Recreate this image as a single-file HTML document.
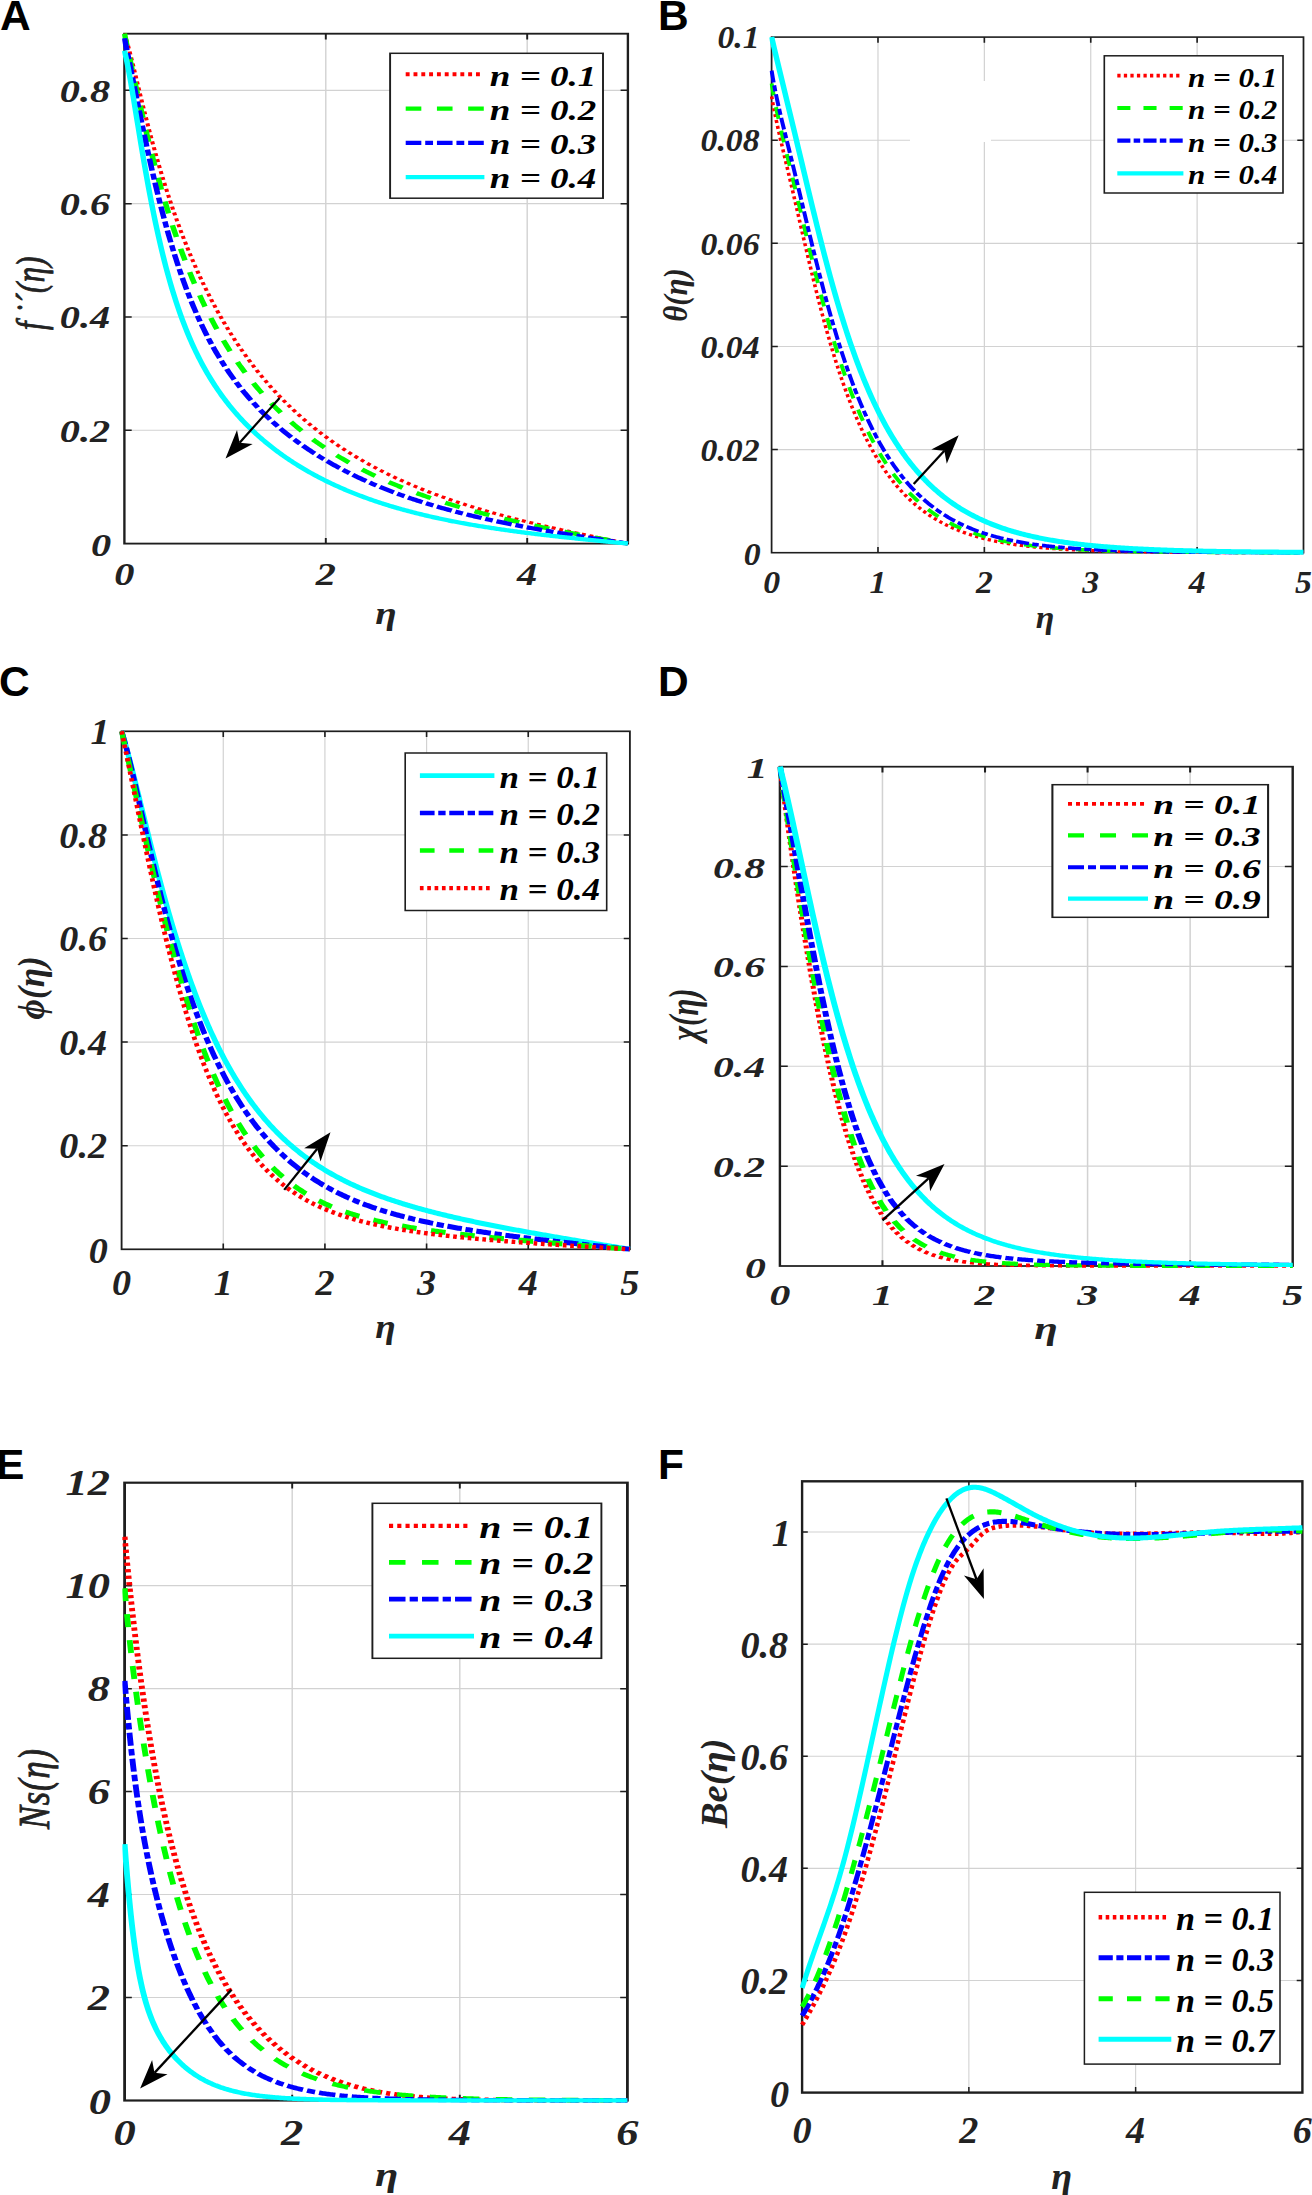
<!DOCTYPE html>
<html><head><meta charset="utf-8"><title>Figure</title>
<style>html,body{margin:0;padding:0;background:#fff}svg{display:block}</style></head>
<body>
<svg width="1312" height="2195" viewBox="0 0 1312 2195">
<rect width="1312" height="2195" fill="#fff"/>
<!-- panel A -->
<g transform="translate(124.4,0) scale(1.28,1)">
<path d="M157.34 33.7V543.6M314.69 33.7V543.6M0 430.29H393.36M0 316.98H393.36M0 203.67H393.36M0 90.36H393.36" stroke="#d2d2d2" stroke-width="1.1" fill="none"/>
<rect x="0" y="33.7" width="393.36" height="509.9" fill="none" stroke="#1e1e1e" stroke-width="1.85"/>
<path d="M157.34 543.6v-5.7M157.34 33.7v5.7M314.69 543.6v-5.7M314.69 33.7v5.7M0 430.29h5.7M393.36 430.29h-5.7M0 316.98h5.7M393.36 316.98h-5.7M0 203.67h5.7M393.36 203.67h-5.7M0 90.36h5.7M393.36 90.36h-5.7" stroke="#1e1e1e" stroke-width="1.5" fill="none"/>
<clipPath id="clipA"><rect x="-1.72" y="31.7" width="396.8" height="514.1"/></clipPath>
<g clip-path="url(#clipA)" fill="none" stroke-width="4.3">
<path d="M0 33.7L0.98 37.51L1.97 41.69L2.95 46.17L3.93 50.87L4.92 55.74L5.9 60.74L6.88 65.83L7.87 70.98L8.85 76.17L9.83 81.36L10.82 86.55L11.8 91.73L12.78 96.88L13.77 101.99L14.75 107.05L15.73 112.07L16.72 117.04L17.7 121.95L18.68 126.79L19.67 131.58L20.65 136.31L21.63 140.97L22.62 145.57L23.6 150.1L24.58 154.57L25.57 158.98L26.55 163.32L27.54 167.6L28.52 171.82L29.5 175.98L30.49 180.07L31.47 184.11L32.45 188.09L33.44 192.01L34.42 195.87L35.4 199.68L36.39 203.43L37.37 207.13L38.35 210.78L39.34 214.37L40.32 217.91L41.3 221.4L42.29 224.84L43.27 228.24L44.25 231.58L45.24 234.88L46.22 238.14L47.2 241.34L48.19 244.51L49.17 247.63L50.15 250.71L51.14 253.74L52.12 256.73L53.1 259.69L54.09 262.6L55.07 265.48L56.05 268.31L57.04 271.11L58.02 273.87L59 276.6L59.99 279.29L60.97 281.94L61.95 284.57L62.94 287.15L63.92 289.7L64.9 292.23L65.89 294.71L66.87 297.17L67.85 299.6L68.84 301.99L69.82 304.36L70.8 306.69L71.79 309L72.77 311.28L73.75 313.53L74.74 315.75L75.72 317.95L76.71 320.12L77.69 322.26L78.67 324.38L79.66 326.47L80.64 328.54L81.62 330.58L82.61 332.6L83.59 334.59L84.57 336.56L85.56 338.51L86.54 340.44L87.52 342.34L88.51 344.22L89.49 346.08L90.47 347.92L91.46 349.74L92.44 351.54L93.42 353.32L94.41 355.07L95.39 356.81L96.37 358.53L97.36 360.23L98.34 361.91L99.32 363.57L100.31 365.22L101.29 366.84L102.27 368.45L103.26 370.04L104.24 371.62L105.22 373.18L106.21 374.72L107.19 376.24L108.17 377.75L109.16 379.24L110.14 380.72L111.12 382.18L112.11 383.63L113.09 385.06L114.07 386.47L115.06 387.88L116.04 389.26L117.02 390.64L118.01 392L118.99 393.34L119.97 394.67L120.96 395.99L121.94 397.3L122.92 398.59L123.91 399.87L124.89 401.14L125.87 402.39L126.86 403.63L127.84 404.86L128.83 406.08L129.81 407.29L130.79 408.48L131.78 409.67L132.76 410.84L133.74 412L134.73 413.15L135.71 414.28L136.69 415.41L137.68 416.53L138.66 417.63L139.64 418.73L140.63 419.82L141.61 420.89L142.59 421.96L143.58 423.01L144.56 424.06L145.54 425.09L146.53 426.12L147.51 427.14L148.49 428.15L149.48 429.14L150.46 430.13L151.44 431.12L152.43 432.09L153.41 433.05L154.39 434.01L155.38 434.95L156.36 435.89L157.34 436.82L158.33 437.74L159.31 438.65L160.29 439.56L161.28 440.45L162.26 441.34L163.24 442.23L164.23 443.1L165.21 443.97L166.19 444.82L167.18 445.68L168.16 446.52L169.14 447.36L170.13 448.19L171.11 449.01L172.09 449.83L173.08 450.63L174.06 451.44L175.04 452.23L176.03 453.02L177.01 453.8L178 454.58L178.98 455.35L179.96 456.11L180.95 456.87L181.93 457.62L182.91 458.36L183.9 459.1L184.88 459.83L185.86 460.56L186.85 461.28L187.83 461.99L188.81 462.7L189.8 463.4L190.78 464.1L191.76 464.79L192.75 465.47L193.73 466.16L194.71 466.83L195.7 467.5L196.68 468.16L197.66 468.82L198.65 469.48L199.63 470.13L200.61 470.77L201.6 471.41L202.58 472.04L203.56 472.67L204.55 473.3L205.53 473.92L206.51 474.53L207.5 475.14L208.48 475.74L209.46 476.34L210.45 476.94L211.43 477.53L212.41 478.12L213.4 478.7L214.38 479.28L215.36 479.85L216.35 480.42L217.33 480.99L218.31 481.55L219.3 482.11L220.28 482.66L221.26 483.21L222.25 483.75L223.23 484.29L224.21 484.83L225.2 485.36L226.18 485.89L227.17 486.42L228.15 486.94L229.13 487.46L230.12 487.97L231.1 488.48L232.08 488.99L233.07 489.49L234.05 489.99L235.03 490.49L236.02 490.98L237 491.47L237.98 491.95L238.97 492.44L239.95 492.92L240.93 493.39L241.92 493.86L242.9 494.33L243.88 494.8L244.87 495.26L245.85 495.72L246.83 496.18L247.82 496.63L248.8 497.08L249.78 497.53L250.77 497.98L251.75 498.42L252.73 498.86L253.72 499.29L254.7 499.72L255.68 500.16L256.67 500.58L257.65 501.01L258.63 501.43L259.62 501.85L260.6 502.26L261.58 502.68L262.57 503.09L263.55 503.5L264.53 503.9L265.52 504.31L266.5 504.71L267.48 505.11L268.47 505.5L269.45 505.9L270.43 506.29L271.42 506.68L272.4 507.06L273.38 507.45L274.37 507.83L275.35 508.21L276.33 508.59L277.32 508.96L278.3 509.34L279.29 509.71L280.27 510.08L281.25 510.44L282.24 510.81L283.22 511.17L284.2 511.53L285.19 511.89L286.17 512.25L287.15 512.6L288.14 512.95L289.12 513.3L290.1 513.65L291.09 514L292.07 514.34L293.05 514.69L294.04 515.03L295.02 515.37L296 515.71L296.99 516.04L297.97 516.38L298.95 516.71L299.94 517.04L300.92 517.37L301.9 517.7L302.89 518.02L303.87 518.35L304.85 518.67L305.84 518.99L306.82 519.31L307.8 519.63L308.79 519.94L309.77 520.26L310.75 520.57L311.74 520.89L312.72 521.2L313.7 521.51L314.69 521.81L315.67 522.12L316.65 522.43L317.64 522.73L318.62 523.03L319.6 523.33L320.59 523.64L321.57 523.93L322.55 524.23L323.54 524.53L324.52 524.82L325.5 525.12L326.49 525.41L327.47 525.7L328.46 525.99L329.44 526.28L330.42 526.57L331.41 526.86L332.39 527.15L333.37 527.43L334.36 527.72L335.34 528L336.32 528.28L337.31 528.56L338.29 528.85L339.27 529.13L340.26 529.4L341.24 529.68L342.22 529.96L343.21 530.24L344.19 530.51L345.17 530.79L346.16 531.06L347.14 531.33L348.12 531.61L349.11 531.88L350.09 532.15L351.07 532.42L352.06 532.69L353.04 532.96L354.02 533.22L355.01 533.49L355.99 533.76L356.97 534.03L357.96 534.29L358.94 534.56L359.92 534.82L360.91 535.09L361.89 535.35L362.87 535.61L363.86 535.87L364.84 536.14L365.82 536.4L366.81 536.66L367.79 536.92L368.77 537.18L369.76 537.44L370.74 537.7L371.72 537.96L372.71 538.22L373.69 538.48L374.67 538.73L375.66 538.99L376.64 539.25L377.63 539.51L378.61 539.76L379.59 540.02L380.58 540.28L381.56 540.53L382.54 540.79L383.53 541.05L384.51 541.3L385.49 541.56L386.48 541.81L387.46 542.07L388.44 542.32L389.43 542.58L390.41 542.83L391.39 543.09L392.38 543.34L393.36 543.6" stroke="#ff0000" stroke-dasharray="3.05 3.05" stroke-width="3.18"/>
<path d="M0 33.7L0.98 39.51L1.97 45.35L2.95 51.2L3.93 57.06L4.92 62.9L5.9 68.74L6.88 74.54L7.87 80.31L8.85 86.04L9.83 91.73L10.82 97.37L11.8 102.95L12.78 108.47L13.77 113.94L14.75 119.34L15.73 124.67L16.72 129.94L17.7 135.14L18.68 140.27L19.67 145.33L20.65 150.32L21.63 155.24L22.62 160.09L23.6 164.87L24.58 169.58L25.57 174.21L26.55 178.78L27.54 183.28L28.52 187.71L29.5 192.07L30.49 196.37L31.47 200.6L32.45 204.76L33.44 208.86L34.42 212.9L35.4 216.87L36.39 220.78L37.37 224.63L38.35 228.42L39.34 232.15L40.32 235.82L41.3 239.44L42.29 242.99L43.27 246.5L44.25 249.95L45.24 253.34L46.22 256.69L47.2 259.98L48.19 263.22L49.17 266.42L50.15 269.56L51.14 272.66L52.12 275.71L53.1 278.71L54.09 281.67L55.07 284.58L56.05 287.45L57.04 290.28L58.02 293.07L59 295.81L59.99 298.52L60.97 301.18L61.95 303.81L62.94 306.4L63.92 308.95L64.9 311.46L65.89 313.94L66.87 316.38L67.85 318.79L68.84 321.16L69.82 323.51L70.8 325.81L71.79 328.09L72.77 330.33L73.75 332.55L74.74 334.73L75.72 336.88L76.71 339.01L77.69 341.1L78.67 343.17L79.66 345.21L80.64 347.22L81.62 349.2L82.61 351.16L83.59 353.09L84.57 355L85.56 356.88L86.54 358.74L87.52 360.57L88.51 362.38L89.49 364.17L90.47 365.93L91.46 367.67L92.44 369.39L93.42 371.09L94.41 372.77L95.39 374.42L96.37 376.06L97.36 377.68L98.34 379.27L99.32 380.85L100.31 382.4L101.29 383.94L102.27 385.46L103.26 386.96L104.24 388.44L105.22 389.91L106.21 391.36L107.19 392.79L108.17 394.2L109.16 395.6L110.14 396.98L111.12 398.35L112.11 399.7L113.09 401.03L114.07 402.35L115.06 403.66L116.04 404.95L117.02 406.22L118.01 407.48L118.99 408.73L119.97 409.96L120.96 411.18L121.94 412.39L122.92 413.58L123.91 414.76L124.89 415.93L125.87 417.08L126.86 418.23L127.84 419.36L128.83 420.47L129.81 421.58L130.79 422.68L131.78 423.76L132.76 424.83L133.74 425.89L134.73 426.94L135.71 427.98L136.69 429.01L137.68 430.03L138.66 431.03L139.64 432.03L140.63 433.02L141.61 433.99L142.59 434.96L143.58 435.92L144.56 436.87L145.54 437.81L146.53 438.74L147.51 439.66L148.49 440.57L149.48 441.47L150.46 442.37L151.44 443.25L152.43 444.13L153.41 445L154.39 445.86L155.38 446.71L156.36 447.55L157.34 448.39L158.33 449.22L159.31 450.04L160.29 450.85L161.28 451.66L162.26 452.46L163.24 453.25L164.23 454.03L165.21 454.81L166.19 455.58L167.18 456.34L168.16 457.09L169.14 457.84L170.13 458.58L171.11 459.32L172.09 460.05L173.08 460.77L174.06 461.49L175.04 462.2L176.03 462.9L177.01 463.6L178 464.29L178.98 464.98L179.96 465.66L180.95 466.33L181.93 467L182.91 467.66L183.9 468.32L184.88 468.97L185.86 469.61L186.85 470.25L187.83 470.89L188.81 471.52L189.8 472.14L190.78 472.76L191.76 473.38L192.75 473.99L193.73 474.59L194.71 475.19L195.7 475.78L196.68 476.37L197.66 476.96L198.65 477.54L199.63 478.12L200.61 478.69L201.6 479.25L202.58 479.81L203.56 480.37L204.55 480.93L205.53 481.47L206.51 482.02L207.5 482.56L208.48 483.1L209.46 483.63L210.45 484.16L211.43 484.68L212.41 485.2L213.4 485.71L214.38 486.23L215.36 486.74L216.35 487.24L217.33 487.74L218.31 488.24L219.3 488.73L220.28 489.22L221.26 489.71L222.25 490.19L223.23 490.67L224.21 491.14L225.2 491.61L226.18 492.08L227.17 492.55L228.15 493.01L229.13 493.47L230.12 493.92L231.1 494.37L232.08 494.82L233.07 495.27L234.05 495.71L235.03 496.15L236.02 496.59L237 497.02L237.98 497.45L238.97 497.88L239.95 498.3L240.93 498.72L241.92 499.14L242.9 499.56L243.88 499.97L244.87 500.38L245.85 500.79L246.83 501.19L247.82 501.59L248.8 501.99L249.78 502.39L250.77 502.78L251.75 503.17L252.73 503.56L253.72 503.95L254.7 504.33L255.68 504.71L256.67 505.09L257.65 505.47L258.63 505.84L259.62 506.22L260.6 506.59L261.58 506.95L262.57 507.32L263.55 507.68L264.53 508.04L265.52 508.4L266.5 508.76L267.48 509.11L268.47 509.46L269.45 509.81L270.43 510.16L271.42 510.5L272.4 510.85L273.38 511.19L274.37 511.53L275.35 511.87L276.33 512.2L277.32 512.54L278.3 512.87L279.29 513.2L280.27 513.53L281.25 513.85L282.24 514.18L283.22 514.5L284.2 514.82L285.19 515.14L286.17 515.46L287.15 515.77L288.14 516.09L289.12 516.4L290.1 516.71L291.09 517.02L292.07 517.33L293.05 517.63L294.04 517.94L295.02 518.24L296 518.54L296.99 518.84L297.97 519.14L298.95 519.44L299.94 519.73L300.92 520.02L301.9 520.32L302.89 520.61L303.87 520.9L304.85 521.19L305.84 521.47L306.82 521.76L307.8 522.04L308.79 522.33L309.77 522.61L310.75 522.89L311.74 523.17L312.72 523.45L313.7 523.72L314.69 524L315.67 524.27L316.65 524.55L317.64 524.82L318.62 525.09L319.6 525.36L320.59 525.63L321.57 525.9L322.55 526.16L323.54 526.43L324.52 526.7L325.5 526.96L326.49 527.22L327.47 527.48L328.46 527.74L329.44 528L330.42 528.26L331.41 528.52L332.39 528.78L333.37 529.04L334.36 529.29L335.34 529.55L336.32 529.8L337.31 530.05L338.29 530.3L339.27 530.56L340.26 530.81L341.24 531.06L342.22 531.31L343.21 531.55L344.19 531.8L345.17 532.05L346.16 532.3L347.14 532.54L348.12 532.79L349.11 533.03L350.09 533.27L351.07 533.52L352.06 533.76L353.04 534L354.02 534.24L355.01 534.48L355.99 534.73L356.97 534.97L357.96 535.2L358.94 535.44L359.92 535.68L360.91 535.92L361.89 536.16L362.87 536.39L363.86 536.63L364.84 536.87L365.82 537.1L366.81 537.34L367.79 537.57L368.77 537.81L369.76 538.04L370.74 538.28L371.72 538.51L372.71 538.74L373.69 538.98L374.67 539.21L375.66 539.44L376.64 539.67L377.63 539.91L378.61 540.14L379.59 540.37L380.58 540.6L381.56 540.83L382.54 541.06L383.53 541.29L384.51 541.53L385.49 541.76L386.48 541.99L387.46 542.22L388.44 542.45L389.43 542.68L390.41 542.91L391.39 543.14L392.38 543.37L393.36 543.6" stroke="#00ff00" stroke-dasharray="12.2 12.2"/>
<path d="M0 38.23L0.98 44.19L1.97 50.23L2.95 56.34L3.93 62.5L4.92 68.69L5.9 74.91L6.88 81.15L7.87 87.38L8.85 93.6L9.83 99.8L10.82 105.97L11.8 112.1L12.78 118.2L13.77 124.24L14.75 130.23L15.73 136.16L16.72 142.03L17.7 147.83L18.68 153.56L19.67 159.21L20.65 164.79L21.63 170.29L22.62 175.71L23.6 181.05L24.58 186.31L25.57 191.48L26.55 196.57L27.54 201.58L28.52 206.5L29.5 211.34L30.49 216.09L31.47 220.76L32.45 225.35L33.44 229.85L34.42 234.27L35.4 238.61L36.39 242.86L37.37 247.04L38.35 251.14L39.34 255.16L40.32 259.1L41.3 262.97L42.29 266.77L43.27 270.49L44.25 274.14L45.24 277.72L46.22 281.23L47.2 284.67L48.19 288.05L49.17 291.36L50.15 294.61L51.14 297.79L52.12 300.92L53.1 303.98L54.09 306.99L55.07 309.93L56.05 312.83L57.04 315.67L58.02 318.45L59 321.18L59.99 323.86L60.97 326.49L61.95 329.08L62.94 331.61L63.92 334.1L64.9 336.55L65.89 338.95L66.87 341.3L67.85 343.62L68.84 345.89L69.82 348.13L70.8 350.32L71.79 352.48L72.77 354.6L73.75 356.69L74.74 358.74L75.72 360.75L76.71 362.73L77.69 364.68L78.67 366.6L79.66 368.49L80.64 370.34L81.62 372.17L82.61 373.97L83.59 375.74L84.57 377.48L85.56 379.2L86.54 380.89L87.52 382.55L88.51 384.19L89.49 385.81L90.47 387.4L91.46 388.97L92.44 390.51L93.42 392.04L94.41 393.54L95.39 395.02L96.37 396.48L97.36 397.92L98.34 399.35L99.32 400.75L100.31 402.13L101.29 403.5L102.27 404.85L103.26 406.18L104.24 407.49L105.22 408.79L106.21 410.07L107.19 411.33L108.17 412.58L109.16 413.81L110.14 415.03L111.12 416.24L112.11 417.43L113.09 418.6L114.07 419.76L115.06 420.91L116.04 422.05L117.02 423.17L118.01 424.28L118.99 425.37L119.97 426.46L120.96 427.53L121.94 428.59L122.92 429.64L123.91 430.67L124.89 431.7L125.87 432.72L126.86 433.72L127.84 434.71L128.83 435.7L129.81 436.67L130.79 437.63L131.78 438.59L132.76 439.53L133.74 440.46L134.73 441.39L135.71 442.3L136.69 443.21L137.68 444.11L138.66 444.99L139.64 445.87L140.63 446.74L141.61 447.61L142.59 448.46L143.58 449.31L144.56 450.15L145.54 450.98L146.53 451.8L147.51 452.61L148.49 453.42L149.48 454.22L150.46 455.01L151.44 455.79L152.43 456.57L153.41 457.34L154.39 458.11L155.38 458.86L156.36 459.61L157.34 460.35L158.33 461.09L159.31 461.82L160.29 462.54L161.28 463.26L162.26 463.97L163.24 464.67L164.23 465.37L165.21 466.06L166.19 466.75L167.18 467.43L168.16 468.1L169.14 468.77L170.13 469.43L171.11 470.09L172.09 470.74L173.08 471.39L174.06 472.03L175.04 472.66L176.03 473.29L177.01 473.92L178 474.53L178.98 475.15L179.96 475.76L180.95 476.36L181.93 476.96L182.91 477.55L183.9 478.14L184.88 478.72L185.86 479.3L186.85 479.88L187.83 480.44L188.81 481.01L189.8 481.57L190.78 482.12L191.76 482.68L192.75 483.22L193.73 483.76L194.71 484.3L195.7 484.83L196.68 485.36L197.66 485.89L198.65 486.41L199.63 486.93L200.61 487.44L201.6 487.95L202.58 488.45L203.56 488.95L204.55 489.45L205.53 489.94L206.51 490.43L207.5 490.91L208.48 491.39L209.46 491.87L210.45 492.34L211.43 492.81L212.41 493.28L213.4 493.74L214.38 494.2L215.36 494.65L216.35 495.11L217.33 495.55L218.31 496L219.3 496.44L220.28 496.88L221.26 497.31L222.25 497.74L223.23 498.17L224.21 498.6L225.2 499.02L226.18 499.44L227.17 499.85L228.15 500.26L229.13 500.67L230.12 501.08L231.1 501.48L232.08 501.88L233.07 502.28L234.05 502.67L235.03 503.06L236.02 503.45L237 503.84L237.98 504.22L238.97 504.6L239.95 504.98L240.93 505.35L241.92 505.72L242.9 506.09L243.88 506.46L244.87 506.82L245.85 507.18L246.83 507.54L247.82 507.9L248.8 508.25L249.78 508.6L250.77 508.95L251.75 509.29L252.73 509.64L253.72 509.98L254.7 510.32L255.68 510.65L256.67 510.99L257.65 511.32L258.63 511.65L259.62 511.98L260.6 512.3L261.58 512.62L262.57 512.94L263.55 513.26L264.53 513.58L265.52 513.89L266.5 514.2L267.48 514.51L268.47 514.82L269.45 515.13L270.43 515.43L271.42 515.73L272.4 516.03L273.38 516.33L274.37 516.63L275.35 516.92L276.33 517.21L277.32 517.5L278.3 517.79L279.29 518.08L280.27 518.36L281.25 518.64L282.24 518.93L283.22 519.21L284.2 519.48L285.19 519.76L286.17 520.03L287.15 520.31L288.14 520.58L289.12 520.85L290.1 521.11L291.09 521.38L292.07 521.64L293.05 521.91L294.04 522.17L295.02 522.43L296 522.69L296.99 522.95L297.97 523.2L298.95 523.46L299.94 523.71L300.92 523.96L301.9 524.21L302.89 524.46L303.87 524.7L304.85 524.95L305.84 525.2L306.82 525.44L307.8 525.68L308.79 525.92L309.77 526.16L310.75 526.4L311.74 526.64L312.72 526.87L313.7 527.11L314.69 527.34L315.67 527.57L316.65 527.8L317.64 528.03L318.62 528.26L319.6 528.49L320.59 528.72L321.57 528.94L322.55 529.17L323.54 529.39L324.52 529.62L325.5 529.84L326.49 530.06L327.47 530.28L328.46 530.5L329.44 530.71L330.42 530.93L331.41 531.15L332.39 531.36L333.37 531.58L334.36 531.79L335.34 532L336.32 532.22L337.31 532.43L338.29 532.64L339.27 532.85L340.26 533.06L341.24 533.26L342.22 533.47L343.21 533.68L344.19 533.88L345.17 534.09L346.16 534.29L347.14 534.5L348.12 534.7L349.11 534.9L350.09 535.11L351.07 535.31L352.06 535.51L353.04 535.71L354.02 535.91L355.01 536.11L355.99 536.31L356.97 536.5L357.96 536.7L358.94 536.9L359.92 537.1L360.91 537.29L361.89 537.49L362.87 537.68L363.86 537.88L364.84 538.07L365.82 538.27L366.81 538.46L367.79 538.65L368.77 538.85L369.76 539.04L370.74 539.23L371.72 539.42L372.71 539.62L373.69 539.81L374.67 540L375.66 540.19L376.64 540.38L377.63 540.57L378.61 540.76L379.59 540.95L380.58 541.14L381.56 541.33L382.54 541.52L383.53 541.71L384.51 541.9L385.49 542.09L386.48 542.28L387.46 542.47L388.44 542.66L389.43 542.84L390.41 543.03L391.39 543.22L392.38 543.41L393.36 543.6" stroke="#0000ff" stroke-dasharray="12.2 3.05 6.1 3.05"/>
<path d="M0 50.7L0.98 55.83L1.97 61.63L2.95 67.95L3.93 74.69L4.92 81.77L5.9 89.09L6.88 96.59L7.87 104.22L8.85 111.91L9.83 119.64L10.82 127.35L11.8 135.03L12.78 142.65L13.77 150.18L14.75 157.61L15.73 164.92L16.72 172.11L17.7 179.17L18.68 186.08L19.67 192.84L20.65 199.46L21.63 205.92L22.62 212.23L23.6 218.38L24.58 224.38L25.57 230.23L26.55 235.92L27.54 241.47L28.52 246.87L29.5 252.13L30.49 257.25L31.47 262.23L32.45 267.08L33.44 271.8L34.42 276.39L35.4 280.86L36.39 285.21L37.37 289.45L38.35 293.57L39.34 297.59L40.32 301.5L41.3 305.3L42.29 309.01L43.27 312.63L44.25 316.15L45.24 319.58L46.22 322.93L47.2 326.19L48.19 329.38L49.17 332.48L50.15 335.51L51.14 338.47L52.12 341.36L53.1 344.19L54.09 346.94L55.07 349.64L56.05 352.27L57.04 354.84L58.02 357.36L59 359.82L59.99 362.23L60.97 364.59L61.95 366.9L62.94 369.16L63.92 371.38L64.9 373.55L65.89 375.67L66.87 377.76L67.85 379.8L68.84 381.81L69.82 383.77L70.8 385.7L71.79 387.6L72.77 389.46L73.75 391.28L74.74 393.07L75.72 394.84L76.71 396.57L77.69 398.27L78.67 399.94L79.66 401.58L80.64 403.2L81.62 404.79L82.61 406.35L83.59 407.89L84.57 409.41L85.56 410.9L86.54 412.36L87.52 413.81L88.51 415.23L89.49 416.64L90.47 418.02L91.46 419.38L92.44 420.72L93.42 422.04L94.41 423.34L95.39 424.63L96.37 425.9L97.36 427.15L98.34 428.38L99.32 429.59L100.31 430.79L101.29 431.98L102.27 433.14L103.26 434.3L104.24 435.44L105.22 436.56L106.21 437.67L107.19 438.76L108.17 439.84L109.16 440.91L110.14 441.97L111.12 443.01L112.11 444.04L113.09 445.05L114.07 446.06L115.06 447.05L116.04 448.03L117.02 449L118.01 449.96L118.99 450.91L119.97 451.84L120.96 452.77L121.94 453.68L122.92 454.59L123.91 455.48L124.89 456.36L125.87 457.24L126.86 458.1L127.84 458.96L128.83 459.81L129.81 460.64L130.79 461.47L131.78 462.29L132.76 463.1L133.74 463.9L134.73 464.69L135.71 465.48L136.69 466.25L137.68 467.02L138.66 467.78L139.64 468.53L140.63 469.27L141.61 470.01L142.59 470.74L143.58 471.46L144.56 472.17L145.54 472.88L146.53 473.58L147.51 474.27L148.49 474.96L149.48 475.63L150.46 476.3L151.44 476.97L152.43 477.63L153.41 478.28L154.39 478.92L155.38 479.56L156.36 480.19L157.34 480.82L158.33 481.44L159.31 482.05L160.29 482.66L161.28 483.26L162.26 483.85L163.24 484.44L164.23 485.03L165.21 485.6L166.19 486.18L167.18 486.74L168.16 487.3L169.14 487.86L170.13 488.41L171.11 488.96L172.09 489.5L173.08 490.03L174.06 490.56L175.04 491.08L176.03 491.6L177.01 492.12L178 492.63L178.98 493.13L179.96 493.63L180.95 494.13L181.93 494.62L182.91 495.1L183.9 495.59L184.88 496.06L185.86 496.53L186.85 497L187.83 497.46L188.81 497.92L189.8 498.38L190.78 498.83L191.76 499.27L192.75 499.72L193.73 500.15L194.71 500.59L195.7 501.02L196.68 501.44L197.66 501.87L198.65 502.28L199.63 502.7L200.61 503.11L201.6 503.51L202.58 503.92L203.56 504.32L204.55 504.71L205.53 505.1L206.51 505.49L207.5 505.88L208.48 506.26L209.46 506.63L210.45 507.01L211.43 507.38L212.41 507.75L213.4 508.11L214.38 508.47L215.36 508.83L216.35 509.18L217.33 509.53L218.31 509.88L219.3 510.22L220.28 510.57L221.26 510.9L222.25 511.24L223.23 511.57L224.21 511.9L225.2 512.23L226.18 512.55L227.17 512.87L228.15 513.19L229.13 513.51L230.12 513.82L231.1 514.13L232.08 514.43L233.07 514.74L234.05 515.04L235.03 515.34L236.02 515.63L237 515.93L237.98 516.22L238.97 516.51L239.95 516.79L240.93 517.08L241.92 517.36L242.9 517.64L243.88 517.91L244.87 518.19L245.85 518.46L246.83 518.73L247.82 518.99L248.8 519.26L249.78 519.52L250.77 519.78L251.75 520.04L252.73 520.29L253.72 520.55L254.7 520.8L255.68 521.05L256.67 521.29L257.65 521.54L258.63 521.78L259.62 522.02L260.6 522.26L261.58 522.5L262.57 522.74L263.55 522.97L264.53 523.2L265.52 523.43L266.5 523.66L267.48 523.88L268.47 524.11L269.45 524.33L270.43 524.55L271.42 524.77L272.4 524.98L273.38 525.2L274.37 525.41L275.35 525.62L276.33 525.83L277.32 526.04L278.3 526.25L279.29 526.45L280.27 526.66L281.25 526.86L282.24 527.06L283.22 527.26L284.2 527.46L285.19 527.65L286.17 527.85L287.15 528.04L288.14 528.23L289.12 528.42L290.1 528.61L291.09 528.8L292.07 528.99L293.05 529.17L294.04 529.35L295.02 529.54L296 529.72L296.99 529.9L297.97 530.07L298.95 530.25L299.94 530.43L300.92 530.6L301.9 530.77L302.89 530.95L303.87 531.12L304.85 531.29L305.84 531.46L306.82 531.62L307.8 531.79L308.79 531.96L309.77 532.12L310.75 532.28L311.74 532.45L312.72 532.61L313.7 532.77L314.69 532.93L315.67 533.08L316.65 533.24L317.64 533.4L318.62 533.55L319.6 533.71L320.59 533.86L321.57 534.01L322.55 534.17L323.54 534.32L324.52 534.47L325.5 534.62L326.49 534.76L327.47 534.91L328.46 535.06L329.44 535.2L330.42 535.35L331.41 535.49L332.39 535.64L333.37 535.78L334.36 535.92L335.34 536.06L336.32 536.2L337.31 536.34L338.29 536.48L339.27 536.62L340.26 536.76L341.24 536.9L342.22 537.04L343.21 537.17L344.19 537.31L345.17 537.44L346.16 537.58L347.14 537.71L348.12 537.84L349.11 537.98L350.09 538.11L351.07 538.24L352.06 538.37L353.04 538.5L354.02 538.63L355.01 538.76L355.99 538.89L356.97 539.02L357.96 539.15L358.94 539.28L359.92 539.41L360.91 539.53L361.89 539.66L362.87 539.79L363.86 539.92L364.84 540.04L365.82 540.17L366.81 540.29L367.79 540.42L368.77 540.54L369.76 540.67L370.74 540.79L371.72 540.91L372.71 541.04L373.69 541.16L374.67 541.29L375.66 541.41L376.64 541.53L377.63 541.65L378.61 541.78L379.59 541.9L380.58 542.02L381.56 542.14L382.54 542.26L383.53 542.39L384.51 542.51L385.49 542.63L386.48 542.75L387.46 542.87L388.44 542.99L389.43 543.12L390.41 543.24L391.39 543.36L392.38 543.48L393.36 543.6" stroke="#00ffff"/>
</g>
<g font-family='"Liberation Serif", serif' font-weight="bold" font-style="italic" fill="#222222" font-size="31.5">
<text x="-10.39" y="555.95" text-anchor="end">0</text>
<text x="-11.09" y="441.74" text-anchor="end">0.2</text>
<text x="-11.09" y="328.42" text-anchor="end">0.4</text>
<text x="-11.09" y="215.11" text-anchor="end">0.6</text>
<text x="-11.09" y="101.8" text-anchor="end">0.8</text>
<text x="0" y="585.05" text-anchor="middle">0</text>
<text x="157.34" y="585.05" text-anchor="middle">2</text>
<text x="314.69" y="585.05" text-anchor="middle">4</text>
<text x="204.38" y="624.4" text-anchor="middle" font-size="30.5">η</text>
</g>
<text transform="translate(-70.39,293) rotate(-90)" text-anchor="middle" font-family='"Liberation Serif", serif' font-style="italic" font-weight="normal" font-size="30.5" fill="#222222" stroke="#222222" stroke-width="0.7" letter-spacing="0.55" y="7.32">f ˙´(η)</text>
<rect x="207.58" y="53.3" width="166.33" height="144.9" fill="#fff" stroke="#1e1e1e" stroke-width="1.5"/>
<path d="M219.77 74.3H277.72" stroke="#ff0000" stroke-width="3.87" fill="none" stroke-dasharray="3.05 3.05"/>
<text x="285.47" y="85.53" font-family='"Liberation Serif", serif' font-weight="bold" font-style="italic" font-size="28.8" fill="#000" xml:space="preserve" textLength="83.26" lengthAdjust="spacingAndGlyphs">n = 0.1</text>
<path d="M219.77 108.6H281.25" stroke="#00ff00" stroke-width="4.3" fill="none" stroke-dasharray="12.2 12.2"/>
<text x="285.47" y="119.83" font-family='"Liberation Serif", serif' font-weight="bold" font-style="italic" font-size="28.8" fill="#000" xml:space="preserve" textLength="83.26" lengthAdjust="spacingAndGlyphs">n = 0.2</text>
<path d="M219.77 142.9H281.25" stroke="#0000ff" stroke-width="4.3" fill="none" stroke-dasharray="12.2 3.05 6.1 3.05"/>
<text x="285.47" y="154.13" font-family='"Liberation Serif", serif' font-weight="bold" font-style="italic" font-size="28.8" fill="#000" xml:space="preserve" textLength="83.26" lengthAdjust="spacingAndGlyphs">n = 0.3</text>
<path d="M219.77 177.2H281.25" stroke="#00ffff" stroke-width="4.3" fill="none"/>
<text x="285.47" y="188.43" font-family='"Liberation Serif", serif' font-weight="bold" font-style="italic" font-size="28.8" fill="#000" xml:space="preserve" textLength="83.26" lengthAdjust="spacingAndGlyphs">n = 0.4</text>
</g>
<line x1="279.6" y1="398" x2="239.61" y2="442.72" stroke="#000" stroke-width="2.3"/><polygon points="225.5,458.5 237,429.88 239.61,442.72 252.66,443.88" fill="#000"/>
<text x="0" y="30" font-family='"Liberation Sans", sans-serif' font-weight="bold" font-size="42.5" fill="#000">A</text>
<!-- panel B -->
<g transform="translate(771.6,0) scale(1.09,1)">
<path d="M97.6 37.1V552.7M195.19 37.1V552.7M292.79 37.1V552.7M390.39 37.1V552.7M0 449.58H487.98M0 346.46H487.98M0 243.34H487.98M0 140.22H487.98" stroke="#d2d2d2" stroke-width="1.1" fill="none"/>
<rect x="126.97" y="81" width="74.31" height="61" fill="#fff"/>
<rect x="0" y="37.1" width="487.98" height="515.6" fill="none" stroke="#1e1e1e" stroke-width="1.6"/>
<path d="M97.6 552.7v-5.7M97.6 37.1v5.7M195.19 552.7v-5.7M195.19 37.1v5.7M292.79 552.7v-5.7M292.79 37.1v5.7M390.39 552.7v-5.7M390.39 37.1v5.7M0 449.58h5.7M487.98 449.58h-5.7M0 346.46h5.7M487.98 346.46h-5.7M0 243.34h5.7M487.98 243.34h-5.7M0 140.22h5.7M487.98 140.22h-5.7" stroke="#1e1e1e" stroke-width="1.5" fill="none"/>
<clipPath id="clipB"><rect x="-2.02" y="35.1" width="492.02" height="519.8"/></clipPath>
<g clip-path="url(#clipB)" fill="none" stroke-width="3.65">
<path d="M0 96.39L1.22 103.68L2.44 110.55L3.66 117.09L4.88 123.35L6.1 129.4L7.32 135.28L8.54 141.05L9.76 146.74L10.98 152.38L12.2 157.99L13.42 163.59L14.64 169.19L15.86 174.82L17.08 180.46L18.3 186.13L19.52 191.82L20.74 197.54L21.96 203.27L23.18 209.02L24.4 214.78L25.62 220.55L26.84 226.31L28.06 232.07L29.28 237.81L30.5 243.53L31.72 249.23L32.94 254.89L34.16 260.52L35.38 266.1L36.6 271.64L37.82 277.13L39.04 282.56L40.26 287.94L41.48 293.25L42.7 298.5L43.92 303.68L45.14 308.79L46.36 313.83L47.58 318.8L48.8 323.69L50.02 328.51L51.24 333.25L52.46 337.92L53.68 342.5L54.9 347.01L56.12 351.44L57.34 355.8L58.56 360.07L59.78 364.27L61 368.38L62.22 372.43L63.44 376.39L64.66 380.28L65.88 384.09L67.1 387.83L68.32 391.5L69.54 395.09L70.76 398.61L71.98 402.05L73.2 405.43L74.42 408.74L75.64 411.98L76.86 415.15L78.08 418.25L79.3 421.29L80.52 424.27L81.74 427.18L82.96 430.03L84.18 432.82L85.4 435.55L86.62 438.22L87.84 440.83L89.06 443.39L90.28 445.89L91.5 448.34L92.72 450.73L93.94 453.07L95.16 455.35L96.38 457.59L97.6 459.78L98.82 461.91L100.04 464.01L101.26 466.05L102.48 468.05L103.7 470L104.92 471.91L106.14 473.78L107.36 475.6L108.58 477.39L109.8 479.13L111.02 480.83L112.24 482.5L113.46 484.13L114.68 485.72L115.9 487.27L117.12 488.79L118.34 490.27L119.56 491.72L120.78 493.14L122 494.53L123.22 495.88L124.44 497.2L125.66 498.49L126.88 499.75L128.1 500.99L129.32 502.19L130.54 503.37L131.76 504.52L132.98 505.64L134.19 506.74L135.41 507.81L136.63 508.86L137.85 509.88L139.07 510.88L140.29 511.86L141.51 512.82L142.73 513.75L143.95 514.66L145.17 515.55L146.39 516.42L147.61 517.26L148.83 518.09L150.05 518.9L151.27 519.69L152.49 520.47L153.71 521.22L154.93 521.96L156.15 522.68L157.37 523.38L158.59 524.07L159.81 524.74L161.03 525.39L162.25 526.03L163.47 526.66L164.69 527.27L165.91 527.87L167.13 528.45L168.35 529.02L169.57 529.57L170.79 530.11L172.01 530.64L173.23 531.16L174.45 531.67L175.67 532.16L176.89 532.64L178.11 533.11L179.33 533.57L180.55 534.02L181.77 534.46L182.99 534.89L184.21 535.31L185.43 535.72L186.65 536.11L187.87 536.5L189.09 536.88L190.31 537.26L191.53 537.62L192.75 537.97L193.97 538.32L195.19 538.66L196.41 538.99L197.63 539.31L198.85 539.62L200.07 539.93L201.29 540.23L202.51 540.52L203.73 540.81L204.95 541.09L206.17 541.36L207.39 541.63L208.61 541.89L209.83 542.14L211.05 542.39L212.27 542.64L213.49 542.87L214.71 543.1L215.93 543.33L217.15 543.55L218.37 543.76L219.59 543.98L220.81 544.18L222.03 544.38L223.25 544.58L224.47 544.77L225.69 544.95L226.91 545.14L228.13 545.31L229.35 545.49L230.57 545.66L231.79 545.82L233.01 545.99L234.23 546.14L235.45 546.3L236.67 546.45L237.89 546.6L239.11 546.74L240.33 546.88L241.55 547.02L242.77 547.15L243.99 547.28L245.21 547.41L246.43 547.53L247.65 547.66L248.87 547.77L250.09 547.89L251.31 548L252.53 548.11L253.75 548.22L254.97 548.33L256.19 548.43L257.41 548.53L258.63 548.63L259.85 548.73L261.07 548.82L262.29 548.91L263.51 549L264.73 549.09L265.95 549.17L267.17 549.26L268.39 549.34L269.61 549.42L270.83 549.49L272.05 549.57L273.27 549.64L274.49 549.71L275.71 549.78L276.93 549.85L278.15 549.92L279.37 549.99L280.59 550.05L281.81 550.11L283.03 550.17L284.25 550.23L285.47 550.29L286.69 550.35L287.91 550.4L289.13 550.46L290.35 550.51L291.57 550.56L292.79 550.61L294.01 550.66L295.23 550.71L296.45 550.76L297.67 550.8L298.89 550.85L300.11 550.89L301.33 550.93L302.55 550.97L303.77 551.02L304.99 551.06L306.21 551.09L307.43 551.13L308.65 551.17L309.87 551.21L311.09 551.24L312.31 551.27L313.53 551.31L314.75 551.34L315.97 551.37L317.19 551.4L318.41 551.43L319.63 551.46L320.85 551.49L322.07 551.52L323.29 551.55L324.51 551.58L325.73 551.6L326.95 551.63L328.17 551.65L329.39 551.68L330.61 551.7L331.83 551.73L333.05 551.75L334.27 551.77L335.49 551.79L336.71 551.82L337.93 551.84L339.15 551.86L340.37 551.88L341.59 551.9L342.81 551.92L344.03 551.93L345.25 551.95L346.47 551.97L347.69 551.99L348.91 552L350.13 552.02L351.35 552.04L352.57 552.05L353.79 552.07L355.01 552.08L356.23 552.1L357.45 552.11L358.67 552.12L359.89 552.14L361.11 552.15L362.33 552.16L363.55 552.18L364.77 552.19L365.99 552.2L367.21 552.21L368.43 552.22L369.65 552.24L370.87 552.25L372.09 552.26L373.31 552.27L374.53 552.28L375.75 552.29L376.97 552.3L378.19 552.31L379.41 552.32L380.63 552.33L381.85 552.33L383.07 552.34L384.29 552.35L385.51 552.36L386.73 552.37L387.95 552.38L389.17 552.38L390.39 552.39L391.61 552.4L392.83 552.41L394.05 552.41L395.27 552.42L396.49 552.43L397.71 552.43L398.92 552.44L400.14 552.44L401.36 552.45L402.58 552.46L403.8 552.46L405.02 552.47L406.24 552.47L407.46 552.48L408.68 552.48L409.9 552.49L411.12 552.49L412.34 552.5L413.56 552.5L414.78 552.51L416 552.51L417.22 552.52L418.44 552.52L419.66 552.53L420.88 552.53L422.1 552.53L423.32 552.54L424.54 552.54L425.76 552.55L426.98 552.55L428.2 552.55L429.42 552.56L430.64 552.56L431.86 552.56L433.08 552.57L434.3 552.57L435.52 552.57L436.74 552.58L437.96 552.58L439.18 552.58L440.4 552.58L441.62 552.59L442.84 552.59L444.06 552.59L445.28 552.59L446.5 552.6L447.72 552.6L448.94 552.6L450.16 552.6L451.38 552.61L452.6 552.61L453.82 552.61L455.04 552.61L456.26 552.61L457.48 552.62L458.7 552.62L459.92 552.62L461.14 552.62L462.36 552.62L463.58 552.63L464.8 552.63L466.02 552.63L467.24 552.63L468.46 552.63L469.68 552.63L470.9 552.64L472.12 552.64L473.34 552.64L474.56 552.64L475.78 552.64L477 552.64L478.22 552.64L479.44 552.65L480.66 552.65L481.88 552.65L483.1 552.65L484.32 552.65L485.54 552.65L486.76 552.65L487.98 552.65" stroke="#ff0000" stroke-dasharray="3 3" stroke-width="3.29"/>
<path d="M0 83.5L1.22 91.21L2.44 98.4L3.66 105.16L4.88 111.57L6.1 117.7L7.32 123.62L8.54 129.37L9.76 135L10.98 140.55L12.2 146.05L13.42 151.53L14.64 156.99L15.86 162.45L17.08 167.93L18.3 173.43L19.52 178.95L20.74 184.5L21.96 190.06L23.18 195.65L24.4 201.25L25.62 206.86L26.84 212.48L28.06 218.11L29.28 223.72L30.5 229.33L31.72 234.92L32.94 240.5L34.16 246.04L35.38 251.56L36.6 257.04L37.82 262.49L39.04 267.88L40.26 273.24L41.48 278.54L42.7 283.78L43.92 288.97L45.14 294.1L46.36 299.17L47.58 304.17L48.8 309.11L50.02 313.99L51.24 318.79L52.46 323.52L53.68 328.19L54.9 332.78L56.12 337.3L57.34 341.75L58.56 346.12L59.78 350.43L61 354.66L62.22 358.81L63.44 362.9L64.66 366.91L65.88 370.85L67.1 374.72L68.32 378.52L69.54 382.24L70.76 385.9L71.98 389.49L73.2 393.01L74.42 396.46L75.64 399.85L76.86 403.17L78.08 406.42L79.3 409.61L80.52 412.73L81.74 415.8L82.96 418.8L84.18 421.74L85.4 424.62L86.62 427.44L87.84 430.2L89.06 432.91L90.28 435.56L91.5 438.15L92.72 440.69L93.94 443.18L95.16 445.61L96.38 448L97.6 450.33L98.82 452.61L100.04 454.85L101.26 457.03L102.48 459.17L103.7 461.27L104.92 463.32L106.14 465.32L107.36 467.28L108.58 469.2L109.8 471.08L111.02 472.91L112.24 474.71L113.46 476.47L114.68 478.18L115.9 479.87L117.12 481.51L118.34 483.12L119.56 484.69L120.78 486.23L122 487.73L123.22 489.2L124.44 490.64L125.66 492.05L126.88 493.42L128.1 494.77L129.32 496.08L130.54 497.37L131.76 498.62L132.98 499.85L134.19 501.05L135.41 502.23L136.63 503.37L137.85 504.5L139.07 505.59L140.29 506.67L141.51 507.72L142.73 508.74L143.95 509.74L145.17 510.72L146.39 511.68L147.61 512.62L148.83 513.53L150.05 514.43L151.27 515.3L152.49 516.15L153.71 516.99L154.93 517.81L156.15 518.6L157.37 519.38L158.59 520.14L159.81 520.89L161.03 521.62L162.25 522.33L163.47 523.02L164.69 523.7L165.91 524.37L167.13 525.02L168.35 525.65L169.57 526.27L170.79 526.88L172.01 527.47L173.23 528.05L174.45 528.61L175.67 529.17L176.89 529.71L178.11 530.23L179.33 530.75L180.55 531.25L181.77 531.74L182.99 532.23L184.21 532.7L185.43 533.16L186.65 533.6L187.87 534.04L189.09 534.47L190.31 534.89L191.53 535.3L192.75 535.7L193.97 536.09L195.19 536.47L196.41 536.85L197.63 537.21L198.85 537.57L200.07 537.91L201.29 538.26L202.51 538.59L203.73 538.91L204.95 539.23L206.17 539.54L207.39 539.84L208.61 540.14L209.83 540.43L211.05 540.71L212.27 540.99L213.49 541.26L214.71 541.52L215.93 541.78L217.15 542.03L218.37 542.27L219.59 542.51L220.81 542.75L222.03 542.98L223.25 543.2L224.47 543.42L225.69 543.64L226.91 543.84L228.13 544.05L229.35 544.25L230.57 544.44L231.79 544.63L233.01 544.82L234.23 545L235.45 545.18L236.67 545.35L237.89 545.52L239.11 545.69L240.33 545.85L241.55 546.01L242.77 546.16L243.99 546.31L245.21 546.46L246.43 546.6L247.65 546.74L248.87 546.88L250.09 547.02L251.31 547.15L252.53 547.28L253.75 547.4L254.97 547.52L256.19 547.64L257.41 547.76L258.63 547.87L259.85 547.98L261.07 548.09L262.29 548.2L263.51 548.3L264.73 548.41L265.95 548.5L267.17 548.6L268.39 548.7L269.61 548.79L270.83 548.88L272.05 548.97L273.27 549.05L274.49 549.14L275.71 549.22L276.93 549.3L278.15 549.38L279.37 549.46L280.59 549.53L281.81 549.6L283.03 549.68L284.25 549.75L285.47 549.81L286.69 549.88L287.91 549.95L289.13 550.01L290.35 550.07L291.57 550.13L292.79 550.19L294.01 550.25L295.23 550.31L296.45 550.36L297.67 550.42L298.89 550.47L300.11 550.52L301.33 550.57L302.55 550.62L303.77 550.67L304.99 550.71L306.21 550.76L307.43 550.81L308.65 550.85L309.87 550.89L311.09 550.93L312.31 550.97L313.53 551.01L314.75 551.05L315.97 551.09L317.19 551.13L318.41 551.17L319.63 551.2L320.85 551.24L322.07 551.27L323.29 551.3L324.51 551.33L325.73 551.37L326.95 551.4L328.17 551.43L329.39 551.46L330.61 551.49L331.83 551.51L333.05 551.54L334.27 551.57L335.49 551.59L336.71 551.62L337.93 551.64L339.15 551.67L340.37 551.69L341.59 551.72L342.81 551.74L344.03 551.76L345.25 551.78L346.47 551.8L347.69 551.82L348.91 551.85L350.13 551.86L351.35 551.88L352.57 551.9L353.79 551.92L355.01 551.94L356.23 551.96L357.45 551.97L358.67 551.99L359.89 552.01L361.11 552.02L362.33 552.04L363.55 552.05L364.77 552.07L365.99 552.08L367.21 552.1L368.43 552.11L369.65 552.13L370.87 552.14L372.09 552.15L373.31 552.16L374.53 552.18L375.75 552.19L376.97 552.2L378.19 552.21L379.41 552.22L380.63 552.23L381.85 552.25L383.07 552.26L384.29 552.27L385.51 552.28L386.73 552.29L387.95 552.3L389.17 552.31L390.39 552.31L391.61 552.32L392.83 552.33L394.05 552.34L395.27 552.35L396.49 552.36L397.71 552.36L398.92 552.37L400.14 552.38L401.36 552.39L402.58 552.39L403.8 552.4L405.02 552.41L406.24 552.42L407.46 552.42L408.68 552.43L409.9 552.43L411.12 552.44L412.34 552.45L413.56 552.45L414.78 552.46L416 552.46L417.22 552.47L418.44 552.48L419.66 552.48L420.88 552.49L422.1 552.49L423.32 552.5L424.54 552.5L425.76 552.5L426.98 552.51L428.2 552.51L429.42 552.52L430.64 552.52L431.86 552.53L433.08 552.53L434.3 552.53L435.52 552.54L436.74 552.54L437.96 552.55L439.18 552.55L440.4 552.55L441.62 552.56L442.84 552.56L444.06 552.56L445.28 552.57L446.5 552.57L447.72 552.57L448.94 552.57L450.16 552.58L451.38 552.58L452.6 552.58L453.82 552.59L455.04 552.59L456.26 552.59L457.48 552.59L458.7 552.6L459.92 552.6L461.14 552.6L462.36 552.6L463.58 552.61L464.8 552.61L466.02 552.61L467.24 552.61L468.46 552.61L469.68 552.62L470.9 552.62L472.12 552.62L473.34 552.62L474.56 552.62L475.78 552.63L477 552.63L478.22 552.63L479.44 552.63L480.66 552.63L481.88 552.63L483.1 552.64L484.32 552.64L485.54 552.64L486.76 552.64L487.98 552.64" stroke="#00ff00" stroke-dasharray="12 12"/>
<path d="M0 70.61L1.22 78.42L2.44 85.67L3.66 92.44L4.88 98.84L6.1 104.94L7.32 110.8L8.54 116.48L9.76 122.03L10.98 127.49L12.2 132.89L13.42 138.26L14.64 143.62L15.86 148.99L17.08 154.37L18.3 159.76L19.52 165.18L20.74 170.63L21.96 176.11L23.18 181.6L24.4 187.12L25.62 192.65L26.84 198.2L28.06 203.75L29.28 209.31L30.5 214.86L31.72 220.4L32.94 225.93L34.16 231.44L35.38 236.93L36.6 242.38L37.82 247.81L39.04 253.19L40.26 258.54L41.48 263.84L42.7 269.09L43.92 274.3L45.14 279.44L46.36 284.54L47.58 289.57L48.8 294.55L50.02 299.46L51.24 304.31L52.46 309.1L53.68 313.82L54.9 318.47L56.12 323.05L57.34 327.57L58.56 332.02L59.78 336.4L61 340.71L62.22 344.95L63.44 349.13L64.66 353.23L65.88 357.26L67.1 361.23L68.32 365.13L69.54 368.96L70.76 372.72L71.98 376.41L73.2 380.04L74.42 383.61L75.64 387.1L76.86 390.54L78.08 393.91L79.3 397.21L80.52 400.46L81.74 403.64L82.96 406.76L84.18 409.82L85.4 412.82L86.62 415.77L87.84 418.66L89.06 421.49L90.28 424.26L91.5 426.98L92.72 429.65L93.94 432.26L95.16 434.82L96.38 437.33L97.6 439.79L98.82 442.2L100.04 444.56L101.26 446.87L102.48 449.13L103.7 451.35L104.92 453.52L106.14 455.65L107.36 457.74L108.58 459.78L109.8 461.78L111.02 463.74L112.24 465.65L113.46 467.53L114.68 469.37L115.9 471.17L117.12 472.93L118.34 474.66L119.56 476.35L120.78 478L122 479.62L123.22 481.2L124.44 482.75L125.66 484.27L126.88 485.76L128.1 487.21L129.32 488.64L130.54 490.03L131.76 491.39L132.98 492.73L134.19 494.03L135.41 495.31L136.63 496.56L137.85 497.79L139.07 498.99L140.29 500.16L141.51 501.31L142.73 502.43L143.95 503.53L145.17 504.6L146.39 505.65L147.61 506.68L148.83 507.69L150.05 508.67L151.27 509.64L152.49 510.58L153.71 511.5L154.93 512.41L156.15 513.29L157.37 514.15L158.59 515L159.81 515.83L161.03 516.64L162.25 517.43L163.47 518.2L164.69 518.96L165.91 519.7L167.13 520.43L168.35 521.14L169.57 521.83L170.79 522.51L172.01 523.17L173.23 523.82L174.45 524.46L175.67 525.08L176.89 525.69L178.11 526.28L179.33 526.86L180.55 527.43L181.77 527.99L182.99 528.53L184.21 529.06L185.43 529.59L186.65 530.09L187.87 530.59L189.09 531.08L190.31 531.56L191.53 532.02L192.75 532.48L193.97 532.93L195.19 533.36L196.41 533.79L197.63 534.21L198.85 534.61L200.07 535.01L201.29 535.4L202.51 535.79L203.73 536.16L204.95 536.52L206.17 536.88L207.39 537.23L208.61 537.57L209.83 537.91L211.05 538.23L212.27 538.55L213.49 538.87L214.71 539.17L215.93 539.47L217.15 539.76L218.37 540.05L219.59 540.33L220.81 540.6L222.03 540.87L223.25 541.13L224.47 541.39L225.69 541.64L226.91 541.88L228.13 542.12L229.35 542.36L230.57 542.59L231.79 542.81L233.01 543.03L234.23 543.24L235.45 543.45L236.67 543.66L237.89 543.86L239.11 544.05L240.33 544.24L241.55 544.43L242.77 544.61L243.99 544.79L245.21 544.97L246.43 545.14L247.65 545.31L248.87 545.47L250.09 545.63L251.31 545.79L252.53 545.94L253.75 546.09L254.97 546.24L256.19 546.38L257.41 546.52L258.63 546.66L259.85 546.79L261.07 546.92L262.29 547.05L263.51 547.18L264.73 547.3L265.95 547.42L267.17 547.54L268.39 547.65L269.61 547.76L270.83 547.87L272.05 547.98L273.27 548.08L274.49 548.19L275.71 548.29L276.93 548.38L278.15 548.48L279.37 548.57L280.59 548.67L281.81 548.75L283.03 548.84L284.25 548.93L285.47 549.01L286.69 549.09L287.91 549.17L289.13 549.25L290.35 549.33L291.57 549.4L292.79 549.48L294.01 549.55L295.23 549.62L296.45 549.69L297.67 549.75L298.89 549.82L300.11 549.88L301.33 549.95L302.55 550.01L303.77 550.07L304.99 550.12L306.21 550.18L307.43 550.24L308.65 550.29L309.87 550.35L311.09 550.4L312.31 550.45L313.53 550.5L314.75 550.55L315.97 550.6L317.19 550.64L318.41 550.69L319.63 550.73L320.85 550.78L322.07 550.82L323.29 550.86L324.51 550.9L325.73 550.94L326.95 550.98L328.17 551.02L329.39 551.06L330.61 551.09L331.83 551.13L333.05 551.16L334.27 551.2L335.49 551.23L336.71 551.26L337.93 551.3L339.15 551.33L340.37 551.36L341.59 551.39L342.81 551.42L344.03 551.45L345.25 551.47L346.47 551.5L347.69 551.53L348.91 551.55L350.13 551.58L351.35 551.6L352.57 551.63L353.79 551.65L355.01 551.67L356.23 551.7L357.45 551.72L358.67 551.74L359.89 551.76L361.11 551.78L362.33 551.8L363.55 551.82L364.77 551.84L365.99 551.86L367.21 551.88L368.43 551.9L369.65 551.92L370.87 551.93L372.09 551.95L373.31 551.97L374.53 551.98L375.75 552L376.97 552.02L378.19 552.03L379.41 552.05L380.63 552.06L381.85 552.08L383.07 552.09L384.29 552.1L385.51 552.12L386.73 552.13L387.95 552.14L389.17 552.15L390.39 552.17L391.61 552.18L392.83 552.19L394.05 552.2L395.27 552.21L396.49 552.22L397.71 552.23L398.92 552.24L400.14 552.25L401.36 552.26L402.58 552.27L403.8 552.28L405.02 552.29L406.24 552.3L407.46 552.31L408.68 552.32L409.9 552.33L411.12 552.34L412.34 552.34L413.56 552.35L414.78 552.36L416 552.37L417.22 552.37L418.44 552.38L419.66 552.39L420.88 552.4L422.1 552.4L423.32 552.41L424.54 552.42L425.76 552.42L426.98 552.43L428.2 552.43L429.42 552.44L430.64 552.45L431.86 552.45L433.08 552.46L434.3 552.46L435.52 552.47L436.74 552.47L437.96 552.48L439.18 552.48L440.4 552.49L441.62 552.49L442.84 552.5L444.06 552.5L445.28 552.51L446.5 552.51L447.72 552.51L448.94 552.52L450.16 552.52L451.38 552.53L452.6 552.53L453.82 552.53L455.04 552.54L456.26 552.54L457.48 552.55L458.7 552.55L459.92 552.55L461.14 552.56L462.36 552.56L463.58 552.56L464.8 552.56L466.02 552.57L467.24 552.57L468.46 552.57L469.68 552.58L470.9 552.58L472.12 552.58L473.34 552.58L474.56 552.59L475.78 552.59L477 552.59L478.22 552.59L479.44 552.6L480.66 552.6L481.88 552.6L483.1 552.6L484.32 552.61L485.54 552.61L486.76 552.61L487.98 552.61" stroke="#0000ff" stroke-dasharray="12 3 6 3"/>
<path d="M0 37.1L1.22 42.79L2.44 48.42L3.66 54.01L4.88 59.56L6.1 65.08L7.32 70.58L8.54 76.07L9.76 81.54L10.98 87.01L12.2 92.48L13.42 97.96L14.64 103.44L15.86 108.93L17.08 114.43L18.3 119.94L19.52 125.47L20.74 131.01L21.96 136.55L23.18 142.11L24.4 147.68L25.62 153.25L26.84 158.83L28.06 164.41L29.28 169.99L30.5 175.56L31.72 181.12L32.94 186.68L34.16 192.22L35.38 197.74L36.6 203.24L37.82 208.71L39.04 214.16L40.26 219.57L41.48 224.95L42.7 230.3L43.92 235.6L45.14 240.86L46.36 246.07L47.58 251.24L48.8 256.35L50.02 261.41L51.24 266.42L52.46 271.38L53.68 276.27L54.9 281.1L56.12 285.88L57.34 290.59L58.56 295.24L59.78 299.83L61 304.36L62.22 308.82L63.44 313.21L64.66 317.54L65.88 321.81L67.1 326L68.32 330.14L69.54 334.21L70.76 338.21L71.98 342.15L73.2 346.02L74.42 349.83L75.64 353.58L76.86 357.26L78.08 360.88L79.3 364.43L80.52 367.93L81.74 371.36L82.96 374.74L84.18 378.05L85.4 381.3L86.62 384.5L87.84 387.64L89.06 390.72L90.28 393.75L91.5 396.72L92.72 399.64L93.94 402.5L95.16 405.31L96.38 408.07L97.6 410.78L98.82 413.44L100.04 416.05L101.26 418.61L102.48 421.12L103.7 423.59L104.92 426.01L106.14 428.38L107.36 430.71L108.58 432.99L109.8 435.24L111.02 437.44L112.24 439.6L113.46 441.71L114.68 443.79L115.9 445.83L117.12 447.83L118.34 449.79L119.56 451.72L120.78 453.61L122 455.46L123.22 457.28L124.44 459.06L125.66 460.81L126.88 462.53L128.1 464.21L129.32 465.86L130.54 467.48L131.76 469.07L132.98 470.63L134.19 472.16L135.41 473.67L136.63 475.14L137.85 476.58L139.07 478L140.29 479.39L141.51 480.76L142.73 482.1L143.95 483.41L145.17 484.7L146.39 485.96L147.61 487.2L148.83 488.42L150.05 489.61L151.27 490.78L152.49 491.93L153.71 493.06L154.93 494.17L156.15 495.25L157.37 496.32L158.59 497.36L159.81 498.39L161.03 499.39L162.25 500.38L163.47 501.35L164.69 502.3L165.91 503.23L167.13 504.14L168.35 505.04L169.57 505.92L170.79 506.79L172.01 507.64L173.23 508.47L174.45 509.28L175.67 510.09L176.89 510.87L178.11 511.64L179.33 512.4L180.55 513.14L181.77 513.87L182.99 514.59L184.21 515.29L185.43 515.98L186.65 516.65L187.87 517.32L189.09 517.97L190.31 518.61L191.53 519.23L192.75 519.85L193.97 520.45L195.19 521.05L196.41 521.63L197.63 522.2L198.85 522.76L200.07 523.31L201.29 523.85L202.51 524.38L203.73 524.9L204.95 525.41L206.17 525.91L207.39 526.4L208.61 526.88L209.83 527.35L211.05 527.82L212.27 528.27L213.49 528.72L214.71 529.16L215.93 529.59L217.15 530.01L218.37 530.43L219.59 530.84L220.81 531.24L222.03 531.63L223.25 532.01L224.47 532.39L225.69 532.76L226.91 533.13L228.13 533.49L229.35 533.84L230.57 534.18L231.79 534.52L233.01 534.85L234.23 535.18L235.45 535.5L236.67 535.81L237.89 536.12L239.11 536.42L240.33 536.72L241.55 537.01L242.77 537.3L243.99 537.58L245.21 537.85L246.43 538.12L247.65 538.39L248.87 538.65L250.09 538.91L251.31 539.16L252.53 539.4L253.75 539.65L254.97 539.88L256.19 540.12L257.41 540.35L258.63 540.57L259.85 540.79L261.07 541.01L262.29 541.22L263.51 541.43L264.73 541.63L265.95 541.84L267.17 542.03L268.39 542.23L269.61 542.42L270.83 542.6L272.05 542.79L273.27 542.97L274.49 543.15L275.71 543.32L276.93 543.49L278.15 543.66L279.37 543.82L280.59 543.98L281.81 544.14L283.03 544.3L284.25 544.45L285.47 544.6L286.69 544.75L287.91 544.89L289.13 545.03L290.35 545.17L291.57 545.31L292.79 545.44L294.01 545.57L295.23 545.7L296.45 545.83L297.67 545.95L298.89 546.08L300.11 546.2L301.33 546.31L302.55 546.43L303.77 546.54L304.99 546.65L306.21 546.76L307.43 546.87L308.65 546.98L309.87 547.08L311.09 547.18L312.31 547.28L313.53 547.38L314.75 547.48L315.97 547.57L317.19 547.66L318.41 547.76L319.63 547.85L320.85 547.93L322.07 548.02L323.29 548.1L324.51 548.19L325.73 548.27L326.95 548.35L328.17 548.43L329.39 548.51L330.61 548.58L331.83 548.66L333.05 548.73L334.27 548.8L335.49 548.87L336.71 548.94L337.93 549.01L339.15 549.08L340.37 549.14L341.59 549.2L342.81 549.27L344.03 549.33L345.25 549.39L346.47 549.45L347.69 549.51L348.91 549.57L350.13 549.62L351.35 549.68L352.57 549.73L353.79 549.79L355.01 549.84L356.23 549.89L357.45 549.94L358.67 549.99L359.89 550.04L361.11 550.09L362.33 550.14L363.55 550.18L364.77 550.23L365.99 550.27L367.21 550.32L368.43 550.36L369.65 550.4L370.87 550.44L372.09 550.48L373.31 550.52L374.53 550.56L375.75 550.6L376.97 550.64L378.19 550.68L379.41 550.71L380.63 550.75L381.85 550.78L383.07 550.82L384.29 550.85L385.51 550.89L386.73 550.92L387.95 550.95L389.17 550.98L390.39 551.01L391.61 551.04L392.83 551.07L394.05 551.1L395.27 551.13L396.49 551.16L397.71 551.19L398.92 551.22L400.14 551.24L401.36 551.27L402.58 551.29L403.8 551.32L405.02 551.34L406.24 551.37L407.46 551.39L408.68 551.42L409.9 551.44L411.12 551.46L412.34 551.48L413.56 551.51L414.78 551.53L416 551.55L417.22 551.57L418.44 551.59L419.66 551.61L420.88 551.63L422.1 551.65L423.32 551.67L424.54 551.69L425.76 551.7L426.98 551.72L428.2 551.74L429.42 551.76L430.64 551.77L431.86 551.79L433.08 551.81L434.3 551.82L435.52 551.84L436.74 551.86L437.96 551.87L439.18 551.89L440.4 551.9L441.62 551.91L442.84 551.93L444.06 551.94L445.28 551.96L446.5 551.97L447.72 551.98L448.94 552L450.16 552.01L451.38 552.02L452.6 552.03L453.82 552.04L455.04 552.06L456.26 552.07L457.48 552.08L458.7 552.09L459.92 552.1L461.14 552.11L462.36 552.12L463.58 552.13L464.8 552.14L466.02 552.15L467.24 552.16L468.46 552.17L469.68 552.18L470.9 552.19L472.12 552.2L473.34 552.21L474.56 552.22L475.78 552.23L477 552.24L478.22 552.24L479.44 552.25L480.66 552.26L481.88 552.27L483.1 552.28L484.32 552.28L485.54 552.29L486.76 552.3L487.98 552.31" stroke="#00ffff" stroke-width="5.04"/>
</g>
<g font-family='"Liberation Serif", serif' font-weight="bold" font-style="italic" fill="#222222" font-size="31">
<text x="-10.18" y="564.88" text-anchor="end">0</text>
<text x="-11.01" y="460.86" text-anchor="end">0.02</text>
<text x="-11.01" y="357.74" text-anchor="end">0.04</text>
<text x="-11.01" y="254.62" text-anchor="end">0.06</text>
<text x="-11.01" y="151.5" text-anchor="end">0.08</text>
<text x="-11.01" y="48.38" text-anchor="end">0.1</text>
<text x="0" y="593.18" text-anchor="middle">0</text>
<text x="97.6" y="593.18" text-anchor="middle">1</text>
<text x="195.19" y="593.18" text-anchor="middle">2</text>
<text x="292.79" y="593.18" text-anchor="middle">3</text>
<text x="390.39" y="593.18" text-anchor="middle">4</text>
<text x="487.98" y="593.18" text-anchor="middle">5</text>
<text x="250.83" y="627.7" text-anchor="middle" font-size="31">η</text>
</g>
<text transform="translate(-85.5,295) rotate(-90)" text-anchor="middle" font-family='"Liberation Serif", serif' font-style="italic" font-weight="bold" font-size="31" fill="#222222" y="7.44">θ(η)</text>
<rect x="305.23" y="55.8" width="163.94" height="137.2" fill="#fff" stroke="#1e1e1e" stroke-width="1.5"/>
<path d="M317.16 75.6H374.16" stroke="#ff0000" stroke-width="3.78" fill="none" stroke-dasharray="3 3"/>
<text x="382.02" y="86.6" font-family='"Liberation Serif", serif' font-weight="bold" font-style="italic" font-size="28.2" fill="#000" xml:space="preserve" textLength="81.8" lengthAdjust="spacingAndGlyphs">n = 0.1</text>
<path d="M317.16 108H377.8" stroke="#00ff00" stroke-width="4.2" fill="none" stroke-dasharray="12 12"/>
<text x="382.02" y="119" font-family='"Liberation Serif", serif' font-weight="bold" font-style="italic" font-size="28.2" fill="#000" xml:space="preserve" textLength="81.8" lengthAdjust="spacingAndGlyphs">n = 0.2</text>
<path d="M317.16 140.6H377.8" stroke="#0000ff" stroke-width="4.2" fill="none" stroke-dasharray="12 3 6 3"/>
<text x="382.02" y="151.6" font-family='"Liberation Serif", serif' font-weight="bold" font-style="italic" font-size="28.2" fill="#000" xml:space="preserve" textLength="81.8" lengthAdjust="spacingAndGlyphs">n = 0.3</text>
<path d="M317.16 173.4H377.8" stroke="#00ffff" stroke-width="4.2" fill="none"/>
<text x="382.02" y="184.4" font-family='"Liberation Serif", serif' font-weight="bold" font-style="italic" font-size="28.2" fill="#000" xml:space="preserve" textLength="81.8" lengthAdjust="spacingAndGlyphs">n = 0.4</text>
</g>
<line x1="913.7" y1="484" x2="944.35" y2="450.76" stroke="#000" stroke-width="2.3"/><polygon points="958.7,435.2 946.76,463.64 944.35,450.76 931.32,449.4" fill="#000"/>
<text x="658" y="30" font-family='"Liberation Sans", sans-serif' font-weight="bold" font-size="42.5" fill="#000">B</text>
<!-- panel C -->
<g transform="translate(121.6,0) scale(1.08,1)">
<path d="M94.13 731.3V1249.3M188.26 731.3V1249.3M282.39 731.3V1249.3M376.52 731.3V1249.3M0 1145.7H470.65M0 1042.1H470.65M0 938.5H470.65M0 834.9H470.65" stroke="#d2d2d2" stroke-width="1.1" fill="none"/>
<rect x="0" y="731.3" width="470.65" height="518" fill="none" stroke="#1e1e1e" stroke-width="1.7"/>
<path d="M94.13 1249.3v-5.7M94.13 731.3v5.7M188.26 1249.3v-5.7M188.26 731.3v5.7M282.39 1249.3v-5.7M282.39 731.3v5.7M376.52 1249.3v-5.7M376.52 731.3v5.7M0 1145.7h5.7M470.65 1145.7h-5.7M0 1042.1h5.7M470.65 1042.1h-5.7M0 938.5h5.7M470.65 938.5h-5.7M0 834.9h5.7M470.65 834.9h-5.7" stroke="#1e1e1e" stroke-width="1.5" fill="none"/>
<clipPath id="clipC"><rect x="-2.04" y="729.3" width="474.72" height="522.2"/></clipPath>
<g clip-path="url(#clipC)" fill="none" stroke-width="5.08">
<path d="M0 731.3L1.18 735.45L2.35 739.76L3.53 744.22L4.71 748.81L5.88 753.51L7.06 758.3L8.24 763.19L9.41 768.14L10.59 773.16L11.77 778.23L12.94 783.34L14.12 788.48L15.3 793.65L16.47 798.84L17.65 804.04L18.83 809.24L20 814.43L21.18 819.62L22.36 824.8L23.53 829.96L24.71 835.11L25.89 840.22L27.06 845.31L28.24 850.37L29.42 855.39L30.59 860.37L31.77 865.32L32.95 870.22L34.12 875.09L35.3 879.9L36.48 884.68L37.65 889.4L38.83 894.08L40.01 898.7L41.18 903.28L42.36 907.8L43.53 912.27L44.71 916.69L45.89 921.06L47.06 925.38L48.24 929.64L49.42 933.85L50.59 938L51.77 942.1L52.95 946.15L54.12 950.14L55.3 954.08L56.48 957.97L57.65 961.8L58.83 965.59L60.01 969.31L61.18 972.99L62.36 976.62L63.54 980.19L64.71 983.72L65.89 987.19L67.07 990.62L68.24 993.99L69.42 997.32L70.6 1000.6L71.77 1003.83L72.95 1007.01L74.13 1010.15L75.3 1013.24L76.48 1016.28L77.66 1019.28L78.83 1022.24L80.01 1025.15L81.19 1028.02L82.36 1030.85L83.54 1033.63L84.72 1036.37L85.89 1039.07L87.07 1041.73L88.25 1044.35L89.42 1046.93L90.6 1049.48L91.78 1051.98L92.95 1054.45L94.13 1056.88L95.31 1059.27L96.48 1061.63L97.66 1063.95L98.84 1066.23L100.01 1068.49L101.19 1070.7L102.37 1072.89L103.54 1075.04L104.72 1077.16L105.9 1079.25L107.07 1081.31L108.25 1083.33L109.43 1085.33L110.6 1087.29L111.78 1089.23L112.96 1091.14L114.13 1093.02L115.31 1094.87L116.49 1096.69L117.66 1098.49L118.84 1100.25L120.02 1102L121.19 1103.72L122.37 1105.41L123.55 1107.07L124.72 1108.72L125.9 1110.33L127.08 1111.93L128.25 1113.5L129.43 1115.05L130.6 1116.57L131.78 1118.08L132.96 1119.56L134.13 1121.02L135.31 1122.46L136.49 1123.87L137.66 1125.27L138.84 1126.65L140.02 1128L141.19 1129.34L142.37 1130.66L143.55 1131.96L144.72 1133.24L145.9 1134.5L147.08 1135.75L148.25 1136.97L149.43 1138.18L150.61 1139.37L151.78 1140.55L152.96 1141.71L154.14 1142.85L155.31 1143.98L156.49 1145.09L157.67 1146.19L158.84 1147.27L160.02 1148.33L161.2 1149.38L162.37 1150.42L163.55 1151.44L164.73 1152.45L165.9 1153.45L167.08 1154.43L168.26 1155.39L169.43 1156.35L170.61 1157.29L171.79 1158.22L172.96 1159.14L174.14 1160.04L175.32 1160.93L176.49 1161.82L177.67 1162.69L178.85 1163.54L180.02 1164.39L181.2 1165.23L182.38 1166.05L183.55 1166.86L184.73 1167.67L185.91 1168.46L187.08 1169.24L188.26 1170.02L189.44 1170.78L190.61 1171.54L191.79 1172.28L192.97 1173.01L194.14 1173.74L195.32 1174.46L196.5 1175.17L197.67 1175.86L198.85 1176.56L200.03 1177.24L201.2 1177.91L202.38 1178.58L203.56 1179.24L204.73 1179.89L205.91 1180.53L207.09 1181.16L208.26 1181.79L209.44 1182.41L210.62 1183.02L211.79 1183.63L212.97 1184.23L214.14 1184.82L215.32 1185.4L216.5 1185.98L217.67 1186.55L218.85 1187.12L220.03 1187.68L221.2 1188.23L222.38 1188.78L223.56 1189.32L224.73 1189.85L225.91 1190.38L227.09 1190.9L228.26 1191.42L229.44 1191.93L230.62 1192.44L231.79 1192.94L232.97 1193.44L234.15 1193.93L235.32 1194.41L236.5 1194.89L237.68 1195.37L238.85 1195.84L240.03 1196.31L241.21 1196.77L242.38 1197.22L243.56 1197.68L244.74 1198.13L245.91 1198.57L247.09 1199.01L248.27 1199.44L249.44 1199.87L250.62 1200.3L251.8 1200.73L252.97 1201.14L254.15 1201.56L255.33 1201.97L256.5 1202.38L257.68 1202.78L258.86 1203.18L260.03 1203.58L261.21 1203.97L262.39 1204.36L263.56 1204.75L264.74 1205.13L265.92 1205.51L267.09 1205.89L268.27 1206.26L269.45 1206.63L270.62 1207L271.8 1207.37L272.98 1207.73L274.15 1208.09L275.33 1208.44L276.51 1208.79L277.68 1209.14L278.86 1209.49L280.04 1209.84L281.21 1210.18L282.39 1210.52L283.57 1210.86L284.74 1211.19L285.92 1211.52L287.1 1211.85L288.27 1212.18L289.45 1212.5L290.63 1212.83L291.8 1213.15L292.98 1213.47L294.16 1213.78L295.33 1214.1L296.51 1214.41L297.68 1214.72L298.86 1215.02L300.04 1215.33L301.21 1215.63L302.39 1215.94L303.57 1216.24L304.74 1216.53L305.92 1216.83L307.1 1217.13L308.27 1217.42L309.45 1217.71L310.63 1218L311.8 1218.29L312.98 1218.57L314.16 1218.86L315.33 1219.14L316.51 1219.42L317.69 1219.7L318.86 1219.98L320.04 1220.25L321.22 1220.53L322.39 1220.8L323.57 1221.08L324.75 1221.35L325.92 1221.62L327.1 1221.88L328.28 1222.15L329.45 1222.42L330.63 1222.68L331.81 1222.94L332.98 1223.21L334.16 1223.47L335.34 1223.73L336.51 1223.98L337.69 1224.24L338.87 1224.5L340.04 1224.75L341.22 1225.01L342.4 1225.26L343.57 1225.51L344.75 1225.76L345.93 1226.01L347.1 1226.26L348.28 1226.51L349.46 1226.75L350.63 1227L351.81 1227.24L352.99 1227.49L354.16 1227.73L355.34 1227.97L356.52 1228.21L357.69 1228.46L358.87 1228.69L360.05 1228.93L361.22 1229.17L362.4 1229.41L363.58 1229.65L364.75 1229.88L365.93 1230.12L367.11 1230.35L368.28 1230.58L369.46 1230.82L370.64 1231.05L371.81 1231.28L372.99 1231.51L374.17 1231.74L375.34 1231.97L376.52 1232.2L377.7 1232.43L378.87 1232.65L380.05 1232.88L381.22 1233.11L382.4 1233.33L383.58 1233.56L384.75 1233.78L385.93 1234.01L387.11 1234.23L388.28 1234.45L389.46 1234.68L390.64 1234.9L391.81 1235.12L392.99 1235.34L394.17 1235.56L395.34 1235.78L396.52 1236L397.7 1236.22L398.87 1236.44L400.05 1236.66L401.23 1236.88L402.4 1237.1L403.58 1237.31L404.76 1237.53L405.93 1237.75L407.11 1237.96L408.29 1238.18L409.46 1238.39L410.64 1238.61L411.82 1238.82L412.99 1239.04L414.17 1239.25L415.35 1239.47L416.52 1239.68L417.7 1239.89L418.88 1240.11L420.05 1240.32L421.23 1240.53L422.41 1240.74L423.58 1240.96L424.76 1241.17L425.94 1241.38L427.11 1241.59L428.29 1241.8L429.47 1242.01L430.64 1242.22L431.82 1242.43L433 1242.64L434.17 1242.85L435.35 1243.06L436.53 1243.27L437.7 1243.48L438.88 1243.69L440.06 1243.9L441.23 1244.11L442.41 1244.32L443.59 1244.53L444.76 1244.74L445.94 1244.94L447.12 1245.15L448.29 1245.36L449.47 1245.57L450.65 1245.78L451.82 1245.98L453 1246.19L454.18 1246.4L455.35 1246.61L456.53 1246.81L457.71 1247.02L458.88 1247.23L460.06 1247.44L461.24 1247.64L462.41 1247.85L463.59 1248.06L464.77 1248.26L465.94 1248.47L467.12 1248.68L468.29 1248.89L469.47 1249.09L470.65 1249.3" stroke="#00ffff"/>
<path d="M0 731.3L1.18 735.42L2.35 739.81L3.53 744.41L4.71 749.21L5.88 754.19L7.06 759.3L8.24 764.55L9.41 769.89L10.59 775.33L11.77 780.83L12.94 786.39L14.12 792L15.3 797.63L16.47 803.29L17.65 808.96L18.83 814.62L20 820.28L21.18 825.93L22.36 831.56L23.53 837.16L24.71 842.74L25.89 848.27L27.06 853.77L28.24 859.22L29.42 864.63L30.59 869.99L31.77 875.3L32.95 880.55L34.12 885.75L35.3 890.89L36.48 895.98L37.65 901L38.83 905.97L40.01 910.87L41.18 915.71L42.36 920.49L43.53 925.21L44.71 929.86L45.89 934.45L47.06 938.98L48.24 943.45L49.42 947.85L50.59 952.19L51.77 956.47L52.95 960.69L54.12 964.84L55.3 968.94L56.48 972.97L57.65 976.95L58.83 980.86L60.01 984.72L61.18 988.52L62.36 992.26L63.54 995.95L64.71 999.58L65.89 1003.15L67.07 1006.67L68.24 1010.14L69.42 1013.55L70.6 1016.91L71.77 1020.22L72.95 1023.48L74.13 1026.68L75.3 1029.84L76.48 1032.95L77.66 1036.01L78.83 1039.02L80.01 1041.99L81.19 1044.9L82.36 1047.78L83.54 1050.61L84.72 1053.39L85.89 1056.13L87.07 1058.83L88.25 1061.48L89.42 1064.1L90.6 1066.67L91.78 1069.21L92.95 1071.7L94.13 1074.15L95.31 1076.57L96.48 1078.95L97.66 1081.29L98.84 1083.59L100.01 1085.86L101.19 1088.1L102.37 1090.3L103.54 1092.46L104.72 1094.59L105.9 1096.69L107.07 1098.75L108.25 1100.79L109.43 1102.79L110.6 1104.76L111.78 1106.7L112.96 1108.61L114.13 1110.49L115.31 1112.34L116.49 1114.16L117.66 1115.95L118.84 1117.72L120.02 1119.46L121.19 1121.17L122.37 1122.85L123.55 1124.51L124.72 1126.15L125.9 1127.76L127.08 1129.34L128.25 1130.9L129.43 1132.44L130.6 1133.95L131.78 1135.44L132.96 1136.91L134.13 1138.35L135.31 1139.77L136.49 1141.18L137.66 1142.56L138.84 1143.91L140.02 1145.25L141.19 1146.57L142.37 1147.87L143.55 1149.15L144.72 1150.41L145.9 1151.65L147.08 1152.87L148.25 1154.07L149.43 1155.26L150.61 1156.42L151.78 1157.58L152.96 1158.71L154.14 1159.82L155.31 1160.92L156.49 1162.01L157.67 1163.07L158.84 1164.13L160.02 1165.16L161.2 1166.18L162.37 1167.19L163.55 1168.18L164.73 1169.16L165.9 1170.12L167.08 1171.07L168.26 1172L169.43 1172.92L170.61 1173.83L171.79 1174.72L172.96 1175.6L174.14 1176.47L175.32 1177.33L176.49 1178.17L177.67 1179L178.85 1179.82L180.02 1180.63L181.2 1181.43L182.38 1182.21L183.55 1182.99L184.73 1183.75L185.91 1184.5L187.08 1185.24L188.26 1185.98L189.44 1186.7L190.61 1187.41L191.79 1188.11L192.97 1188.8L194.14 1189.48L195.32 1190.16L196.5 1190.82L197.67 1191.47L198.85 1192.12L200.03 1192.75L201.2 1193.38L202.38 1194L203.56 1194.61L204.73 1195.21L205.91 1195.81L207.09 1196.39L208.26 1196.97L209.44 1197.54L210.62 1198.11L211.79 1198.66L212.97 1199.21L214.14 1199.75L215.32 1200.29L216.5 1200.81L217.67 1201.33L218.85 1201.85L220.03 1202.35L221.2 1202.85L222.38 1203.35L223.56 1203.83L224.73 1204.32L225.91 1204.79L227.09 1205.26L228.26 1205.72L229.44 1206.18L230.62 1206.63L231.79 1207.08L232.97 1207.52L234.15 1207.95L235.32 1208.38L236.5 1208.81L237.68 1209.23L238.85 1209.64L240.03 1210.05L241.21 1210.45L242.38 1210.85L243.56 1211.25L244.74 1211.64L245.91 1212.02L247.09 1212.4L248.27 1212.78L249.44 1213.15L250.62 1213.52L251.8 1213.88L252.97 1214.24L254.15 1214.6L255.33 1214.95L256.5 1215.3L257.68 1215.64L258.86 1215.98L260.03 1216.31L261.21 1216.65L262.39 1216.97L263.56 1217.3L264.74 1217.62L265.92 1217.94L267.09 1218.25L268.27 1218.56L269.45 1218.87L270.62 1219.17L271.8 1219.48L272.98 1219.77L274.15 1220.07L275.33 1220.36L276.51 1220.65L277.68 1220.94L278.86 1221.22L280.04 1221.5L281.21 1221.78L282.39 1222.05L283.57 1222.32L284.74 1222.59L285.92 1222.86L287.1 1223.12L288.27 1223.38L289.45 1223.64L290.63 1223.9L291.8 1224.16L292.98 1224.41L294.16 1224.66L295.33 1224.9L296.51 1225.15L297.68 1225.39L298.86 1225.63L300.04 1225.87L301.21 1226.11L302.39 1226.34L303.57 1226.57L304.74 1226.81L305.92 1227.03L307.1 1227.26L308.27 1227.48L309.45 1227.71L310.63 1227.93L311.8 1228.15L312.98 1228.37L314.16 1228.58L315.33 1228.79L316.51 1229.01L317.69 1229.22L318.86 1229.43L320.04 1229.63L321.22 1229.84L322.39 1230.04L323.57 1230.25L324.75 1230.45L325.92 1230.65L327.1 1230.85L328.28 1231.04L329.45 1231.24L330.63 1231.43L331.81 1231.62L332.98 1231.82L334.16 1232.01L335.34 1232.2L336.51 1232.38L337.69 1232.57L338.87 1232.75L340.04 1232.94L341.22 1233.12L342.4 1233.3L343.57 1233.48L344.75 1233.66L345.93 1233.84L347.1 1234.02L348.28 1234.19L349.46 1234.37L350.63 1234.54L351.81 1234.72L352.99 1234.89L354.16 1235.06L355.34 1235.23L356.52 1235.4L357.69 1235.57L358.87 1235.74L360.05 1235.9L361.22 1236.07L362.4 1236.23L363.58 1236.4L364.75 1236.56L365.93 1236.72L367.11 1236.88L368.28 1237.04L369.46 1237.2L370.64 1237.36L371.81 1237.52L372.99 1237.68L374.17 1237.84L375.34 1237.99L376.52 1238.15L377.7 1238.3L378.87 1238.46L380.05 1238.61L381.22 1238.77L382.4 1238.92L383.58 1239.07L384.75 1239.22L385.93 1239.37L387.11 1239.52L388.28 1239.67L389.46 1239.82L390.64 1239.97L391.81 1240.12L392.99 1240.27L394.17 1240.41L395.34 1240.56L396.52 1240.7L397.7 1240.85L398.87 1241L400.05 1241.14L401.23 1241.28L402.4 1241.43L403.58 1241.57L404.76 1241.71L405.93 1241.86L407.11 1242L408.29 1242.14L409.46 1242.28L410.64 1242.42L411.82 1242.56L412.99 1242.7L414.17 1242.84L415.35 1242.98L416.52 1243.12L417.7 1243.26L418.88 1243.4L420.05 1243.54L421.23 1243.68L422.41 1243.81L423.58 1243.95L424.76 1244.09L425.94 1244.22L427.11 1244.36L428.29 1244.5L429.47 1244.63L430.64 1244.77L431.82 1244.91L433 1245.04L434.17 1245.18L435.35 1245.31L436.53 1245.45L437.7 1245.58L438.88 1245.71L440.06 1245.85L441.23 1245.98L442.41 1246.12L443.59 1246.25L444.76 1246.38L445.94 1246.52L447.12 1246.65L448.29 1246.78L449.47 1246.92L450.65 1247.05L451.82 1247.18L453 1247.32L454.18 1247.45L455.35 1247.58L456.53 1247.71L457.71 1247.85L458.88 1247.98L460.06 1248.11L461.24 1248.24L462.41 1248.38L463.59 1248.51L464.77 1248.64L465.94 1248.77L467.12 1248.9L468.29 1249.04L469.47 1249.17L470.65 1249.3" stroke="#0000ff" stroke-dasharray="13.6 3.4 6.8 3.4"/>
<path d="M0 731.3L1.18 736.72L2.35 742.2L3.53 747.75L4.71 753.35L5.88 759L7.06 764.69L8.24 770.41L9.41 776.16L10.59 781.93L11.77 787.72L12.94 793.52L14.12 799.32L15.3 805.12L16.47 810.93L17.65 816.72L18.83 822.5L20 828.27L21.18 834.02L22.36 839.74L23.53 845.44L24.71 851.12L25.89 856.76L27.06 862.37L28.24 867.94L29.42 873.47L30.59 878.96L31.77 884.42L32.95 889.82L34.12 895.18L35.3 900.5L36.48 905.76L37.65 910.98L38.83 916.14L40.01 921.26L41.18 926.32L42.36 931.32L43.53 936.27L44.71 941.17L45.89 946.01L47.06 950.79L48.24 955.51L49.42 960.18L50.59 964.79L51.77 969.34L52.95 973.83L54.12 978.27L55.3 982.64L56.48 986.96L57.65 991.22L58.83 995.42L60.01 999.56L61.18 1003.64L62.36 1007.67L63.54 1011.63L64.71 1015.54L65.89 1019.39L67.07 1023.18L68.24 1026.92L69.42 1030.6L70.6 1034.22L71.77 1037.79L72.95 1041.3L74.13 1044.76L75.3 1048.16L76.48 1051.51L77.66 1054.8L78.83 1058.04L80.01 1061.23L81.19 1064.37L82.36 1067.45L83.54 1070.49L84.72 1073.47L85.89 1076.41L87.07 1079.29L88.25 1082.13L89.42 1084.92L90.6 1087.66L91.78 1090.35L92.95 1093L94.13 1095.6L95.31 1098.16L96.48 1100.67L97.66 1103.14L98.84 1105.56L100.01 1107.95L101.19 1110.29L102.37 1112.58L103.54 1114.84L104.72 1117.06L105.9 1119.24L107.07 1121.38L108.25 1123.48L109.43 1125.54L110.6 1127.57L111.78 1129.56L112.96 1131.51L114.13 1133.43L115.31 1135.31L116.49 1137.15L117.66 1138.97L118.84 1140.75L120.02 1142.5L121.19 1144.21L122.37 1145.9L123.55 1147.55L124.72 1149.17L125.9 1150.76L127.08 1152.33L128.25 1153.86L129.43 1155.37L130.6 1156.84L131.78 1158.29L132.96 1159.72L134.13 1161.11L135.31 1162.48L136.49 1163.83L137.66 1165.15L138.84 1166.44L140.02 1167.71L141.19 1168.96L142.37 1170.18L143.55 1171.38L144.72 1172.56L145.9 1173.71L147.08 1174.85L148.25 1175.96L149.43 1177.05L150.61 1178.12L151.78 1179.17L152.96 1180.21L154.14 1181.22L155.31 1182.21L156.49 1183.19L157.67 1184.14L158.84 1185.08L160.02 1186L161.2 1186.91L162.37 1187.8L163.55 1188.67L164.73 1189.52L165.9 1190.36L167.08 1191.18L168.26 1191.99L169.43 1192.78L170.61 1193.56L171.79 1194.33L172.96 1195.08L174.14 1195.81L175.32 1196.54L176.49 1197.25L177.67 1197.94L178.85 1198.63L180.02 1199.3L181.2 1199.96L182.38 1200.6L183.55 1201.24L184.73 1201.86L185.91 1202.48L187.08 1203.08L188.26 1203.67L189.44 1204.25L190.61 1204.82L191.79 1205.38L192.97 1205.93L194.14 1206.47L195.32 1207L196.5 1207.53L197.67 1208.04L198.85 1208.54L200.03 1209.04L201.2 1209.52L202.38 1210L203.56 1210.47L204.73 1210.94L205.91 1211.39L207.09 1211.84L208.26 1212.27L209.44 1212.71L210.62 1213.13L211.79 1213.55L212.97 1213.96L214.14 1214.36L215.32 1214.76L216.5 1215.15L217.67 1215.53L218.85 1215.91L220.03 1216.28L221.2 1216.65L222.38 1217.01L223.56 1217.37L224.73 1217.71L225.91 1218.06L227.09 1218.4L228.26 1218.73L229.44 1219.06L230.62 1219.38L231.79 1219.7L232.97 1220.01L234.15 1220.32L235.32 1220.62L236.5 1220.92L237.68 1221.22L238.85 1221.51L240.03 1221.8L241.21 1222.08L242.38 1222.36L243.56 1222.63L244.74 1222.9L245.91 1223.17L247.09 1223.43L248.27 1223.69L249.44 1223.95L250.62 1224.2L251.8 1224.45L252.97 1224.7L254.15 1224.94L255.33 1225.18L256.5 1225.42L257.68 1225.65L258.86 1225.88L260.03 1226.11L261.21 1226.33L262.39 1226.56L263.56 1226.78L264.74 1226.99L265.92 1227.21L267.09 1227.42L268.27 1227.63L269.45 1227.83L270.62 1228.04L271.8 1228.24L272.98 1228.44L274.15 1228.64L275.33 1228.83L276.51 1229.03L277.68 1229.22L278.86 1229.41L280.04 1229.59L281.21 1229.78L282.39 1229.96L283.57 1230.14L284.74 1230.32L285.92 1230.5L287.1 1230.68L288.27 1230.85L289.45 1231.02L290.63 1231.2L291.8 1231.36L292.98 1231.53L294.16 1231.7L295.33 1231.86L296.51 1232.03L297.68 1232.19L298.86 1232.35L300.04 1232.51L301.21 1232.67L302.39 1232.82L303.57 1232.98L304.74 1233.13L305.92 1233.29L307.1 1233.44L308.27 1233.59L309.45 1233.74L310.63 1233.88L311.8 1234.03L312.98 1234.18L314.16 1234.32L315.33 1234.47L316.51 1234.61L317.69 1234.75L318.86 1234.89L320.04 1235.03L321.22 1235.17L322.39 1235.31L323.57 1235.45L324.75 1235.58L325.92 1235.72L327.1 1235.85L328.28 1235.99L329.45 1236.12L330.63 1236.25L331.81 1236.38L332.98 1236.51L334.16 1236.64L335.34 1236.77L336.51 1236.9L337.69 1237.03L338.87 1237.16L340.04 1237.28L341.22 1237.41L342.4 1237.53L343.57 1237.66L344.75 1237.78L345.93 1237.91L347.1 1238.03L348.28 1238.15L349.46 1238.27L350.63 1238.4L351.81 1238.52L352.99 1238.64L354.16 1238.76L355.34 1238.88L356.52 1238.99L357.69 1239.11L358.87 1239.23L360.05 1239.35L361.22 1239.46L362.4 1239.58L363.58 1239.7L364.75 1239.81L365.93 1239.93L367.11 1240.04L368.28 1240.16L369.46 1240.27L370.64 1240.39L371.81 1240.5L372.99 1240.61L374.17 1240.72L375.34 1240.84L376.52 1240.95L377.7 1241.06L378.87 1241.17L380.05 1241.28L381.22 1241.39L382.4 1241.5L383.58 1241.61L384.75 1241.72L385.93 1241.83L387.11 1241.94L388.28 1242.05L389.46 1242.16L390.64 1242.27L391.81 1242.38L392.99 1242.49L394.17 1242.59L395.34 1242.7L396.52 1242.81L397.7 1242.92L398.87 1243.02L400.05 1243.13L401.23 1243.24L402.4 1243.34L403.58 1243.45L404.76 1243.55L405.93 1243.66L407.11 1243.77L408.29 1243.87L409.46 1243.98L410.64 1244.08L411.82 1244.19L412.99 1244.29L414.17 1244.4L415.35 1244.5L416.52 1244.6L417.7 1244.71L418.88 1244.81L420.05 1244.92L421.23 1245.02L422.41 1245.12L423.58 1245.23L424.76 1245.33L425.94 1245.43L427.11 1245.54L428.29 1245.64L429.47 1245.74L430.64 1245.84L431.82 1245.95L433 1246.05L434.17 1246.15L435.35 1246.25L436.53 1246.36L437.7 1246.46L438.88 1246.56L440.06 1246.66L441.23 1246.77L442.41 1246.87L443.59 1246.97L444.76 1247.07L445.94 1247.17L447.12 1247.27L448.29 1247.38L449.47 1247.48L450.65 1247.58L451.82 1247.68L453 1247.78L454.18 1247.88L455.35 1247.98L456.53 1248.09L457.71 1248.19L458.88 1248.29L460.06 1248.39L461.24 1248.49L462.41 1248.59L463.59 1248.69L464.77 1248.79L465.94 1248.9L467.12 1249L468.29 1249.1L469.47 1249.2L470.65 1249.3" stroke="#00ff00" stroke-dasharray="13.6 13.6"/>
<path d="M0 731.3L1.18 737.25L2.35 743.27L3.53 749.34L4.71 755.46L5.88 761.63L7.06 767.82L8.24 774.04L9.41 780.28L10.59 786.52L11.77 792.78L12.94 799.03L14.12 805.28L15.3 811.52L16.47 817.74L17.65 823.94L18.83 830.12L20 836.27L21.18 842.39L22.36 848.47L23.53 854.52L24.71 860.52L25.89 866.48L27.06 872.4L28.24 878.26L29.42 884.08L30.59 889.84L31.77 895.55L32.95 901.2L34.12 906.79L35.3 912.33L36.48 917.8L37.65 923.21L38.83 928.56L40.01 933.85L41.18 939.07L42.36 944.23L43.53 949.32L44.71 954.34L45.89 959.3L47.06 964.19L48.24 969.02L49.42 973.78L50.59 978.47L51.77 983.09L52.95 987.65L54.12 992.14L55.3 996.56L56.48 1000.92L57.65 1005.21L58.83 1009.43L60.01 1013.59L61.18 1017.68L62.36 1021.71L63.54 1025.68L64.71 1029.57L65.89 1033.41L67.07 1037.18L68.24 1040.89L69.42 1044.54L70.6 1048.13L71.77 1051.65L72.95 1055.12L74.13 1058.52L75.3 1061.87L76.48 1065.16L77.66 1068.39L78.83 1071.57L80.01 1074.69L81.19 1077.75L82.36 1080.76L83.54 1083.72L84.72 1086.62L85.89 1089.47L87.07 1092.27L88.25 1095.01L89.42 1097.71L90.6 1100.36L91.78 1102.96L92.95 1105.51L94.13 1108.01L95.31 1110.47L96.48 1112.88L97.66 1115.24L98.84 1117.56L100.01 1119.84L101.19 1122.08L102.37 1124.27L103.54 1126.42L104.72 1128.53L105.9 1130.6L107.07 1132.63L108.25 1134.62L109.43 1136.58L110.6 1138.5L111.78 1140.37L112.96 1142.22L114.13 1144.03L115.31 1145.8L116.49 1147.54L117.66 1149.25L118.84 1150.92L120.02 1152.56L121.19 1154.17L122.37 1155.74L123.55 1157.29L124.72 1158.81L125.9 1160.3L127.08 1161.76L128.25 1163.19L129.43 1164.59L130.6 1165.96L131.78 1167.31L132.96 1168.64L134.13 1169.93L135.31 1171.21L136.49 1172.45L137.66 1173.68L138.84 1174.88L140.02 1176.05L141.19 1177.21L142.37 1178.34L143.55 1179.45L144.72 1180.53L145.9 1181.6L147.08 1182.65L148.25 1183.67L149.43 1184.68L150.61 1185.67L151.78 1186.64L152.96 1187.59L154.14 1188.52L155.31 1189.43L156.49 1190.33L157.67 1191.21L158.84 1192.07L160.02 1192.91L161.2 1193.75L162.37 1194.56L163.55 1195.36L164.73 1196.14L165.9 1196.91L167.08 1197.67L168.26 1198.41L169.43 1199.13L170.61 1199.85L171.79 1200.55L172.96 1201.24L174.14 1201.91L175.32 1202.57L176.49 1203.22L177.67 1203.86L178.85 1204.49L180.02 1205.1L181.2 1205.71L182.38 1206.3L183.55 1206.88L184.73 1207.45L185.91 1208.01L187.08 1208.56L188.26 1209.11L189.44 1209.64L190.61 1210.16L191.79 1210.67L192.97 1211.18L194.14 1211.67L195.32 1212.16L196.5 1212.64L197.67 1213.11L198.85 1213.57L200.03 1214.03L201.2 1214.47L202.38 1214.91L203.56 1215.34L204.73 1215.77L205.91 1216.18L207.09 1216.59L208.26 1217L209.44 1217.39L210.62 1217.78L211.79 1218.17L212.97 1218.54L214.14 1218.92L215.32 1219.28L216.5 1219.64L217.67 1219.99L218.85 1220.34L220.03 1220.68L221.2 1221.02L222.38 1221.35L223.56 1221.68L224.73 1222L225.91 1222.32L227.09 1222.63L228.26 1222.94L229.44 1223.24L230.62 1223.54L231.79 1223.83L232.97 1224.12L234.15 1224.41L235.32 1224.69L236.5 1224.96L237.68 1225.24L238.85 1225.5L240.03 1225.77L241.21 1226.03L242.38 1226.29L243.56 1226.54L244.74 1226.79L245.91 1227.04L247.09 1227.28L248.27 1227.52L249.44 1227.76L250.62 1227.99L251.8 1228.22L252.97 1228.45L254.15 1228.67L255.33 1228.9L256.5 1229.11L257.68 1229.33L258.86 1229.54L260.03 1229.75L261.21 1229.96L262.39 1230.17L263.56 1230.37L264.74 1230.57L265.92 1230.77L267.09 1230.96L268.27 1231.15L269.45 1231.35L270.62 1231.53L271.8 1231.72L272.98 1231.9L274.15 1232.09L275.33 1232.26L276.51 1232.44L277.68 1232.62L278.86 1232.79L280.04 1232.96L281.21 1233.13L282.39 1233.3L283.57 1233.47L284.74 1233.63L285.92 1233.79L287.1 1233.95L288.27 1234.11L289.45 1234.27L290.63 1234.43L291.8 1234.58L292.98 1234.73L294.16 1234.89L295.33 1235.04L296.51 1235.18L297.68 1235.33L298.86 1235.48L300.04 1235.62L301.21 1235.76L302.39 1235.9L303.57 1236.04L304.74 1236.18L305.92 1236.32L307.1 1236.46L308.27 1236.59L309.45 1236.72L310.63 1236.86L311.8 1236.99L312.98 1237.12L314.16 1237.25L315.33 1237.38L316.51 1237.5L317.69 1237.63L318.86 1237.75L320.04 1237.88L321.22 1238L322.39 1238.12L323.57 1238.24L324.75 1238.36L325.92 1238.48L327.1 1238.6L328.28 1238.72L329.45 1238.83L330.63 1238.95L331.81 1239.06L332.98 1239.18L334.16 1239.29L335.34 1239.4L336.51 1239.51L337.69 1239.62L338.87 1239.73L340.04 1239.84L341.22 1239.95L342.4 1240.06L343.57 1240.16L344.75 1240.27L345.93 1240.37L347.1 1240.48L348.28 1240.58L349.46 1240.68L350.63 1240.79L351.81 1240.89L352.99 1240.99L354.16 1241.09L355.34 1241.19L356.52 1241.29L357.69 1241.39L358.87 1241.49L360.05 1241.59L361.22 1241.68L362.4 1241.78L363.58 1241.88L364.75 1241.97L365.93 1242.07L367.11 1242.16L368.28 1242.26L369.46 1242.35L370.64 1242.44L371.81 1242.53L372.99 1242.63L374.17 1242.72L375.34 1242.81L376.52 1242.9L377.7 1242.99L378.87 1243.08L380.05 1243.17L381.22 1243.26L382.4 1243.35L383.58 1243.44L384.75 1243.52L385.93 1243.61L387.11 1243.7L388.28 1243.79L389.46 1243.87L390.64 1243.96L391.81 1244.04L392.99 1244.13L394.17 1244.22L395.34 1244.3L396.52 1244.38L397.7 1244.47L398.87 1244.55L400.05 1244.64L401.23 1244.72L402.4 1244.8L403.58 1244.88L404.76 1244.97L405.93 1245.05L407.11 1245.13L408.29 1245.21L409.46 1245.29L410.64 1245.38L411.82 1245.46L412.99 1245.54L414.17 1245.62L415.35 1245.7L416.52 1245.78L417.7 1245.86L418.88 1245.94L420.05 1246.02L421.23 1246.09L422.41 1246.17L423.58 1246.25L424.76 1246.33L425.94 1246.41L427.11 1246.49L428.29 1246.57L429.47 1246.64L430.64 1246.72L431.82 1246.8L433 1246.88L434.17 1246.95L435.35 1247.03L436.53 1247.11L437.7 1247.18L438.88 1247.26L440.06 1247.34L441.23 1247.41L442.41 1247.49L443.59 1247.57L444.76 1247.64L445.94 1247.72L447.12 1247.79L448.29 1247.87L449.47 1247.95L450.65 1248.02L451.82 1248.1L453 1248.17L454.18 1248.25L455.35 1248.32L456.53 1248.4L457.71 1248.47L458.88 1248.55L460.06 1248.62L461.24 1248.7L462.41 1248.77L463.59 1248.85L464.77 1248.92L465.94 1249L467.12 1249.07L468.29 1249.15L469.47 1249.22L470.65 1249.3" stroke="#ff0000" stroke-dasharray="3.4 3.4" stroke-width="4.42"/>
</g>
<g font-family='"Liberation Serif", serif' font-weight="bold" font-style="italic" fill="#222222" font-size="35.3">
<text x="-12.69" y="1262.93" text-anchor="end">0</text>
<text x="-13.52" y="1158.43" text-anchor="end">0.2</text>
<text x="-13.52" y="1054.83" text-anchor="end">0.4</text>
<text x="-13.52" y="951.23" text-anchor="end">0.6</text>
<text x="-13.52" y="847.63" text-anchor="end">0.8</text>
<text x="-11.11" y="744.03" text-anchor="end">1</text>
<text x="0" y="1295.43" text-anchor="middle">0</text>
<text x="94.13" y="1295.43" text-anchor="middle">1</text>
<text x="188.26" y="1295.43" text-anchor="middle">2</text>
<text x="282.39" y="1295.43" text-anchor="middle">3</text>
<text x="376.52" y="1295.43" text-anchor="middle">4</text>
<text x="470.65" y="1295.43" text-anchor="middle">5</text>
<text x="244.35" y="1338" text-anchor="middle" font-size="34.5">η</text>
</g>
<text transform="translate(-80.65,987.8) rotate(-90)" text-anchor="middle" font-family='"Liberation Serif", serif' font-style="italic" font-weight="bold" font-size="35.3" fill="#222222" y="8.47">ϕ(η)</text>
<rect x="262.59" y="753" width="186.57" height="157.5" fill="#fff" stroke="#1e1e1e" stroke-width="1.5"/>
<path d="M276.2 775.6H345.19" stroke="#00ffff" stroke-width="4.7" fill="none"/>
<text x="349.81" y="788" font-family='"Liberation Serif", serif' font-weight="bold" font-style="italic" font-size="31.8" fill="#000" xml:space="preserve" textLength="93.04" lengthAdjust="spacingAndGlyphs">n = 0.1</text>
<path d="M276.2 813H345.19" stroke="#0000ff" stroke-width="4.7" fill="none" stroke-dasharray="13.6 3.4 6.8 3.4"/>
<text x="349.81" y="825.4" font-family='"Liberation Serif", serif' font-weight="bold" font-style="italic" font-size="31.8" fill="#000" xml:space="preserve" textLength="93.04" lengthAdjust="spacingAndGlyphs">n = 0.2</text>
<path d="M276.2 850.5H345.19" stroke="#00ff00" stroke-width="4.7" fill="none" stroke-dasharray="13.6 13.6"/>
<text x="349.81" y="862.9" font-family='"Liberation Serif", serif' font-weight="bold" font-style="italic" font-size="31.8" fill="#000" xml:space="preserve" textLength="93.04" lengthAdjust="spacingAndGlyphs">n = 0.3</text>
<path d="M276.2 888.1H340.8" stroke="#ff0000" stroke-width="4.23" fill="none" stroke-dasharray="3.4 3.4"/>
<text x="349.81" y="900.5" font-family='"Liberation Serif", serif' font-weight="bold" font-style="italic" font-size="31.8" fill="#000" xml:space="preserve" textLength="93.04" lengthAdjust="spacingAndGlyphs">n = 0.4</text>
</g>
<line x1="284.2" y1="1189.9" x2="317.25" y2="1148.71" stroke="#000" stroke-width="2.3"/><polygon points="330.5,1132.2 320.54,1161.39 317.25,1148.71 304.16,1148.25" fill="#000"/>
<text x="-1" y="695.7" font-family='"Liberation Sans", sans-serif' font-weight="bold" font-size="42.5" fill="#000">C</text>
<!-- panel D -->
<g transform="translate(779.9,0) scale(1.38,1)">
<path d="M74.32 766.7V1266M148.64 766.7V1266M222.96 766.7V1266M297.28 766.7V1266M0 1166.14H371.59M0 1066.28H371.59M0 966.42H371.59M0 866.56H371.59" stroke="#d2d2d2" stroke-width="1.1" fill="none"/>
<rect x="0" y="766.7" width="371.59" height="499.3" fill="none" stroke="#1e1e1e" stroke-width="1.75"/>
<path d="M74.32 1266v-5.7M74.32 766.7v5.7M148.64 1266v-5.7M148.64 766.7v5.7M222.96 1266v-5.7M222.96 766.7v5.7M297.28 1266v-5.7M297.28 766.7v5.7M0 1166.14h5.7M371.59 1166.14h-5.7M0 1066.28h5.7M371.59 1066.28h-5.7M0 966.42h5.7M371.59 966.42h-5.7M0 866.56h5.7M371.59 866.56h-5.7" stroke="#1e1e1e" stroke-width="1.5" fill="none"/>
<clipPath id="clipD"><rect x="-1.59" y="764.7" width="374.78" height="503.5"/></clipPath>
<g clip-path="url(#clipD)" fill="none" stroke-width="4.3">
<path d="M0 766.7L0.93 776.53L1.86 786.24L2.79 795.85L3.72 805.35L4.64 814.74L5.57 824.03L6.5 833.21L7.43 842.28L8.36 851.25L9.29 860.12L10.22 868.88L11.15 877.53L12.08 886.08L13.01 894.53L13.93 902.87L14.86 911.1L15.79 919.23L16.72 927.25L17.65 935.17L18.58 942.97L19.51 950.67L20.44 958.26L21.37 965.74L22.3 973.11L23.22 980.37L24.15 987.52L25.08 994.56L26.01 1001.49L26.94 1008.3L27.87 1015.01L28.8 1021.59L29.73 1028.07L30.66 1034.43L31.59 1040.68L32.51 1046.82L33.44 1052.84L34.37 1058.75L35.3 1064.54L36.23 1070.22L37.16 1075.79L38.09 1081.24L39.02 1086.59L39.95 1091.82L40.88 1096.93L41.8 1101.94L42.73 1106.83L43.66 1111.62L44.59 1116.3L45.52 1120.87L46.45 1125.33L47.38 1129.68L48.31 1133.93L49.24 1138.08L50.17 1142.12L51.09 1146.06L52.02 1149.9L52.95 1153.64L53.88 1157.28L54.81 1160.82L55.74 1164.27L56.67 1167.63L57.6 1170.89L58.53 1174.07L59.46 1177.15L60.38 1180.15L61.31 1183.06L62.24 1185.88L63.17 1188.63L64.1 1191.29L65.03 1193.87L65.96 1196.38L66.89 1198.8L67.82 1201.16L68.74 1203.44L69.67 1205.65L70.6 1207.79L71.53 1209.86L72.46 1211.87L73.39 1213.81L74.32 1215.69L75.25 1217.51L76.18 1219.27L77.11 1220.97L78.03 1222.61L78.96 1224.2L79.89 1225.74L80.82 1227.22L81.75 1228.65L82.68 1230.03L83.61 1231.37L84.54 1232.66L85.47 1233.9L86.4 1235.11L87.32 1236.26L88.25 1237.38L89.18 1238.46L90.11 1239.5L91.04 1240.5L91.97 1241.47L92.9 1242.4L93.83 1243.3L94.76 1244.16L95.69 1245L96.61 1245.8L97.54 1246.58L98.47 1247.32L99.4 1248.04L100.33 1248.73L101.26 1249.39L102.19 1250.04L103.12 1250.65L104.05 1251.25L104.98 1251.82L105.9 1252.37L106.83 1252.9L107.76 1253.4L108.69 1253.89L109.62 1254.37L110.55 1254.82L111.48 1255.25L112.41 1255.67L113.34 1256.08L114.27 1256.46L115.19 1256.84L116.12 1257.19L117.05 1257.54L117.98 1257.87L118.91 1258.19L119.84 1258.49L120.77 1258.79L121.7 1259.07L122.63 1259.34L123.56 1259.6L124.48 1259.86L125.41 1260.1L126.34 1260.33L127.27 1260.55L128.2 1260.77L129.13 1260.97L130.06 1261.17L130.99 1261.36L131.92 1261.54L132.84 1261.72L133.77 1261.88L134.7 1262.05L135.63 1262.2L136.56 1262.35L137.49 1262.49L138.42 1262.63L139.35 1262.76L140.28 1262.89L141.21 1263.01L142.13 1263.13L143.06 1263.24L143.99 1263.35L144.92 1263.46L145.85 1263.56L146.78 1263.65L147.71 1263.74L148.64 1263.83L149.57 1263.92L150.5 1264L151.42 1264.08L152.35 1264.15L153.28 1264.22L154.21 1264.29L155.14 1264.36L156.07 1264.42L157 1264.49L157.93 1264.55L158.86 1264.6L159.79 1264.66L160.71 1264.71L161.64 1264.76L162.57 1264.81L163.5 1264.85L164.43 1264.9L165.36 1264.94L166.29 1264.98L167.22 1265.02L168.15 1265.06L169.08 1265.1L170 1265.13L170.93 1265.17L171.86 1265.2L172.79 1265.23L173.72 1265.26L174.65 1265.29L175.58 1265.32L176.51 1265.34L177.44 1265.37L178.37 1265.39L179.29 1265.42L180.22 1265.44L181.15 1265.46L182.08 1265.48L183.01 1265.5L183.94 1265.52L184.87 1265.54L185.8 1265.56L186.73 1265.57L187.66 1265.59L188.58 1265.61L189.51 1265.62L190.44 1265.64L191.37 1265.65L192.3 1265.66L193.23 1265.68L194.16 1265.69L195.09 1265.7L196.02 1265.71L196.94 1265.72L197.87 1265.73L198.8 1265.74L199.73 1265.75L200.66 1265.76L201.59 1265.77L202.52 1265.78L203.45 1265.79L204.38 1265.8L205.31 1265.8L206.23 1265.81L207.16 1265.82L208.09 1265.83L209.02 1265.83L209.95 1265.84L210.88 1265.85L211.81 1265.85L212.74 1265.86L213.67 1265.86L214.6 1265.87L215.52 1265.87L216.45 1265.88L217.38 1265.88L218.31 1265.89L219.24 1265.89L220.17 1265.89L221.1 1265.9L222.03 1265.9L222.96 1265.91L223.89 1265.91L224.81 1265.91L225.74 1265.92L226.67 1265.92L227.6 1265.92L228.53 1265.93L229.46 1265.93L230.39 1265.93L231.32 1265.93L232.25 1265.94L233.18 1265.94L234.1 1265.94L235.03 1265.94L235.96 1265.95L236.89 1265.95L237.82 1265.95L238.75 1265.95L239.68 1265.95L240.61 1265.95L241.54 1265.96L242.47 1265.96L243.39 1265.96L244.32 1265.96L245.25 1265.96L246.18 1265.96L247.11 1265.97L248.04 1265.97L248.97 1265.97L249.9 1265.97L250.83 1265.97L251.76 1265.97L252.68 1265.97L253.61 1265.97L254.54 1265.97L255.47 1265.98L256.4 1265.98L257.33 1265.98L258.26 1265.98L259.19 1265.98L260.12 1265.98L261.04 1265.98L261.97 1265.98L262.9 1265.98L263.83 1265.98L264.76 1265.98L265.69 1265.98L266.62 1265.98L267.55 1265.98L268.48 1265.99L269.41 1265.99L270.33 1265.99L271.26 1265.99L272.19 1265.99L273.12 1265.99L274.05 1265.99L274.98 1265.99L275.91 1265.99L276.84 1265.99L277.77 1265.99L278.7 1265.99L279.62 1265.99L280.55 1265.99L281.48 1265.99L282.41 1265.99L283.34 1265.99L284.27 1265.99L285.2 1265.99L286.13 1265.99L287.06 1265.99L287.99 1265.99L288.91 1265.99L289.84 1265.99L290.77 1265.99L291.7 1265.99L292.63 1265.99L293.56 1265.99L294.49 1265.99L295.42 1266L296.35 1266L297.28 1266L298.2 1266L299.13 1266L300.06 1266L300.99 1266L301.92 1266L302.85 1266L303.78 1266L304.71 1266L305.64 1266L306.57 1266L307.49 1266L308.42 1266L309.35 1266L310.28 1266L311.21 1266L312.14 1266L313.07 1266L314 1266L314.93 1266L315.86 1266L316.78 1266L317.71 1266L318.64 1266L319.57 1266L320.5 1266L321.43 1266L322.36 1266L323.29 1266L324.22 1266L325.14 1266L326.07 1266L327 1266L327.93 1266L328.86 1266L329.79 1266L330.72 1266L331.65 1266L332.58 1266L333.51 1266L334.43 1266L335.36 1266L336.29 1266L337.22 1266L338.15 1266L339.08 1266L340.01 1266L340.94 1266L341.87 1266L342.8 1266L343.72 1266L344.65 1266L345.58 1266L346.51 1266L347.44 1266L348.37 1266L349.3 1266L350.23 1266L351.16 1266L352.09 1266L353.01 1266L353.94 1266L354.87 1266L355.8 1266L356.73 1266L357.66 1266L358.59 1266L359.52 1266L360.45 1266L361.38 1266L362.3 1266L363.23 1266L364.16 1266L365.09 1266L366.02 1266L366.95 1266L367.88 1266L368.81 1266L369.74 1266L370.67 1266L371.59 1266" stroke="#ff0000" stroke-dasharray="2.9 2.9" stroke-width="3.66"/>
<path d="M0 766.7L0.93 775.24L1.86 783.77L2.79 792.3L3.72 800.81L4.64 809.29L5.57 817.75L6.5 826.18L7.43 834.57L8.36 842.92L9.29 851.22L10.22 859.47L11.15 867.67L12.08 875.81L13.01 883.88L13.93 891.89L14.86 899.83L15.79 907.7L16.72 915.48L17.65 923.19L18.58 930.81L19.51 938.35L20.44 945.8L21.37 953.15L22.3 960.42L23.22 967.58L24.15 974.65L25.08 981.62L26.01 988.49L26.94 995.26L27.87 1001.92L28.8 1008.48L29.73 1014.93L30.66 1021.27L31.59 1027.51L32.51 1033.64L33.44 1039.66L34.37 1045.57L35.3 1051.37L36.23 1057.06L37.16 1062.64L38.09 1068.11L39.02 1073.47L39.95 1078.72L40.88 1083.87L41.8 1088.9L42.73 1093.83L43.66 1098.65L44.59 1103.37L45.52 1107.98L46.45 1112.48L47.38 1116.89L48.31 1121.19L49.24 1125.39L50.17 1129.49L51.09 1133.49L52.02 1137.39L52.95 1141.2L53.88 1144.91L54.81 1148.53L55.74 1152.05L56.67 1155.49L57.6 1158.83L58.53 1162.09L59.46 1165.26L60.38 1168.35L61.31 1171.35L62.24 1174.28L63.17 1177.12L64.1 1179.88L65.03 1182.57L65.96 1185.18L66.89 1187.72L67.82 1190.18L68.74 1192.58L69.67 1194.9L70.6 1197.16L71.53 1199.35L72.46 1201.48L73.39 1203.54L74.32 1205.55L75.25 1207.49L76.18 1209.38L77.11 1211.2L78.03 1212.98L78.96 1214.69L79.89 1216.36L80.82 1217.97L81.75 1219.54L82.68 1221.05L83.61 1222.52L84.54 1223.94L85.47 1225.32L86.4 1226.65L87.32 1227.94L88.25 1229.19L89.18 1230.4L90.11 1231.57L91.04 1232.7L91.97 1233.8L92.9 1234.86L93.83 1235.89L94.76 1236.88L95.69 1237.84L96.61 1238.77L97.54 1239.67L98.47 1240.54L99.4 1241.38L100.33 1242.19L101.26 1242.97L102.19 1243.73L103.12 1244.47L104.05 1245.18L104.98 1245.86L105.9 1246.53L106.83 1247.17L107.76 1247.79L108.69 1248.38L109.62 1248.96L110.55 1249.52L111.48 1250.06L112.41 1250.58L113.34 1251.09L114.27 1251.58L115.19 1252.05L116.12 1252.5L117.05 1252.94L117.98 1253.37L118.91 1253.78L119.84 1254.17L120.77 1254.56L121.7 1254.93L122.63 1255.28L123.56 1255.63L124.48 1255.96L125.41 1256.28L126.34 1256.6L127.27 1256.9L128.2 1257.19L129.13 1257.47L130.06 1257.74L130.99 1258L131.92 1258.25L132.84 1258.5L133.77 1258.73L134.7 1258.96L135.63 1259.18L136.56 1259.4L137.49 1259.6L138.42 1259.8L139.35 1260L140.28 1260.18L141.21 1260.36L142.13 1260.53L143.06 1260.7L143.99 1260.86L144.92 1261.02L145.85 1261.17L146.78 1261.32L147.71 1261.46L148.64 1261.6L149.57 1261.73L150.5 1261.86L151.42 1261.98L152.35 1262.1L153.28 1262.22L154.21 1262.33L155.14 1262.44L156.07 1262.54L157 1262.65L157.93 1262.74L158.86 1262.84L159.79 1262.93L160.71 1263.02L161.64 1263.11L162.57 1263.19L163.5 1263.27L164.43 1263.35L165.36 1263.42L166.29 1263.5L167.22 1263.57L168.15 1263.63L169.08 1263.7L170 1263.76L170.93 1263.83L171.86 1263.89L172.79 1263.95L173.72 1264L174.65 1264.06L175.58 1264.11L176.51 1264.16L177.44 1264.21L178.37 1264.26L179.29 1264.3L180.22 1264.35L181.15 1264.39L182.08 1264.44L183.01 1264.48L183.94 1264.52L184.87 1264.56L185.8 1264.59L186.73 1264.63L187.66 1264.67L188.58 1264.7L189.51 1264.73L190.44 1264.77L191.37 1264.8L192.3 1264.83L193.23 1264.86L194.16 1264.88L195.09 1264.91L196.02 1264.94L196.94 1264.97L197.87 1264.99L198.8 1265.02L199.73 1265.04L200.66 1265.06L201.59 1265.09L202.52 1265.11L203.45 1265.13L204.38 1265.15L205.31 1265.17L206.23 1265.19L207.16 1265.21L208.09 1265.23L209.02 1265.24L209.95 1265.26L210.88 1265.28L211.81 1265.3L212.74 1265.31L213.67 1265.33L214.6 1265.34L215.52 1265.36L216.45 1265.37L217.38 1265.38L218.31 1265.4L219.24 1265.41L220.17 1265.42L221.1 1265.44L222.03 1265.45L222.96 1265.46L223.89 1265.47L224.81 1265.48L225.74 1265.49L226.67 1265.51L227.6 1265.52L228.53 1265.53L229.46 1265.54L230.39 1265.54L231.32 1265.55L232.25 1265.56L233.18 1265.57L234.1 1265.58L235.03 1265.59L235.96 1265.6L236.89 1265.61L237.82 1265.61L238.75 1265.62L239.68 1265.63L240.61 1265.64L241.54 1265.64L242.47 1265.65L243.39 1265.66L244.32 1265.66L245.25 1265.67L246.18 1265.68L247.11 1265.68L248.04 1265.69L248.97 1265.69L249.9 1265.7L250.83 1265.7L251.76 1265.71L252.68 1265.71L253.61 1265.72L254.54 1265.72L255.47 1265.73L256.4 1265.73L257.33 1265.74L258.26 1265.74L259.19 1265.75L260.12 1265.75L261.04 1265.76L261.97 1265.76L262.9 1265.76L263.83 1265.77L264.76 1265.77L265.69 1265.78L266.62 1265.78L267.55 1265.78L268.48 1265.79L269.41 1265.79L270.33 1265.79L271.26 1265.8L272.19 1265.8L273.12 1265.8L274.05 1265.81L274.98 1265.81L275.91 1265.81L276.84 1265.82L277.77 1265.82L278.7 1265.82L279.62 1265.82L280.55 1265.83L281.48 1265.83L282.41 1265.83L283.34 1265.83L284.27 1265.84L285.2 1265.84L286.13 1265.84L287.06 1265.84L287.99 1265.85L288.91 1265.85L289.84 1265.85L290.77 1265.85L291.7 1265.86L292.63 1265.86L293.56 1265.86L294.49 1265.86L295.42 1265.86L296.35 1265.87L297.28 1265.87L298.2 1265.87L299.13 1265.87L300.06 1265.87L300.99 1265.87L301.92 1265.88L302.85 1265.88L303.78 1265.88L304.71 1265.88L305.64 1265.88L306.57 1265.88L307.49 1265.89L308.42 1265.89L309.35 1265.89L310.28 1265.89L311.21 1265.89L312.14 1265.89L313.07 1265.89L314 1265.89L314.93 1265.9L315.86 1265.9L316.78 1265.9L317.71 1265.9L318.64 1265.9L319.57 1265.9L320.5 1265.9L321.43 1265.9L322.36 1265.91L323.29 1265.91L324.22 1265.91L325.14 1265.91L326.07 1265.91L327 1265.91L327.93 1265.91L328.86 1265.91L329.79 1265.91L330.72 1265.91L331.65 1265.92L332.58 1265.92L333.51 1265.92L334.43 1265.92L335.36 1265.92L336.29 1265.92L337.22 1265.92L338.15 1265.92L339.08 1265.92L340.01 1265.92L340.94 1265.92L341.87 1265.93L342.8 1265.93L343.72 1265.93L344.65 1265.93L345.58 1265.93L346.51 1265.93L347.44 1265.93L348.37 1265.93L349.3 1265.93L350.23 1265.93L351.16 1265.93L352.09 1265.93L353.01 1265.93L353.94 1265.93L354.87 1265.93L355.8 1265.94L356.73 1265.94L357.66 1265.94L358.59 1265.94L359.52 1265.94L360.45 1265.94L361.38 1265.94L362.3 1265.94L363.23 1265.94L364.16 1265.94L365.09 1265.94L366.02 1265.94L366.95 1265.94L367.88 1265.94L368.81 1265.94L369.74 1265.94L370.67 1265.94L371.59 1265.94" stroke="#00ff00" stroke-dasharray="11.6 11.6"/>
<path d="M0 766.7L0.93 773.72L1.86 780.79L2.79 787.91L3.72 795.08L4.64 802.29L5.57 809.53L6.5 816.8L7.43 824.08L8.36 831.38L9.29 838.69L10.22 846L11.15 853.3L12.08 860.6L13.01 867.88L13.93 875.14L14.86 882.37L15.79 889.58L16.72 896.75L17.65 903.88L18.58 910.97L19.51 918.01L20.44 925L21.37 931.93L22.3 938.81L23.22 945.62L24.15 952.36L25.08 959.04L26.01 965.64L26.94 972.17L27.87 978.62L28.8 984.99L29.73 991.28L30.66 997.48L31.59 1003.6L32.51 1009.63L33.44 1015.57L34.37 1021.42L35.3 1027.18L36.23 1032.84L37.16 1038.41L38.09 1043.89L39.02 1049.27L39.95 1054.56L40.88 1059.75L41.8 1064.84L42.73 1069.84L43.66 1074.74L44.59 1079.54L45.52 1084.25L46.45 1088.86L47.38 1093.37L48.31 1097.8L49.24 1102.12L50.17 1106.36L51.09 1110.5L52.02 1114.55L52.95 1118.5L53.88 1122.37L54.81 1126.15L55.74 1129.84L56.67 1133.44L57.6 1136.96L58.53 1140.4L59.46 1143.74L60.38 1147.01L61.31 1150.2L62.24 1153.31L63.17 1156.34L64.1 1159.29L65.03 1162.17L65.96 1164.97L66.89 1167.7L67.82 1170.36L68.74 1172.95L69.67 1175.47L70.6 1177.92L71.53 1180.31L72.46 1182.64L73.39 1184.9L74.32 1187.1L75.25 1189.24L76.18 1191.32L77.11 1193.34L78.03 1195.31L78.96 1197.23L79.89 1199.09L80.82 1200.89L81.75 1202.65L82.68 1204.36L83.61 1206.02L84.54 1207.63L85.47 1209.2L86.4 1210.72L87.32 1212.2L88.25 1213.64L89.18 1215.04L90.11 1216.39L91.04 1217.71L91.97 1218.99L92.9 1220.23L93.83 1221.44L94.76 1222.61L95.69 1223.75L96.61 1224.86L97.54 1225.93L98.47 1226.97L99.4 1227.98L100.33 1228.97L101.26 1229.92L102.19 1230.85L103.12 1231.75L104.05 1232.62L104.98 1233.47L105.9 1234.29L106.83 1235.09L107.76 1235.87L108.69 1236.63L109.62 1237.36L110.55 1238.07L111.48 1238.76L112.41 1239.43L113.34 1240.08L114.27 1240.72L115.19 1241.33L116.12 1241.93L117.05 1242.51L117.98 1243.07L118.91 1243.62L119.84 1244.15L120.77 1244.67L121.7 1245.17L122.63 1245.66L123.56 1246.14L124.48 1246.6L125.41 1247.04L126.34 1247.48L127.27 1247.9L128.2 1248.31L129.13 1248.71L130.06 1249.1L130.99 1249.48L131.92 1249.85L132.84 1250.2L133.77 1250.55L134.7 1250.89L135.63 1251.22L136.56 1251.54L137.49 1251.85L138.42 1252.15L139.35 1252.45L140.28 1252.73L141.21 1253.01L142.13 1253.28L143.06 1253.55L143.99 1253.8L144.92 1254.05L145.85 1254.3L146.78 1254.53L147.71 1254.76L148.64 1254.99L149.57 1255.21L150.5 1255.42L151.42 1255.63L152.35 1255.83L153.28 1256.03L154.21 1256.22L155.14 1256.4L156.07 1256.59L157 1256.76L157.93 1256.94L158.86 1257.11L159.79 1257.27L160.71 1257.43L161.64 1257.59L162.57 1257.74L163.5 1257.89L164.43 1258.03L165.36 1258.17L166.29 1258.31L167.22 1258.45L168.15 1258.58L169.08 1258.7L170 1258.83L170.93 1258.95L171.86 1259.07L172.79 1259.19L173.72 1259.3L174.65 1259.41L175.58 1259.52L176.51 1259.62L177.44 1259.73L178.37 1259.83L179.29 1259.93L180.22 1260.02L181.15 1260.12L182.08 1260.21L183.01 1260.3L183.94 1260.39L184.87 1260.47L185.8 1260.55L186.73 1260.64L187.66 1260.72L188.58 1260.79L189.51 1260.87L190.44 1260.95L191.37 1261.02L192.3 1261.09L193.23 1261.16L194.16 1261.23L195.09 1261.3L196.02 1261.36L196.94 1261.43L197.87 1261.49L198.8 1261.55L199.73 1261.61L200.66 1261.67L201.59 1261.73L202.52 1261.78L203.45 1261.84L204.38 1261.89L205.31 1261.95L206.23 1262L207.16 1262.05L208.09 1262.1L209.02 1262.15L209.95 1262.19L210.88 1262.24L211.81 1262.29L212.74 1262.33L213.67 1262.38L214.6 1262.42L215.52 1262.46L216.45 1262.5L217.38 1262.54L218.31 1262.58L219.24 1262.62L220.17 1262.66L221.1 1262.7L222.03 1262.74L222.96 1262.77L223.89 1262.81L224.81 1262.84L225.74 1262.88L226.67 1262.91L227.6 1262.94L228.53 1262.98L229.46 1263.01L230.39 1263.04L231.32 1263.07L232.25 1263.1L233.18 1263.13L234.1 1263.16L235.03 1263.19L235.96 1263.22L236.89 1263.24L237.82 1263.27L238.75 1263.3L239.68 1263.32L240.61 1263.35L241.54 1263.37L242.47 1263.4L243.39 1263.42L244.32 1263.45L245.25 1263.47L246.18 1263.49L247.11 1263.52L248.04 1263.54L248.97 1263.56L249.9 1263.58L250.83 1263.6L251.76 1263.62L252.68 1263.64L253.61 1263.66L254.54 1263.68L255.47 1263.7L256.4 1263.72L257.33 1263.74L258.26 1263.76L259.19 1263.78L260.12 1263.8L261.04 1263.81L261.97 1263.83L262.9 1263.85L263.83 1263.86L264.76 1263.88L265.69 1263.9L266.62 1263.91L267.55 1263.93L268.48 1263.94L269.41 1263.96L270.33 1263.98L271.26 1263.99L272.19 1264L273.12 1264.02L274.05 1264.03L274.98 1264.05L275.91 1264.06L276.84 1264.07L277.77 1264.09L278.7 1264.1L279.62 1264.11L280.55 1264.13L281.48 1264.14L282.41 1264.15L283.34 1264.16L284.27 1264.18L285.2 1264.19L286.13 1264.2L287.06 1264.21L287.99 1264.22L288.91 1264.23L289.84 1264.24L290.77 1264.26L291.7 1264.27L292.63 1264.28L293.56 1264.29L294.49 1264.3L295.42 1264.31L296.35 1264.32L297.28 1264.33L298.2 1264.34L299.13 1264.35L300.06 1264.36L300.99 1264.37L301.92 1264.37L302.85 1264.38L303.78 1264.39L304.71 1264.4L305.64 1264.41L306.57 1264.42L307.49 1264.43L308.42 1264.44L309.35 1264.44L310.28 1264.45L311.21 1264.46L312.14 1264.47L313.07 1264.48L314 1264.48L314.93 1264.49L315.86 1264.5L316.78 1264.51L317.71 1264.51L318.64 1264.52L319.57 1264.53L320.5 1264.53L321.43 1264.54L322.36 1264.55L323.29 1264.56L324.22 1264.56L325.14 1264.57L326.07 1264.58L327 1264.58L327.93 1264.59L328.86 1264.59L329.79 1264.6L330.72 1264.61L331.65 1264.61L332.58 1264.62L333.51 1264.63L334.43 1264.63L335.36 1264.64L336.29 1264.64L337.22 1264.65L338.15 1264.65L339.08 1264.66L340.01 1264.66L340.94 1264.67L341.87 1264.68L342.8 1264.68L343.72 1264.69L344.65 1264.69L345.58 1264.7L346.51 1264.7L347.44 1264.71L348.37 1264.71L349.3 1264.72L350.23 1264.72L351.16 1264.73L352.09 1264.73L353.01 1264.73L353.94 1264.74L354.87 1264.74L355.8 1264.75L356.73 1264.75L357.66 1264.76L358.59 1264.76L359.52 1264.77L360.45 1264.77L361.38 1264.77L362.3 1264.78L363.23 1264.78L364.16 1264.79L365.09 1264.79L366.02 1264.79L366.95 1264.8L367.88 1264.8L368.81 1264.81L369.74 1264.81L370.67 1264.81L371.59 1264.82" stroke="#0000ff" stroke-dasharray="11.6 2.9 5.8 2.9"/>
<path d="M0 766.7L0.93 771.85L1.86 777.11L2.79 782.47L3.72 787.94L4.64 793.48L5.57 799.11L6.5 804.8L7.43 810.56L8.36 816.36L9.29 822.21L10.22 828.1L11.15 834.02L12.08 839.96L13.01 845.91L13.93 851.88L14.86 857.85L15.79 863.82L16.72 869.78L17.65 875.74L18.58 881.68L19.51 887.59L20.44 893.49L21.37 899.35L22.3 905.18L23.22 910.98L24.15 916.74L25.08 922.46L26.01 928.13L26.94 933.76L27.87 939.34L28.8 944.86L29.73 950.33L30.66 955.75L31.59 961.11L32.51 966.41L33.44 971.65L34.37 976.83L35.3 981.95L36.23 987.01L37.16 992L38.09 996.92L39.02 1001.78L39.95 1006.57L40.88 1011.3L41.8 1015.96L42.73 1020.55L43.66 1025.08L44.59 1029.54L45.52 1033.93L46.45 1038.25L47.38 1042.51L48.31 1046.69L49.24 1050.82L50.17 1054.87L51.09 1058.86L52.02 1062.78L52.95 1066.64L53.88 1070.43L54.81 1074.16L55.74 1077.82L56.67 1081.42L57.6 1084.96L58.53 1088.43L59.46 1091.85L60.38 1095.2L61.31 1098.49L62.24 1101.72L63.17 1104.9L64.1 1108.01L65.03 1111.07L65.96 1114.07L66.89 1117.02L67.82 1119.91L68.74 1122.74L69.67 1125.53L70.6 1128.25L71.53 1130.93L72.46 1133.56L73.39 1136.14L74.32 1138.66L75.25 1141.14L76.18 1143.57L77.11 1145.95L78.03 1148.29L78.96 1150.58L79.89 1152.82L80.82 1155.03L81.75 1157.18L82.68 1159.3L83.61 1161.37L84.54 1163.41L85.47 1165.4L86.4 1167.35L87.32 1169.26L88.25 1171.14L89.18 1172.98L90.11 1174.78L91.04 1176.54L91.97 1178.27L92.9 1179.97L93.83 1181.63L94.76 1183.25L95.69 1184.85L96.61 1186.41L97.54 1187.94L98.47 1189.44L99.4 1190.91L100.33 1192.35L101.26 1193.76L102.19 1195.14L103.12 1196.5L104.05 1197.82L104.98 1199.12L105.9 1200.39L106.83 1201.64L107.76 1202.86L108.69 1204.06L109.62 1205.23L110.55 1206.38L111.48 1207.51L112.41 1208.61L113.34 1209.69L114.27 1210.75L115.19 1211.79L116.12 1212.8L117.05 1213.8L117.98 1214.78L118.91 1215.73L119.84 1216.67L120.77 1217.59L121.7 1218.48L122.63 1219.37L123.56 1220.23L124.48 1221.07L125.41 1221.9L126.34 1222.72L127.27 1223.51L128.2 1224.29L129.13 1225.05L130.06 1225.8L130.99 1226.54L131.92 1227.26L132.84 1227.96L133.77 1228.65L134.7 1229.33L135.63 1229.99L136.56 1230.64L137.49 1231.28L138.42 1231.9L139.35 1232.51L140.28 1233.11L141.21 1233.7L142.13 1234.28L143.06 1234.84L143.99 1235.4L144.92 1235.94L145.85 1236.47L146.78 1236.99L147.71 1237.51L148.64 1238.01L149.57 1238.5L150.5 1238.98L151.42 1239.45L152.35 1239.92L153.28 1240.37L154.21 1240.82L155.14 1241.25L156.07 1241.68L157 1242.1L157.93 1242.51L158.86 1242.92L159.79 1243.31L160.71 1243.7L161.64 1244.08L162.57 1244.46L163.5 1244.82L164.43 1245.18L165.36 1245.53L166.29 1245.88L167.22 1246.22L168.15 1246.55L169.08 1246.88L170 1247.2L170.93 1247.51L171.86 1247.82L172.79 1248.12L173.72 1248.42L174.65 1248.71L175.58 1249L176.51 1249.28L177.44 1249.55L178.37 1249.82L179.29 1250.09L180.22 1250.35L181.15 1250.6L182.08 1250.85L183.01 1251.1L183.94 1251.34L184.87 1251.58L185.8 1251.81L186.73 1252.04L187.66 1252.26L188.58 1252.48L189.51 1252.7L190.44 1252.91L191.37 1253.12L192.3 1253.32L193.23 1253.52L194.16 1253.72L195.09 1253.92L196.02 1254.11L196.94 1254.29L197.87 1254.47L198.8 1254.65L199.73 1254.83L200.66 1255.01L201.59 1255.18L202.52 1255.34L203.45 1255.51L204.38 1255.67L205.31 1255.83L206.23 1255.98L207.16 1256.14L208.09 1256.29L209.02 1256.43L209.95 1256.58L210.88 1256.72L211.81 1256.86L212.74 1257L213.67 1257.14L214.6 1257.27L215.52 1257.4L216.45 1257.53L217.38 1257.65L218.31 1257.78L219.24 1257.9L220.17 1258.02L221.1 1258.14L222.03 1258.25L222.96 1258.37L223.89 1258.48L224.81 1258.59L225.74 1258.7L226.67 1258.8L227.6 1258.91L228.53 1259.01L229.46 1259.11L230.39 1259.21L231.32 1259.31L232.25 1259.4L233.18 1259.5L234.1 1259.59L235.03 1259.68L235.96 1259.77L236.89 1259.86L237.82 1259.95L238.75 1260.03L239.68 1260.12L240.61 1260.2L241.54 1260.28L242.47 1260.36L243.39 1260.44L244.32 1260.51L245.25 1260.59L246.18 1260.67L247.11 1260.74L248.04 1260.81L248.97 1260.88L249.9 1260.95L250.83 1261.02L251.76 1261.09L252.68 1261.16L253.61 1261.22L254.54 1261.29L255.47 1261.35L256.4 1261.41L257.33 1261.47L258.26 1261.54L259.19 1261.6L260.12 1261.65L261.04 1261.71L261.97 1261.77L262.9 1261.82L263.83 1261.88L264.76 1261.93L265.69 1261.99L266.62 1262.04L267.55 1262.09L268.48 1262.14L269.41 1262.19L270.33 1262.24L271.26 1262.29L272.19 1262.34L273.12 1262.39L274.05 1262.43L274.98 1262.48L275.91 1262.52L276.84 1262.57L277.77 1262.61L278.7 1262.66L279.62 1262.7L280.55 1262.74L281.48 1262.78L282.41 1262.82L283.34 1262.86L284.27 1262.9L285.2 1262.94L286.13 1262.98L287.06 1263.02L287.99 1263.05L288.91 1263.09L289.84 1263.13L290.77 1263.16L291.7 1263.2L292.63 1263.23L293.56 1263.26L294.49 1263.3L295.42 1263.33L296.35 1263.36L297.28 1263.39L298.2 1263.43L299.13 1263.46L300.06 1263.49L300.99 1263.52L301.92 1263.55L302.85 1263.58L303.78 1263.61L304.71 1263.63L305.64 1263.66L306.57 1263.69L307.49 1263.72L308.42 1263.74L309.35 1263.77L310.28 1263.8L311.21 1263.82L312.14 1263.85L313.07 1263.87L314 1263.9L314.93 1263.92L315.86 1263.95L316.78 1263.97L317.71 1263.99L318.64 1264.02L319.57 1264.04L320.5 1264.06L321.43 1264.08L322.36 1264.11L323.29 1264.13L324.22 1264.15L325.14 1264.17L326.07 1264.19L327 1264.21L327.93 1264.23L328.86 1264.25L329.79 1264.27L330.72 1264.29L331.65 1264.31L332.58 1264.33L333.51 1264.35L334.43 1264.36L335.36 1264.38L336.29 1264.4L337.22 1264.42L338.15 1264.43L339.08 1264.45L340.01 1264.47L340.94 1264.49L341.87 1264.5L342.8 1264.52L343.72 1264.53L344.65 1264.55L345.58 1264.57L346.51 1264.58L347.44 1264.6L348.37 1264.61L349.3 1264.63L350.23 1264.64L351.16 1264.66L352.09 1264.67L353.01 1264.68L353.94 1264.7L354.87 1264.71L355.8 1264.72L356.73 1264.74L357.66 1264.75L358.59 1264.76L359.52 1264.78L360.45 1264.79L361.38 1264.8L362.3 1264.81L363.23 1264.83L364.16 1264.84L365.09 1264.85L366.02 1264.86L366.95 1264.87L367.88 1264.89L368.81 1264.9L369.74 1264.91L370.67 1264.92L371.59 1264.93" stroke="#00ffff"/>
</g>
<g font-family='"Liberation Serif", serif' font-weight="bold" font-style="italic" fill="#222222" font-size="30.2">
<text x="-10.14" y="1277.91" text-anchor="end">0</text>
<text x="-10.8" y="1177.15" text-anchor="end">0.2</text>
<text x="-10.8" y="1077.29" text-anchor="end">0.4</text>
<text x="-10.8" y="977.43" text-anchor="end">0.6</text>
<text x="-10.8" y="877.57" text-anchor="end">0.8</text>
<text x="-8.91" y="777.71" text-anchor="end">1</text>
<text x="0" y="1304.91" text-anchor="middle">0</text>
<text x="74.32" y="1304.91" text-anchor="middle">1</text>
<text x="148.64" y="1304.91" text-anchor="middle">2</text>
<text x="222.96" y="1304.91" text-anchor="middle">3</text>
<text x="297.28" y="1304.91" text-anchor="middle">4</text>
<text x="371.59" y="1304.91" text-anchor="middle">5</text>
<text x="192.83" y="1339.4" text-anchor="middle" font-size="31">η</text>
</g>
<text transform="translate(-67.1,1014.5) rotate(-90)" text-anchor="middle" font-family='"Liberation Serif", serif' font-style="italic" font-weight="bold" font-size="31" fill="#222222" y="7.44">χ(η)</text>
<rect x="197.46" y="784.7" width="156.3" height="132.6" fill="#fff" stroke="#1e1e1e" stroke-width="1.5"/>
<path d="M208.77 803.9H263.87" stroke="#ff0000" stroke-width="3.69" fill="none" stroke-dasharray="2.9 2.9"/>
<text x="270.51" y="814.43" font-family='"Liberation Serif", serif' font-weight="bold" font-style="italic" font-size="27" fill="#000" xml:space="preserve" textLength="77.99" lengthAdjust="spacingAndGlyphs">n = 0.1</text>
<path d="M208.77 835.4H266.74" stroke="#00ff00" stroke-width="4.1" fill="none" stroke-dasharray="11.6 11.6"/>
<text x="270.51" y="845.93" font-family='"Liberation Serif", serif' font-weight="bold" font-style="italic" font-size="27" fill="#000" xml:space="preserve" textLength="77.99" lengthAdjust="spacingAndGlyphs">n = 0.3</text>
<path d="M208.77 867.2H266.74" stroke="#0000ff" stroke-width="4.1" fill="none" stroke-dasharray="11.6 2.9 5.8 2.9"/>
<text x="270.51" y="877.73" font-family='"Liberation Serif", serif' font-weight="bold" font-style="italic" font-size="27" fill="#000" xml:space="preserve" textLength="77.99" lengthAdjust="spacingAndGlyphs">n = 0.6</text>
<path d="M208.77 898.6H266.74" stroke="#00ffff" stroke-width="4.1" fill="none"/>
<text x="270.51" y="909.13" font-family='"Liberation Serif", serif' font-weight="bold" font-style="italic" font-size="27" fill="#000" xml:space="preserve" textLength="77.99" lengthAdjust="spacingAndGlyphs">n = 0.9</text>
</g>
<line x1="882.5" y1="1220.3" x2="928.84" y2="1178.15" stroke="#000" stroke-width="2.3"/><polygon points="944.5,1163.9 930.11,1191.18 928.84,1178.15 915.98,1175.65" fill="#000"/>
<text x="658" y="695.8" font-family='"Liberation Sans", sans-serif' font-weight="bold" font-size="42.5" fill="#000">D</text>
<!-- panel E -->
<g transform="translate(124.6,0) scale(1.27,1)">
<path d="M131.97 1482.7V2100.5M263.94 1482.7V2100.5M0 1997.53H395.91M0 1894.57H395.91M0 1791.6H395.91M0 1688.63H395.91M0 1585.67H395.91" stroke="#d2d2d2" stroke-width="1.1" fill="none"/>
<rect x="0" y="1482.7" width="395.91" height="617.8" fill="none" stroke="#1e1e1e" stroke-width="2.2"/>
<path d="M131.97 2100.5v-5.7M131.97 1482.7v5.7M263.94 2100.5v-5.7M263.94 1482.7v5.7M0 1997.53h5.7M395.91 1997.53h-5.7M0 1894.57h5.7M395.91 1894.57h-5.7M0 1791.6h5.7M395.91 1791.6h-5.7M0 1688.63h5.7M395.91 1688.63h-5.7M0 1585.67h5.7M395.91 1585.67h-5.7" stroke="#1e1e1e" stroke-width="1.5" fill="none"/>
<clipPath id="clipE"><rect x="-1.73" y="1480.7" width="399.37" height="622"/></clipPath>
<g clip-path="url(#clipE)" fill="none" stroke-width="4.61">
<path d="M0 1536.76L0.99 1549.92L1.98 1562.69L2.97 1575.06L3.96 1587.06L4.95 1598.7L5.94 1610L6.93 1620.96L7.92 1631.61L8.91 1641.95L9.9 1652L10.89 1661.76L11.88 1671.24L12.87 1680.46L13.86 1689.43L14.85 1698.16L15.84 1706.64L16.83 1714.9L17.82 1722.94L18.81 1730.77L19.8 1738.39L20.79 1745.82L21.77 1753.05L22.76 1760.1L23.75 1766.97L24.74 1773.67L25.73 1780.2L26.72 1786.57L27.71 1792.79L28.7 1798.86L29.69 1804.78L30.68 1810.56L31.67 1816.2L32.66 1821.71L33.65 1827.09L34.64 1832.35L35.63 1837.48L36.62 1842.5L37.61 1847.41L38.6 1852.21L39.59 1856.9L40.58 1861.49L41.57 1865.97L42.56 1870.36L43.55 1874.66L44.54 1878.86L45.53 1882.98L46.52 1887.01L47.51 1890.95L48.5 1894.81L49.49 1898.59L50.48 1902.3L51.47 1905.93L52.46 1909.48L53.45 1912.97L54.44 1916.38L55.43 1919.73L56.42 1923.01L57.41 1926.23L58.4 1929.38L59.39 1932.47L60.38 1935.51L61.37 1938.48L62.36 1941.4L63.34 1944.27L64.33 1947.08L65.32 1949.84L66.31 1952.54L67.3 1955.2L68.29 1957.81L69.28 1960.37L70.27 1962.88L71.26 1965.35L72.25 1967.77L73.24 1970.16L74.23 1972.49L75.22 1974.79L76.21 1977.04L77.2 1979.26L78.19 1981.44L79.18 1983.58L80.17 1985.68L81.16 1987.74L82.15 1989.77L83.14 1991.77L84.13 1993.73L85.12 1995.65L86.11 1997.55L87.1 1999.41L88.09 2001.24L89.08 2003.03L90.07 2004.8L91.06 2006.54L92.05 2008.25L93.04 2009.93L94.03 2011.58L95.02 2013.21L96.01 2014.81L97 2016.38L97.99 2017.92L98.98 2019.44L99.97 2020.93L100.96 2022.4L101.95 2023.85L102.94 2025.27L103.93 2026.67L104.91 2028.04L105.9 2029.39L106.89 2030.72L107.88 2032.03L108.87 2033.32L109.86 2034.58L110.85 2035.83L111.84 2037.05L112.83 2038.25L113.82 2039.44L114.81 2040.6L115.8 2041.74L116.79 2042.87L117.78 2043.98L118.77 2045.07L119.76 2046.14L120.75 2047.19L121.74 2048.23L122.73 2049.24L123.72 2050.25L124.71 2051.23L125.7 2052.2L126.69 2053.15L127.68 2054.09L128.67 2055.01L129.66 2055.91L130.65 2056.8L131.64 2057.68L132.63 2058.54L133.62 2059.38L134.61 2060.21L135.6 2061.03L136.59 2061.83L137.58 2062.62L138.57 2063.4L139.56 2064.16L140.55 2064.91L141.54 2065.65L142.53 2066.37L143.52 2067.08L144.51 2067.78L145.5 2068.47L146.49 2069.14L147.47 2069.8L148.46 2070.45L149.45 2071.09L150.44 2071.72L151.43 2072.34L152.42 2072.94L153.41 2073.54L154.4 2074.12L155.39 2074.7L156.38 2075.26L157.37 2075.81L158.36 2076.35L159.35 2076.89L160.34 2077.41L161.33 2077.92L162.32 2078.43L163.31 2078.92L164.3 2079.41L165.29 2079.88L166.28 2080.35L167.27 2080.81L168.26 2081.26L169.25 2081.7L170.24 2082.13L171.23 2082.55L172.22 2082.97L173.21 2083.38L174.2 2083.78L175.19 2084.17L176.18 2084.55L177.17 2084.93L178.16 2085.3L179.15 2085.66L180.14 2086.01L181.13 2086.36L182.12 2086.7L183.11 2087.04L184.1 2087.36L185.09 2087.68L186.08 2088L187.07 2088.3L188.06 2088.6L189.04 2088.9L190.03 2089.19L191.02 2089.47L192.01 2089.74L193 2090.01L193.99 2090.28L194.98 2090.54L195.97 2090.79L196.96 2091.04L197.95 2091.28L198.94 2091.52L199.93 2091.75L200.92 2091.98L201.91 2092.2L202.9 2092.42L203.89 2092.63L204.88 2092.83L205.87 2093.04L206.86 2093.24L207.85 2093.43L208.84 2093.62L209.83 2093.8L210.82 2093.98L211.81 2094.16L212.8 2094.33L213.79 2094.5L214.78 2094.66L215.77 2094.82L216.76 2094.98L217.75 2095.13L218.74 2095.28L219.73 2095.43L220.72 2095.57L221.71 2095.71L222.7 2095.84L223.69 2095.98L224.68 2096.11L225.67 2096.23L226.66 2096.35L227.65 2096.47L228.64 2096.59L229.63 2096.7L230.61 2096.81L231.6 2096.92L232.59 2097.03L233.58 2097.13L234.57 2097.23L235.56 2097.32L236.55 2097.42L237.54 2097.51L238.53 2097.6L239.52 2097.69L240.51 2097.77L241.5 2097.86L242.49 2097.94L243.48 2098.02L244.47 2098.09L245.46 2098.17L246.45 2098.24L247.44 2098.31L248.43 2098.38L249.42 2098.44L250.41 2098.51L251.4 2098.57L252.39 2098.63L253.38 2098.69L254.37 2098.75L255.36 2098.8L256.35 2098.86L257.34 2098.91L258.33 2098.96L259.32 2099.01L260.31 2099.06L261.3 2099.11L262.29 2099.15L263.28 2099.2L264.27 2099.24L265.26 2099.28L266.25 2099.32L267.24 2099.36L268.23 2099.4L269.22 2099.44L270.21 2099.47L271.2 2099.51L272.19 2099.54L273.17 2099.57L274.16 2099.61L275.15 2099.64L276.14 2099.67L277.13 2099.7L278.12 2099.72L279.11 2099.75L280.1 2099.78L281.09 2099.8L282.08 2099.83L283.07 2099.85L284.06 2099.87L285.05 2099.9L286.04 2099.92L287.03 2099.94L288.02 2099.96L289.01 2099.98L290 2100L290.99 2100.02L291.98 2100.03L292.97 2100.05L293.96 2100.07L294.95 2100.08L295.94 2100.1L296.93 2100.11L297.92 2100.13L298.91 2100.14L299.9 2100.15L300.89 2100.17L301.88 2100.18L302.87 2100.19L303.86 2100.2L304.85 2100.22L305.84 2100.23L306.83 2100.24L307.82 2100.25L308.81 2100.26L309.8 2100.27L310.79 2100.28L311.78 2100.28L312.77 2100.29L313.76 2100.3L314.74 2100.31L315.73 2100.32L316.72 2100.32L317.71 2100.33L318.7 2100.34L319.69 2100.34L320.68 2100.35L321.67 2100.36L322.66 2100.36L323.65 2100.37L324.64 2100.37L325.63 2100.38L326.62 2100.38L327.61 2100.39L328.6 2100.39L329.59 2100.4L330.58 2100.4L331.57 2100.41L332.56 2100.41L333.55 2100.41L334.54 2100.42L335.53 2100.42L336.52 2100.42L337.51 2100.43L338.5 2100.43L339.49 2100.43L340.48 2100.44L341.47 2100.44L342.46 2100.44L343.45 2100.44L344.44 2100.45L345.43 2100.45L346.42 2100.45L347.41 2100.45L348.4 2100.45L349.39 2100.46L350.38 2100.46L351.37 2100.46L352.36 2100.46L353.35 2100.46L354.34 2100.47L355.33 2100.47L356.31 2100.47L357.3 2100.47L358.29 2100.47L359.28 2100.47L360.27 2100.47L361.26 2100.48L362.25 2100.48L363.24 2100.48L364.23 2100.48L365.22 2100.48L366.21 2100.48L367.2 2100.48L368.19 2100.48L369.18 2100.48L370.17 2100.48L371.16 2100.48L372.15 2100.49L373.14 2100.49L374.13 2100.49L375.12 2100.49L376.11 2100.49L377.1 2100.49L378.09 2100.49L379.08 2100.49L380.07 2100.49L381.06 2100.49L382.05 2100.49L383.04 2100.49L384.03 2100.49L385.02 2100.49L386.01 2100.49L387 2100.49L387.99 2100.49L388.98 2100.49L389.97 2100.49L390.96 2100.49L391.95 2100.49L392.94 2100.49L393.93 2100.5L394.92 2100.5L395.91 2100.5" stroke="#ff0000" stroke-dasharray="3.25 3.25"/>
<path d="M0 1588.24L0.99 1602.84L1.98 1616.08L2.97 1628.39L3.96 1639.98L4.95 1651.01L5.94 1661.57L6.93 1671.73L7.92 1681.52L8.91 1691L9.9 1700.19L10.89 1709.1L11.88 1717.75L12.87 1726.17L13.86 1734.37L14.85 1742.34L15.84 1750.11L16.83 1757.69L17.82 1765.08L18.81 1772.28L19.8 1779.31L20.79 1786.17L21.77 1792.86L22.76 1799.4L23.75 1805.79L24.74 1812.02L25.73 1818.11L26.72 1824.07L27.71 1829.88L28.7 1835.56L29.69 1841.12L30.68 1846.55L31.67 1851.85L32.66 1857.04L33.65 1862.11L34.64 1867.07L35.63 1871.92L36.62 1876.67L37.61 1881.31L38.6 1885.84L39.59 1890.28L40.58 1894.62L41.57 1898.87L42.56 1903.03L43.55 1907.09L44.54 1911.07L45.53 1914.96L46.52 1918.77L47.51 1922.49L48.5 1926.14L49.49 1929.71L50.48 1933.2L51.47 1936.62L52.46 1939.96L53.45 1943.24L54.44 1946.44L55.43 1949.58L56.42 1952.65L57.41 1955.66L58.4 1958.6L59.39 1961.48L60.38 1964.31L61.37 1967.07L62.36 1969.77L63.34 1972.42L64.33 1975.01L65.32 1977.55L66.31 1980.04L67.3 1982.47L68.29 1984.85L69.28 1987.19L70.27 1989.47L71.26 1991.71L72.25 1993.9L73.24 1996.05L74.23 1998.15L75.22 2000.21L76.21 2002.22L77.2 2004.2L78.19 2006.13L79.18 2008.03L80.17 2009.88L81.16 2011.7L82.15 2013.48L83.14 2015.22L84.13 2016.93L85.12 2018.61L86.11 2020.24L87.1 2021.85L88.09 2023.42L89.08 2024.96L90.07 2026.47L91.06 2027.95L92.05 2029.4L93.04 2030.82L94.03 2032.21L95.02 2033.57L96.01 2034.9L97 2036.21L97.99 2037.49L98.98 2038.75L99.97 2039.98L100.96 2041.18L101.95 2042.36L102.94 2043.52L103.93 2044.65L104.91 2045.76L105.9 2046.85L106.89 2047.92L107.88 2048.96L108.87 2049.98L109.86 2050.99L110.85 2051.97L111.84 2052.93L112.83 2053.87L113.82 2054.8L114.81 2055.7L115.8 2056.59L116.79 2057.46L117.78 2058.31L118.77 2059.15L119.76 2059.97L120.75 2060.77L121.74 2061.56L122.73 2062.33L123.72 2063.08L124.71 2063.82L125.7 2064.55L126.69 2065.26L127.68 2065.95L128.67 2066.64L129.66 2067.31L130.65 2067.96L131.64 2068.6L132.63 2069.23L133.62 2069.85L134.61 2070.45L135.6 2071.05L136.59 2071.63L137.58 2072.2L138.57 2072.76L139.56 2073.3L140.55 2073.84L141.54 2074.36L142.53 2074.88L143.52 2075.38L144.51 2075.88L145.5 2076.36L146.49 2076.84L147.47 2077.3L148.46 2077.76L149.45 2078.21L150.44 2078.65L151.43 2079.08L152.42 2079.5L153.41 2079.91L154.4 2080.32L155.39 2080.71L156.38 2081.1L157.37 2081.48L158.36 2081.86L159.35 2082.22L160.34 2082.58L161.33 2082.93L162.32 2083.28L163.31 2083.62L164.3 2083.95L165.29 2084.27L166.28 2084.59L167.27 2084.9L168.26 2085.21L169.25 2085.51L170.24 2085.8L171.23 2086.09L172.22 2086.38L173.21 2086.65L174.2 2086.92L175.19 2087.19L176.18 2087.45L177.17 2087.71L178.16 2087.96L179.15 2088.2L180.14 2088.44L181.13 2088.68L182.12 2088.91L183.11 2089.14L184.1 2089.36L185.09 2089.58L186.08 2089.79L187.07 2090L188.06 2090.21L189.04 2090.41L190.03 2090.61L191.02 2090.8L192.01 2090.99L193 2091.18L193.99 2091.36L194.98 2091.54L195.97 2091.71L196.96 2091.89L197.95 2092.05L198.94 2092.22L199.93 2092.38L200.92 2092.54L201.91 2092.7L202.9 2092.85L203.89 2093L204.88 2093.14L205.87 2093.29L206.86 2093.43L207.85 2093.57L208.84 2093.7L209.83 2093.84L210.82 2093.97L211.81 2094.09L212.8 2094.22L213.79 2094.34L214.78 2094.46L215.77 2094.58L216.76 2094.69L217.75 2094.81L218.74 2094.92L219.73 2095.03L220.72 2095.13L221.71 2095.24L222.7 2095.34L223.69 2095.44L224.68 2095.54L225.67 2095.64L226.66 2095.73L227.65 2095.83L228.64 2095.92L229.63 2096.01L230.61 2096.09L231.6 2096.18L232.59 2096.26L233.58 2096.35L234.57 2096.43L235.56 2096.51L236.55 2096.59L237.54 2096.66L238.53 2096.74L239.52 2096.81L240.51 2096.88L241.5 2096.95L242.49 2097.02L243.48 2097.09L244.47 2097.16L245.46 2097.22L246.45 2097.28L247.44 2097.35L248.43 2097.41L249.42 2097.47L250.41 2097.53L251.4 2097.59L252.39 2097.64L253.38 2097.7L254.37 2097.75L255.36 2097.81L256.35 2097.86L257.34 2097.91L258.33 2097.96L259.32 2098.01L260.31 2098.06L261.3 2098.11L262.29 2098.15L263.28 2098.2L264.27 2098.24L265.26 2098.29L266.25 2098.33L267.24 2098.37L268.23 2098.41L269.22 2098.45L270.21 2098.49L271.2 2098.53L272.19 2098.57L273.17 2098.61L274.16 2098.65L275.15 2098.68L276.14 2098.72L277.13 2098.75L278.12 2098.79L279.11 2098.82L280.1 2098.85L281.09 2098.88L282.08 2098.92L283.07 2098.95L284.06 2098.98L285.05 2099.01L286.04 2099.04L287.03 2099.06L288.02 2099.09L289.01 2099.12L290 2099.15L290.99 2099.17L291.98 2099.2L292.97 2099.22L293.96 2099.25L294.95 2099.27L295.94 2099.3L296.93 2099.32L297.92 2099.34L298.91 2099.37L299.9 2099.39L300.89 2099.41L301.88 2099.43L302.87 2099.45L303.86 2099.47L304.85 2099.49L305.84 2099.51L306.83 2099.53L307.82 2099.55L308.81 2099.57L309.8 2099.59L310.79 2099.6L311.78 2099.62L312.77 2099.64L313.76 2099.65L314.74 2099.67L315.73 2099.69L316.72 2099.7L317.71 2099.72L318.7 2099.73L319.69 2099.75L320.68 2099.76L321.67 2099.78L322.66 2099.79L323.65 2099.81L324.64 2099.82L325.63 2099.83L326.62 2099.84L327.61 2099.86L328.6 2099.87L329.59 2099.88L330.58 2099.89L331.57 2099.91L332.56 2099.92L333.55 2099.93L334.54 2099.94L335.53 2099.95L336.52 2099.96L337.51 2099.97L338.5 2099.98L339.49 2099.99L340.48 2100L341.47 2100.01L342.46 2100.02L343.45 2100.03L344.44 2100.04L345.43 2100.05L346.42 2100.06L347.41 2100.07L348.4 2100.07L349.39 2100.08L350.38 2100.09L351.37 2100.1L352.36 2100.11L353.35 2100.11L354.34 2100.12L355.33 2100.13L356.31 2100.14L357.3 2100.14L358.29 2100.15L359.28 2100.16L360.27 2100.16L361.26 2100.17L362.25 2100.18L363.24 2100.18L364.23 2100.19L365.22 2100.19L366.21 2100.2L367.2 2100.21L368.19 2100.21L369.18 2100.22L370.17 2100.22L371.16 2100.23L372.15 2100.23L373.14 2100.24L374.13 2100.24L375.12 2100.25L376.11 2100.25L377.1 2100.26L378.09 2100.26L379.08 2100.27L380.07 2100.27L381.06 2100.28L382.05 2100.28L383.04 2100.29L384.03 2100.29L385.02 2100.29L386.01 2100.3L387 2100.3L387.99 2100.31L388.98 2100.31L389.97 2100.31L390.96 2100.32L391.95 2100.32L392.94 2100.32L393.93 2100.33L394.92 2100.33L395.91 2100.33" stroke="#00ff00" stroke-dasharray="13 13"/>
<path d="M0 1680.91L0.99 1695.23L1.98 1708.92L2.97 1721.98L3.96 1734.4L4.95 1746.19L5.94 1757.37L6.93 1767.95L7.92 1777.98L8.91 1787.49L9.9 1796.51L10.89 1805.09L11.88 1813.25L12.87 1821.04L13.86 1828.49L14.85 1835.62L15.84 1842.47L16.83 1849.07L17.82 1855.42L18.81 1861.56L19.8 1867.5L20.79 1873.25L21.77 1878.83L22.76 1884.25L23.75 1889.52L24.74 1894.64L25.73 1899.63L26.72 1904.5L27.71 1909.24L28.7 1913.86L29.69 1918.37L30.68 1922.76L31.67 1927.06L32.66 1931.25L33.65 1935.34L34.64 1939.34L35.63 1943.24L36.62 1947.06L37.61 1950.78L38.6 1954.42L39.59 1957.97L40.58 1961.44L41.57 1964.83L42.56 1968.14L43.55 1971.37L44.54 1974.53L45.53 1977.61L46.52 1980.62L47.51 1983.56L48.5 1986.43L49.49 1989.24L50.48 1991.98L51.47 1994.65L52.46 1997.26L53.45 1999.8L54.44 2002.29L55.43 2004.72L56.42 2007.09L57.41 2009.4L58.4 2011.66L59.39 2013.86L60.38 2016.01L61.37 2018.11L62.36 2020.15L63.34 2022.15L64.33 2024.1L65.32 2026L66.31 2027.86L67.3 2029.67L68.29 2031.44L69.28 2033.16L70.27 2034.84L71.26 2036.48L72.25 2038.08L73.24 2039.64L74.23 2041.17L75.22 2042.65L76.21 2044.1L77.2 2045.51L78.19 2046.89L79.18 2048.23L80.17 2049.55L81.16 2050.82L82.15 2052.07L83.14 2053.29L84.13 2054.47L85.12 2055.63L86.11 2056.76L87.1 2057.86L88.09 2058.93L89.08 2059.98L90.07 2061L91.06 2061.99L92.05 2062.96L93.04 2063.91L94.03 2064.83L95.02 2065.73L96.01 2066.6L97 2067.46L97.99 2068.29L98.98 2069.11L99.97 2069.9L100.96 2070.67L101.95 2071.42L102.94 2072.16L103.93 2072.87L104.91 2073.57L105.9 2074.25L106.89 2074.91L107.88 2075.56L108.87 2076.19L109.86 2076.81L110.85 2077.41L111.84 2077.99L112.83 2078.56L113.82 2079.11L114.81 2079.66L115.8 2080.18L116.79 2080.7L117.78 2081.2L118.77 2081.69L119.76 2082.16L120.75 2082.63L121.74 2083.08L122.73 2083.52L123.72 2083.95L124.71 2084.37L125.7 2084.78L126.69 2085.18L127.68 2085.57L128.67 2085.95L129.66 2086.31L130.65 2086.67L131.64 2087.03L132.63 2087.37L133.62 2087.7L134.61 2088.02L135.6 2088.34L136.59 2088.65L137.58 2088.95L138.57 2089.24L139.56 2089.53L140.55 2089.81L141.54 2090.08L142.53 2090.34L143.52 2090.6L144.51 2090.85L145.5 2091.1L146.49 2091.34L147.47 2091.57L148.46 2091.8L149.45 2092.02L150.44 2092.23L151.43 2092.44L152.42 2092.65L153.41 2092.85L154.4 2093.04L155.39 2093.23L156.38 2093.42L157.37 2093.6L158.36 2093.77L159.35 2093.94L160.34 2094.11L161.33 2094.27L162.32 2094.43L163.31 2094.58L164.3 2094.73L165.29 2094.88L166.28 2095.02L167.27 2095.16L168.26 2095.3L169.25 2095.43L170.24 2095.56L171.23 2095.69L172.22 2095.81L173.21 2095.93L174.2 2096.04L175.19 2096.16L176.18 2096.27L177.17 2096.38L178.16 2096.48L179.15 2096.58L180.14 2096.68L181.13 2096.78L182.12 2096.87L183.11 2096.97L184.1 2097.06L185.09 2097.14L186.08 2097.23L187.07 2097.31L188.06 2097.39L189.04 2097.47L190.03 2097.55L191.02 2097.63L192.01 2097.7L193 2097.77L193.99 2097.84L194.98 2097.91L195.97 2097.97L196.96 2098.04L197.95 2098.1L198.94 2098.16L199.93 2098.22L200.92 2098.28L201.91 2098.34L202.9 2098.39L203.89 2098.44L204.88 2098.5L205.87 2098.55L206.86 2098.6L207.85 2098.65L208.84 2098.69L209.83 2098.74L210.82 2098.78L211.81 2098.83L212.8 2098.87L213.79 2098.91L214.78 2098.95L215.77 2098.99L216.76 2099.03L217.75 2099.07L218.74 2099.1L219.73 2099.14L220.72 2099.17L221.71 2099.21L222.7 2099.24L223.69 2099.27L224.68 2099.3L225.67 2099.33L226.66 2099.36L227.65 2099.39L228.64 2099.42L229.63 2099.45L230.61 2099.48L231.6 2099.5L232.59 2099.53L233.58 2099.55L234.57 2099.58L235.56 2099.6L236.55 2099.62L237.54 2099.65L238.53 2099.67L239.52 2099.69L240.51 2099.71L241.5 2099.73L242.49 2099.75L243.48 2099.77L244.47 2099.79L245.46 2099.8L246.45 2099.82L247.44 2099.84L248.43 2099.86L249.42 2099.87L250.41 2099.89L251.4 2099.9L252.39 2099.92L253.38 2099.93L254.37 2099.95L255.36 2099.96L256.35 2099.98L257.34 2099.99L258.33 2100L259.32 2100.02L260.31 2100.03L261.3 2100.04L262.29 2100.05L263.28 2100.06L264.27 2100.07L265.26 2100.09L266.25 2100.1L267.24 2100.11L268.23 2100.12L269.22 2100.13L270.21 2100.14L271.2 2100.14L272.19 2100.15L273.17 2100.16L274.16 2100.17L275.15 2100.18L276.14 2100.19L277.13 2100.2L278.12 2100.2L279.11 2100.21L280.1 2100.22L281.09 2100.23L282.08 2100.23L283.07 2100.24L284.06 2100.25L285.05 2100.25L286.04 2100.26L287.03 2100.27L288.02 2100.27L289.01 2100.28L290 2100.28L290.99 2100.29L291.98 2100.29L292.97 2100.3L293.96 2100.3L294.95 2100.31L295.94 2100.31L296.93 2100.32L297.92 2100.32L298.91 2100.33L299.9 2100.33L300.89 2100.34L301.88 2100.34L302.87 2100.34L303.86 2100.35L304.85 2100.35L305.84 2100.36L306.83 2100.36L307.82 2100.36L308.81 2100.37L309.8 2100.37L310.79 2100.37L311.78 2100.38L312.77 2100.38L313.76 2100.38L314.74 2100.39L315.73 2100.39L316.72 2100.39L317.71 2100.39L318.7 2100.4L319.69 2100.4L320.68 2100.4L321.67 2100.4L322.66 2100.41L323.65 2100.41L324.64 2100.41L325.63 2100.41L326.62 2100.42L327.61 2100.42L328.6 2100.42L329.59 2100.42L330.58 2100.42L331.57 2100.43L332.56 2100.43L333.55 2100.43L334.54 2100.43L335.53 2100.43L336.52 2100.44L337.51 2100.44L338.5 2100.44L339.49 2100.44L340.48 2100.44L341.47 2100.44L342.46 2100.44L343.45 2100.45L344.44 2100.45L345.43 2100.45L346.42 2100.45L347.41 2100.45L348.4 2100.45L349.39 2100.45L350.38 2100.46L351.37 2100.46L352.36 2100.46L353.35 2100.46L354.34 2100.46L355.33 2100.46L356.31 2100.46L357.3 2100.46L358.29 2100.46L359.28 2100.46L360.27 2100.47L361.26 2100.47L362.25 2100.47L363.24 2100.47L364.23 2100.47L365.22 2100.47L366.21 2100.47L367.2 2100.47L368.19 2100.47L369.18 2100.47L370.17 2100.47L371.16 2100.47L372.15 2100.47L373.14 2100.48L374.13 2100.48L375.12 2100.48L376.11 2100.48L377.1 2100.48L378.09 2100.48L379.08 2100.48L380.07 2100.48L381.06 2100.48L382.05 2100.48L383.04 2100.48L384.03 2100.48L385.02 2100.48L386.01 2100.48L387 2100.48L387.99 2100.48L388.98 2100.48L389.97 2100.48L390.96 2100.48L391.95 2100.48L392.94 2100.49L393.93 2100.49L394.92 2100.49L395.91 2100.49" stroke="#0000ff" stroke-dasharray="13 3.25 6.5 3.25"/>
<path d="M0 1844.11L0.99 1860.35L1.98 1875.57L2.97 1889.76L3.96 1902.93L4.95 1915.11L5.94 1926.33L6.93 1936.64L7.92 1946.1L8.91 1954.77L9.9 1962.7L10.89 1969.96L11.88 1976.61L12.87 1982.72L13.86 1988.33L14.85 1993.5L15.84 1998.26L16.83 2002.68L17.82 2006.77L18.81 2010.59L19.8 2014.15L20.79 2017.48L21.77 2020.61L22.76 2023.56L23.75 2026.34L24.74 2028.98L25.73 2031.48L26.72 2033.86L27.71 2036.13L28.7 2038.3L29.69 2040.37L30.68 2042.35L31.67 2044.26L32.66 2046.09L33.65 2047.85L34.64 2049.55L35.63 2051.19L36.62 2052.76L37.61 2054.29L38.6 2055.76L39.59 2057.18L40.58 2058.55L41.57 2059.88L42.56 2061.17L43.55 2062.42L44.54 2063.62L45.53 2064.79L46.52 2065.92L47.51 2067.02L48.5 2068.08L49.49 2069.11L50.48 2070.11L51.47 2071.07L52.46 2072.01L53.45 2072.92L54.44 2073.8L55.43 2074.65L56.42 2075.47L57.41 2076.28L58.4 2077.05L59.39 2077.8L60.38 2078.53L61.37 2079.24L62.36 2079.92L63.34 2080.59L64.33 2081.23L65.32 2081.85L66.31 2082.45L67.3 2083.04L68.29 2083.6L69.28 2084.15L70.27 2084.68L71.26 2085.2L72.25 2085.69L73.24 2086.18L74.23 2086.64L75.22 2087.1L76.21 2087.53L77.2 2087.96L78.19 2088.37L79.18 2088.77L80.17 2089.15L81.16 2089.52L82.15 2089.88L83.14 2090.23L84.13 2090.57L85.12 2090.9L86.11 2091.21L87.1 2091.52L88.09 2091.82L89.08 2092.1L90.07 2092.38L91.06 2092.65L92.05 2092.91L93.04 2093.16L94.03 2093.4L95.02 2093.64L96.01 2093.87L97 2094.09L97.99 2094.3L98.98 2094.51L99.97 2094.71L100.96 2094.9L101.95 2095.09L102.94 2095.27L103.93 2095.44L104.91 2095.61L105.9 2095.77L106.89 2095.93L107.88 2096.08L108.87 2096.23L109.86 2096.37L110.85 2096.51L111.84 2096.65L112.83 2096.77L113.82 2096.9L114.81 2097.02L115.8 2097.14L116.79 2097.25L117.78 2097.36L118.77 2097.46L119.76 2097.57L120.75 2097.66L121.74 2097.76L122.73 2097.85L123.72 2097.94L124.71 2098.03L125.7 2098.11L126.69 2098.19L127.68 2098.27L128.67 2098.34L129.66 2098.42L130.65 2098.49L131.64 2098.55L132.63 2098.62L133.62 2098.68L134.61 2098.75L135.6 2098.8L136.59 2098.86L137.58 2098.92L138.57 2098.97L139.56 2099.02L140.55 2099.07L141.54 2099.12L142.53 2099.17L143.52 2099.21L144.51 2099.26L145.5 2099.3L146.49 2099.34L147.47 2099.38L148.46 2099.42L149.45 2099.45L150.44 2099.49L151.43 2099.52L152.42 2099.56L153.41 2099.59L154.4 2099.62L155.39 2099.65L156.38 2099.68L157.37 2099.71L158.36 2099.73L159.35 2099.76L160.34 2099.78L161.33 2099.81L162.32 2099.83L163.31 2099.85L164.3 2099.88L165.29 2099.9L166.28 2099.92L167.27 2099.94L168.26 2099.96L169.25 2099.97L170.24 2099.99L171.23 2100.01L172.22 2100.03L173.21 2100.04L174.2 2100.06L175.19 2100.07L176.18 2100.09L177.17 2100.1L178.16 2100.12L179.15 2100.13L180.14 2100.14L181.13 2100.15L182.12 2100.17L183.11 2100.18L184.1 2100.19L185.09 2100.2L186.08 2100.21L187.07 2100.22L188.06 2100.23L189.04 2100.24L190.03 2100.25L191.02 2100.25L192.01 2100.26L193 2100.27L193.99 2100.28L194.98 2100.29L195.97 2100.29L196.96 2100.3L197.95 2100.31L198.94 2100.31L199.93 2100.32L200.92 2100.33L201.91 2100.33L202.9 2100.34L203.89 2100.34L204.88 2100.35L205.87 2100.35L206.86 2100.36L207.85 2100.36L208.84 2100.37L209.83 2100.37L210.82 2100.38L211.81 2100.38L212.8 2100.39L213.79 2100.39L214.78 2100.39L215.77 2100.4L216.76 2100.4L217.75 2100.4L218.74 2100.41L219.73 2100.41L220.72 2100.41L221.71 2100.42L222.7 2100.42L223.69 2100.42L224.68 2100.42L225.67 2100.43L226.66 2100.43L227.65 2100.43L228.64 2100.43L229.63 2100.44L230.61 2100.44L231.6 2100.44L232.59 2100.44L233.58 2100.45L234.57 2100.45L235.56 2100.45L236.55 2100.45L237.54 2100.45L238.53 2100.45L239.52 2100.46L240.51 2100.46L241.5 2100.46L242.49 2100.46L243.48 2100.46L244.47 2100.46L245.46 2100.46L246.45 2100.47L247.44 2100.47L248.43 2100.47L249.42 2100.47L250.41 2100.47L251.4 2100.47L252.39 2100.47L253.38 2100.47L254.37 2100.47L255.36 2100.47L256.35 2100.48L257.34 2100.48L258.33 2100.48L259.32 2100.48L260.31 2100.48L261.3 2100.48L262.29 2100.48L263.28 2100.48L264.27 2100.48L265.26 2100.48L266.25 2100.48L267.24 2100.48L268.23 2100.48L269.22 2100.48L270.21 2100.48L271.2 2100.49L272.19 2100.49L273.17 2100.49L274.16 2100.49L275.15 2100.49L276.14 2100.49L277.13 2100.49L278.12 2100.49L279.11 2100.49L280.1 2100.49L281.09 2100.49L282.08 2100.49L283.07 2100.49L284.06 2100.49L285.05 2100.49L286.04 2100.49L287.03 2100.49L288.02 2100.49L289.01 2100.49L290 2100.49L290.99 2100.49L291.98 2100.49L292.97 2100.49L293.96 2100.49L294.95 2100.49L295.94 2100.49L296.93 2100.49L297.92 2100.49L298.91 2100.49L299.9 2100.49L300.89 2100.49L301.88 2100.5L302.87 2100.5L303.86 2100.5L304.85 2100.5L305.84 2100.5L306.83 2100.5L307.82 2100.5L308.81 2100.5L309.8 2100.5L310.79 2100.5L311.78 2100.5L312.77 2100.5L313.76 2100.5L314.74 2100.5L315.73 2100.5L316.72 2100.5L317.71 2100.5L318.7 2100.5L319.69 2100.5L320.68 2100.5L321.67 2100.5L322.66 2100.5L323.65 2100.5L324.64 2100.5L325.63 2100.5L326.62 2100.5L327.61 2100.5L328.6 2100.5L329.59 2100.5L330.58 2100.5L331.57 2100.5L332.56 2100.5L333.55 2100.5L334.54 2100.5L335.53 2100.5L336.52 2100.5L337.51 2100.5L338.5 2100.5L339.49 2100.5L340.48 2100.5L341.47 2100.5L342.46 2100.5L343.45 2100.5L344.44 2100.5L345.43 2100.5L346.42 2100.5L347.41 2100.5L348.4 2100.5L349.39 2100.5L350.38 2100.5L351.37 2100.5L352.36 2100.5L353.35 2100.5L354.34 2100.5L355.33 2100.5L356.31 2100.5L357.3 2100.5L358.29 2100.5L359.28 2100.5L360.27 2100.5L361.26 2100.5L362.25 2100.5L363.24 2100.5L364.23 2100.5L365.22 2100.5L366.21 2100.5L367.2 2100.5L368.19 2100.5L369.18 2100.5L370.17 2100.5L371.16 2100.5L372.15 2100.5L373.14 2100.5L374.13 2100.5L375.12 2100.5L376.11 2100.5L377.1 2100.5L378.09 2100.5L379.08 2100.5L380.07 2100.5L381.06 2100.5L382.05 2100.5L383.04 2100.5L384.03 2100.5L385.02 2100.5L386.01 2100.5L387 2100.5L387.99 2100.5L388.98 2100.5L389.97 2100.5L390.96 2100.5L391.95 2100.5L392.94 2100.5L393.93 2100.5L394.92 2100.5L395.91 2100.5" stroke="#00ffff"/>
</g>
<g font-family='"Liberation Serif", serif' font-weight="bold" font-style="italic" fill="#222222" font-size="35">
<text x="-10.79" y="2114.03" text-anchor="end">0</text>
<text x="-11.5" y="2010.16" text-anchor="end">2</text>
<text x="-11.5" y="1907.2" text-anchor="end">4</text>
<text x="-11.5" y="1804.23" text-anchor="end">6</text>
<text x="-11.5" y="1701.26" text-anchor="end">8</text>
<text x="-11.5" y="1598.3" text-anchor="end">10</text>
<text x="-11.5" y="1495.33" text-anchor="end">12</text>
<text x="0" y="2145.13" text-anchor="middle">0</text>
<text x="131.97" y="2145.13" text-anchor="middle">2</text>
<text x="263.94" y="2145.13" text-anchor="middle">4</text>
<text x="395.91" y="2145.13" text-anchor="middle">6</text>
<text x="206.38" y="2186" text-anchor="middle" font-size="33.4">η</text>
</g>
<text transform="translate(-67.72,1788.6) rotate(-90)" text-anchor="middle" font-family='"Liberation Serif", serif' font-style="italic" font-weight="normal" font-size="34.3" fill="#222222" stroke="#222222" stroke-width="0.7" letter-spacing="0.95" y="8.23">Ns(η)</text>
<rect x="195.12" y="1503.3" width="180.31" height="155" fill="#fff" stroke="#1e1e1e" stroke-width="1.5"/>
<path d="M208.19 1525.8H269.94" stroke="#ff0000" stroke-width="4.23" fill="none" stroke-dasharray="3.25 3.25"/>
<text x="279.21" y="1537.69" font-family='"Liberation Serif", serif' font-weight="bold" font-style="italic" font-size="30.5" fill="#000" xml:space="preserve" textLength="89.99" lengthAdjust="spacingAndGlyphs">n = 0.1</text>
<path d="M208.19 1562.4H275.12" stroke="#00ff00" stroke-width="4.7" fill="none" stroke-dasharray="13 13"/>
<text x="279.21" y="1574.3" font-family='"Liberation Serif", serif' font-weight="bold" font-style="italic" font-size="30.5" fill="#000" xml:space="preserve" textLength="89.99" lengthAdjust="spacingAndGlyphs">n = 0.2</text>
<path d="M208.19 1599.2H275.12" stroke="#0000ff" stroke-width="4.7" fill="none" stroke-dasharray="13 3.25 6.5 3.25"/>
<text x="279.21" y="1611.1" font-family='"Liberation Serif", serif' font-weight="bold" font-style="italic" font-size="30.5" fill="#000" xml:space="preserve" textLength="89.99" lengthAdjust="spacingAndGlyphs">n = 0.3</text>
<path d="M208.19 1636.2H275.12" stroke="#00ffff" stroke-width="4.7" fill="none"/>
<text x="279.21" y="1648.1" font-family='"Liberation Serif", serif' font-weight="bold" font-style="italic" font-size="30.5" fill="#000" xml:space="preserve" textLength="89.99" lengthAdjust="spacingAndGlyphs">n = 0.4</text>
</g>
<line x1="231.3" y1="1989.9" x2="154.48" y2="2072.87" stroke="#000" stroke-width="2.3"/><polygon points="140.1,2088.4 152.1,2059.99 154.48,2072.87 167.51,2074.25" fill="#000"/>
<text x="-4" y="1479.3" font-family='"Liberation Sans", sans-serif' font-weight="bold" font-size="42.5" fill="#000">E</text>
<!-- panel F -->
<g transform="translate(802.1,0) scale(1.0,1)">
<path d="M166.77 1481.3V2092.6M333.53 1481.3V2092.6M0 1980.49H500.3M0 1868.37H500.3M0 1756.26H500.3M0 1644.15H500.3M0 1532.03H500.3" stroke="#d2d2d2" stroke-width="1.1" fill="none"/>
<rect x="0" y="1481.3" width="500.3" height="611.3" fill="none" stroke="#1e1e1e" stroke-width="2.4"/>
<path d="M166.77 2092.6v-5.7M166.77 1481.3v5.7M333.53 2092.6v-5.7M333.53 1481.3v5.7M0 1980.49h5.7M500.3 1980.49h-5.7M0 1868.37h5.7M500.3 1868.37h-5.7M0 1756.26h5.7M500.3 1756.26h-5.7M0 1644.15h5.7M500.3 1644.15h-5.7M0 1532.03h5.7M500.3 1532.03h-5.7" stroke="#1e1e1e" stroke-width="1.5" fill="none"/>
<clipPath id="clipF"><rect x="-2.2" y="1479.3" width="504.7" height="615.5"/></clipPath>
<g clip-path="url(#clipF)" fill="none" stroke-width="5.1">
<path d="M0 2024.89L1.25 2022.8L2.5 2020.69L3.75 2018.55L5 2016.4L6.25 2014.22L7.5 2012.01L8.76 2009.78L10.01 2007.51L11.26 2005.22L12.51 2002.9L13.76 2000.55L15.01 1998.16L16.26 1995.73L17.51 1993.28L18.76 1990.78L20.01 1988.24L21.26 1985.67L22.51 1983.05L23.76 1980.39L25.01 1977.69L26.27 1974.95L27.52 1972.15L28.77 1969.31L30.02 1966.42L31.27 1963.48L32.52 1960.49L33.77 1957.45L35.02 1954.35L36.27 1951.2L37.52 1947.99L38.77 1944.72L40.02 1941.4L41.27 1938.01L42.53 1934.56L43.78 1931.05L45.03 1927.48L46.28 1923.84L47.53 1920.13L48.78 1916.37L50.03 1912.54L51.28 1908.65L52.53 1904.71L53.78 1900.7L55.03 1896.64L56.28 1892.53L57.53 1888.37L58.79 1884.15L60.04 1879.88L61.29 1875.57L62.54 1871.2L63.79 1866.8L65.04 1862.34L66.29 1857.85L67.54 1853.31L68.79 1848.73L70.04 1844.12L71.29 1839.47L72.54 1834.78L73.79 1830.05L75.04 1825.3L76.3 1820.51L77.55 1815.69L78.8 1810.85L80.05 1805.98L81.3 1801.08L82.55 1796.15L83.8 1791.21L85.05 1786.24L86.3 1781.25L87.55 1776.25L88.8 1771.22L90.05 1766.18L91.3 1761.13L92.56 1756.06L93.81 1750.98L95.06 1745.9L96.31 1740.81L97.56 1735.71L98.81 1730.62L100.06 1725.54L101.31 1720.46L102.56 1715.4L103.81 1710.35L105.06 1705.33L106.31 1700.32L107.56 1695.34L108.82 1690.39L110.07 1685.47L111.32 1680.59L112.57 1675.75L113.82 1670.96L115.07 1666.21L116.32 1661.51L117.57 1656.86L118.82 1652.27L120.07 1647.74L121.32 1643.28L122.57 1638.88L123.82 1634.56L125.08 1630.3L126.33 1626.13L127.58 1622.03L128.83 1618.03L130.08 1614.1L131.33 1610.28L132.58 1606.54L133.83 1602.9L135.08 1599.37L136.33 1595.94L137.58 1592.62L138.83 1589.41L140.08 1586.32L141.33 1583.34L142.59 1580.49L143.84 1577.76L145.09 1575.17L146.34 1572.7L147.59 1570.37L148.84 1568.18L150.09 1566.14L151.34 1564.24L152.59 1562.49L153.84 1560.88L155.09 1559.4L156.34 1558.04L157.59 1556.76L158.85 1555.55L160.1 1554.39L161.35 1553.26L162.6 1552.14L163.85 1551.02L165.1 1549.87L166.35 1548.67L167.6 1547.41L168.85 1546.09L170.1 1544.72L171.35 1543.32L172.6 1541.91L173.85 1540.5L175.11 1539.1L176.36 1537.74L177.61 1536.43L178.86 1535.18L180.11 1534.01L181.36 1532.93L182.61 1531.97L183.86 1531.11L185.11 1530.35L186.36 1529.68L187.61 1529.1L188.86 1528.59L190.11 1528.15L191.36 1527.76L192.62 1527.43L193.87 1527.14L195.12 1526.89L196.37 1526.67L197.62 1526.46L198.87 1526.28L200.12 1526.11L201.37 1525.97L202.62 1525.84L203.87 1525.73L205.12 1525.64L206.37 1525.56L207.62 1525.5L208.88 1525.45L210.13 1525.41L211.38 1525.38L212.63 1525.37L213.88 1525.37L215.13 1525.38L216.38 1525.39L217.63 1525.42L218.88 1525.45L220.13 1525.5L221.38 1525.55L222.63 1525.61L223.88 1525.68L225.14 1525.75L226.39 1525.84L227.64 1525.93L228.89 1526.02L230.14 1526.12L231.39 1526.23L232.64 1526.35L233.89 1526.47L235.14 1526.59L236.39 1526.72L237.64 1526.86L238.89 1527L240.14 1527.14L241.39 1527.29L242.65 1527.44L243.9 1527.59L245.15 1527.74L246.4 1527.9L247.65 1528.06L248.9 1528.23L250.15 1528.39L251.4 1528.56L252.65 1528.72L253.9 1528.89L255.15 1529.06L256.4 1529.22L257.65 1529.39L258.91 1529.56L260.16 1529.73L261.41 1529.89L262.66 1530.06L263.91 1530.22L265.16 1530.38L266.41 1530.54L267.66 1530.69L268.91 1530.85L270.16 1531L271.41 1531.14L272.66 1531.29L273.91 1531.43L275.17 1531.56L276.42 1531.69L277.67 1531.82L278.92 1531.94L280.17 1532.06L281.42 1532.17L282.67 1532.28L283.92 1532.38L285.17 1532.48L286.42 1532.58L287.67 1532.67L288.92 1532.76L290.17 1532.85L291.42 1532.93L292.68 1533L293.93 1533.08L295.18 1533.15L296.43 1533.21L297.68 1533.28L298.93 1533.34L300.18 1533.39L301.43 1533.44L302.68 1533.49L303.93 1533.54L305.18 1533.58L306.43 1533.62L307.68 1533.66L308.94 1533.69L310.19 1533.73L311.44 1533.75L312.69 1533.78L313.94 1533.8L315.19 1533.82L316.44 1533.84L317.69 1533.86L318.94 1533.87L320.19 1533.88L321.44 1533.89L322.69 1533.9L323.94 1533.9L325.2 1533.9L326.45 1533.9L327.7 1533.9L328.95 1533.9L330.2 1533.89L331.45 1533.88L332.7 1533.87L333.95 1533.86L335.2 1533.85L336.45 1533.84L337.7 1533.82L338.95 1533.8L340.2 1533.79L341.45 1533.77L342.71 1533.74L343.96 1533.72L345.21 1533.7L346.46 1533.68L347.71 1533.65L348.96 1533.62L350.21 1533.6L351.46 1533.57L352.71 1533.54L353.96 1533.51L355.21 1533.48L356.46 1533.45L357.71 1533.42L358.97 1533.39L360.22 1533.36L361.47 1533.33L362.72 1533.29L363.97 1533.26L365.22 1533.23L366.47 1533.2L367.72 1533.16L368.97 1533.13L370.22 1533.1L371.47 1533.07L372.72 1533.04L373.97 1533.01L375.23 1532.97L376.48 1532.94L377.73 1532.91L378.98 1532.88L380.23 1532.86L381.48 1532.83L382.73 1532.8L383.98 1532.77L385.23 1532.75L386.48 1532.72L387.73 1532.7L388.98 1532.68L390.23 1532.66L391.48 1532.64L392.74 1532.62L393.99 1532.6L395.24 1532.58L396.49 1532.57L397.74 1532.56L398.99 1532.55L400.24 1532.54L401.49 1532.53L402.74 1532.52L403.99 1532.52L405.24 1532.51L406.49 1532.51L407.74 1532.52L409 1532.52L410.25 1532.52L411.5 1532.53L412.75 1532.54L414 1532.55L415.25 1532.57L416.5 1532.59L417.75 1532.61L419 1532.63L420.25 1532.65L421.5 1532.68L422.75 1532.71L424 1532.74L425.25 1532.77L426.51 1532.8L427.76 1532.84L429.01 1532.88L430.26 1532.91L431.51 1532.95L432.76 1532.99L434.01 1533.03L435.26 1533.07L436.51 1533.11L437.76 1533.15L439.01 1533.19L440.26 1533.23L441.51 1533.27L442.77 1533.31L444.02 1533.34L445.27 1533.38L446.52 1533.42L447.77 1533.45L449.02 1533.48L450.27 1533.52L451.52 1533.55L452.77 1533.58L454.02 1533.6L455.27 1533.63L456.52 1533.65L457.77 1533.67L459.03 1533.68L460.28 1533.7L461.53 1533.71L462.78 1533.72L464.03 1533.72L465.28 1533.73L466.53 1533.72L467.78 1533.72L469.03 1533.71L470.28 1533.69L471.53 1533.68L472.78 1533.65L474.03 1533.63L475.29 1533.6L476.54 1533.56L477.79 1533.52L479.04 1533.47L480.29 1533.42L481.54 1533.37L482.79 1533.3L484.04 1533.23L485.29 1533.16L486.54 1533.08L487.79 1532.99L489.04 1532.9L490.29 1532.8L491.54 1532.7L492.8 1532.58L494.05 1532.46L495.3 1532.34L496.55 1532.2L497.8 1532.06L499.05 1531.91L500.3 1531.75" stroke="#ff0000" stroke-dasharray="3.55 3.55" stroke-width="4.59"/>
<path d="M0 2015.74L1.25 2013.68L2.5 2011.58L3.75 2009.43L5 2007.24L6.25 2005L7.5 2002.72L8.76 2000.39L10.01 1998.01L11.26 1995.59L12.51 1993.12L13.76 1990.6L15.01 1988.02L16.26 1985.4L17.51 1982.73L18.76 1980L20.01 1977.23L21.26 1974.4L22.51 1971.52L23.76 1968.58L25.01 1965.59L26.27 1962.54L27.52 1959.43L28.77 1956.27L30.02 1953.05L31.27 1949.78L32.52 1946.44L33.77 1943.05L35.02 1939.6L36.27 1936.08L37.52 1932.5L38.77 1928.87L40.02 1925.17L41.27 1921.4L42.53 1917.58L43.78 1913.69L45.03 1909.75L46.28 1905.76L47.53 1901.7L48.78 1897.6L50.03 1893.44L51.28 1889.24L52.53 1884.98L53.78 1880.68L55.03 1876.33L56.28 1871.95L57.53 1867.52L58.79 1863.05L60.04 1858.54L61.29 1853.99L62.54 1849.41L63.79 1844.8L65.04 1840.15L66.29 1835.48L67.54 1830.77L68.79 1826.04L70.04 1821.29L71.29 1816.51L72.54 1811.71L73.79 1806.88L75.04 1802.04L76.3 1797.19L77.55 1792.31L78.8 1787.43L80.05 1782.53L81.3 1777.62L82.55 1772.7L83.8 1767.77L85.05 1762.84L86.3 1757.9L87.55 1752.97L88.8 1748.03L90.05 1743.09L91.3 1738.16L92.56 1733.23L93.81 1728.31L95.06 1723.41L96.31 1718.52L97.56 1713.64L98.81 1708.79L100.06 1703.95L101.31 1699.14L102.56 1694.36L103.81 1689.6L105.06 1684.87L106.31 1680.18L107.56 1675.52L108.82 1670.91L110.07 1666.33L111.32 1661.79L112.57 1657.3L113.82 1652.86L115.07 1648.47L116.32 1644.13L117.57 1639.85L118.82 1635.63L120.07 1631.46L121.32 1627.36L122.57 1623.32L123.82 1619.35L125.08 1615.45L126.33 1611.62L127.58 1607.86L128.83 1604.19L130.08 1600.59L131.33 1597.07L132.58 1593.64L133.83 1590.3L135.08 1587.04L136.33 1583.87L137.58 1580.8L138.83 1577.83L140.08 1574.95L141.33 1572.18L142.59 1569.5L143.84 1566.92L145.09 1564.44L146.34 1562.05L147.59 1559.75L148.84 1557.55L150.09 1555.42L151.34 1553.39L152.59 1551.44L153.84 1549.57L155.09 1547.78L156.34 1546.07L157.59 1544.43L158.85 1542.87L160.1 1541.38L161.35 1539.96L162.6 1538.61L163.85 1537.32L165.1 1536.1L166.35 1534.94L167.6 1533.84L168.85 1532.8L170.1 1531.82L171.35 1530.89L172.6 1530.01L173.85 1529.19L175.11 1528.42L176.36 1527.69L177.61 1527.01L178.86 1526.38L180.11 1525.8L181.36 1525.25L182.61 1524.75L183.86 1524.29L185.11 1523.87L186.36 1523.49L187.61 1523.15L188.86 1522.83L190.11 1522.56L191.36 1522.31L192.62 1522.1L193.87 1521.91L195.12 1521.76L196.37 1521.63L197.62 1521.52L198.87 1521.44L200.12 1521.38L201.37 1521.35L202.62 1521.33L203.87 1521.33L205.12 1521.35L206.37 1521.39L207.62 1521.45L208.88 1521.52L210.13 1521.61L211.38 1521.71L212.63 1521.82L213.88 1521.95L215.13 1522.09L216.38 1522.24L217.63 1522.41L218.88 1522.58L220.13 1522.76L221.38 1522.95L222.63 1523.15L223.88 1523.35L225.14 1523.56L226.39 1523.78L227.64 1524L228.89 1524.23L230.14 1524.45L231.39 1524.68L232.64 1524.91L233.89 1525.14L235.14 1525.38L236.39 1525.61L237.64 1525.84L238.89 1526.06L240.14 1526.29L241.39 1526.51L242.65 1526.73L243.9 1526.94L245.15 1527.16L246.4 1527.37L247.65 1527.58L248.9 1527.78L250.15 1527.98L251.4 1528.19L252.65 1528.38L253.9 1528.58L255.15 1528.77L256.4 1528.96L257.65 1529.14L258.91 1529.33L260.16 1529.51L261.41 1529.68L262.66 1529.86L263.91 1530.03L265.16 1530.19L266.41 1530.36L267.66 1530.52L268.91 1530.67L270.16 1530.83L271.41 1530.98L272.66 1531.13L273.91 1531.27L275.17 1531.41L276.42 1531.55L277.67 1531.68L278.92 1531.81L280.17 1531.94L281.42 1532.06L282.67 1532.18L283.92 1532.3L285.17 1532.41L286.42 1532.52L287.67 1532.63L288.92 1532.73L290.17 1532.83L291.42 1532.93L292.68 1533.02L293.93 1533.11L295.18 1533.2L296.43 1533.29L297.68 1533.37L298.93 1533.45L300.18 1533.52L301.43 1533.6L302.68 1533.67L303.93 1533.74L305.18 1533.8L306.43 1533.86L307.68 1533.92L308.94 1533.98L310.19 1534.04L311.44 1534.09L312.69 1534.14L313.94 1534.18L315.19 1534.23L316.44 1534.27L317.69 1534.31L318.94 1534.35L320.19 1534.38L321.44 1534.42L322.69 1534.45L323.94 1534.47L325.2 1534.5L326.45 1534.52L327.7 1534.54L328.95 1534.56L330.2 1534.58L331.45 1534.6L332.7 1534.61L333.95 1534.62L335.2 1534.63L336.45 1534.64L337.7 1534.64L338.95 1534.64L340.2 1534.65L341.45 1534.65L342.71 1534.64L343.96 1534.64L345.21 1534.63L346.46 1534.63L347.71 1534.62L348.96 1534.61L350.21 1534.6L351.46 1534.58L352.71 1534.57L353.96 1534.55L355.21 1534.53L356.46 1534.51L357.71 1534.49L358.97 1534.47L360.22 1534.45L361.47 1534.42L362.72 1534.4L363.97 1534.37L365.22 1534.34L366.47 1534.31L367.72 1534.28L368.97 1534.25L370.22 1534.22L371.47 1534.19L372.72 1534.15L373.97 1534.12L375.23 1534.08L376.48 1534.04L377.73 1534L378.98 1533.96L380.23 1533.92L381.48 1533.88L382.73 1533.84L383.98 1533.8L385.23 1533.76L386.48 1533.72L387.73 1533.67L388.98 1533.63L390.23 1533.58L391.48 1533.54L392.74 1533.49L393.99 1533.45L395.24 1533.4L396.49 1533.35L397.74 1533.31L398.99 1533.26L400.24 1533.21L401.49 1533.16L402.74 1533.11L403.99 1533.07L405.24 1533.02L406.49 1532.97L407.74 1532.92L409 1532.87L410.25 1532.82L411.5 1532.77L412.75 1532.73L414 1532.68L415.25 1532.63L416.5 1532.58L417.75 1532.53L419 1532.49L420.25 1532.44L421.5 1532.39L422.75 1532.34L424 1532.3L425.25 1532.25L426.51 1532.21L427.76 1532.16L429.01 1532.12L430.26 1532.07L431.51 1532.03L432.76 1531.99L434.01 1531.95L435.26 1531.9L436.51 1531.86L437.76 1531.82L439.01 1531.78L440.26 1531.74L441.51 1531.71L442.77 1531.67L444.02 1531.63L445.27 1531.6L446.52 1531.57L447.77 1531.53L449.02 1531.5L450.27 1531.47L451.52 1531.44L452.77 1531.41L454.02 1531.38L455.27 1531.36L456.52 1531.33L457.77 1531.31L459.03 1531.28L460.28 1531.26L461.53 1531.24L462.78 1531.23L464.03 1531.21L465.28 1531.19L466.53 1531.18L467.78 1531.17L469.03 1531.15L470.28 1531.14L471.53 1531.14L472.78 1531.13L474.03 1531.13L475.29 1531.12L476.54 1531.12L477.79 1531.12L479.04 1531.12L480.29 1531.13L481.54 1531.14L482.79 1531.14L484.04 1531.15L485.29 1531.17L486.54 1531.18L487.79 1531.2L489.04 1531.21L490.29 1531.23L491.54 1531.26L492.8 1531.28L494.05 1531.31L495.3 1531.34L496.55 1531.37L497.8 1531.4L499.05 1531.44L500.3 1531.48" stroke="#0000ff" stroke-dasharray="14.2 3.55 7.1 3.55"/>
<path d="M0 2006.78L1.25 2004.71L2.5 2002.55L3.75 2000.31L5 1997.99L6.25 1995.59L7.5 1993.12L8.76 1990.56L10.01 1987.93L11.26 1985.23L12.51 1982.45L13.76 1979.6L15.01 1976.68L16.26 1973.69L17.51 1970.63L18.76 1967.5L20.01 1964.31L21.26 1961.05L22.51 1957.73L23.76 1954.34L25.01 1950.89L26.27 1947.38L27.52 1943.81L28.77 1940.18L30.02 1936.49L31.27 1932.75L32.52 1928.95L33.77 1925.09L35.02 1921.19L36.27 1917.23L37.52 1913.22L38.77 1909.16L40.02 1905.05L41.27 1900.9L42.53 1896.7L43.78 1892.45L45.03 1888.16L46.28 1883.82L47.53 1879.45L48.78 1875.03L50.03 1870.57L51.28 1866.08L52.53 1861.55L53.78 1856.98L55.03 1852.38L56.28 1847.74L57.53 1843.07L58.79 1838.37L60.04 1833.63L61.29 1828.87L62.54 1824.08L63.79 1819.26L65.04 1814.42L66.29 1809.55L67.54 1804.66L68.79 1799.75L70.04 1794.81L71.29 1789.85L72.54 1784.88L73.79 1779.88L75.04 1774.87L76.3 1769.84L77.55 1764.8L78.8 1759.75L80.05 1754.68L81.3 1749.6L82.55 1744.51L83.8 1739.42L85.05 1734.32L86.3 1729.23L87.55 1724.14L88.8 1719.06L90.05 1713.99L91.3 1708.93L92.56 1703.89L93.81 1698.87L95.06 1693.88L96.31 1688.92L97.56 1683.99L98.81 1679.09L100.06 1674.23L101.31 1669.41L102.56 1664.63L103.81 1659.91L105.06 1655.23L106.31 1650.61L107.56 1646.05L108.82 1641.55L110.07 1637.11L111.32 1632.74L112.57 1628.43L113.82 1624.19L115.07 1620.01L116.32 1615.9L117.57 1611.87L118.82 1607.9L120.07 1604.01L121.32 1600.2L122.57 1596.46L123.82 1592.8L125.08 1589.21L126.33 1585.71L127.58 1582.29L128.83 1578.95L130.08 1575.69L131.33 1572.52L132.58 1569.44L133.83 1566.44L135.08 1563.54L136.33 1560.72L137.58 1558L138.83 1555.38L140.08 1552.84L141.33 1550.41L142.59 1548.06L143.84 1545.81L145.09 1543.66L146.34 1541.59L147.59 1539.6L148.84 1537.71L150.09 1535.9L151.34 1534.17L152.59 1532.52L153.84 1530.94L155.09 1529.45L156.34 1528.03L157.59 1526.68L158.85 1525.4L160.1 1524.2L161.35 1523.06L162.6 1521.98L163.85 1520.97L165.1 1520.02L166.35 1519.14L167.6 1518.31L168.85 1517.53L170.1 1516.82L171.35 1516.16L172.6 1515.55L173.85 1514.99L175.11 1514.48L176.36 1514.02L177.61 1513.61L178.86 1513.25L180.11 1512.93L181.36 1512.65L182.61 1512.42L183.86 1512.23L185.11 1512.07L186.36 1511.96L187.61 1511.88L188.86 1511.84L190.11 1511.84L191.36 1511.86L192.62 1511.92L193.87 1512.01L195.12 1512.13L196.37 1512.27L197.62 1512.45L198.87 1512.64L200.12 1512.87L201.37 1513.11L202.62 1513.37L203.87 1513.66L205.12 1513.96L206.37 1514.28L207.62 1514.62L208.88 1514.97L210.13 1515.34L211.38 1515.71L212.63 1516.1L213.88 1516.5L215.13 1516.9L216.38 1517.31L217.63 1517.73L218.88 1518.15L220.13 1518.57L221.38 1518.99L222.63 1519.42L223.88 1519.84L225.14 1520.26L226.39 1520.68L227.64 1521.09L228.89 1521.5L230.14 1521.9L231.39 1522.3L232.64 1522.7L233.89 1523.09L235.14 1523.48L236.39 1523.86L237.64 1524.24L238.89 1524.62L240.14 1524.99L241.39 1525.36L242.65 1525.72L243.9 1526.08L245.15 1526.43L246.4 1526.78L247.65 1527.12L248.9 1527.46L250.15 1527.8L251.4 1528.13L252.65 1528.45L253.9 1528.78L255.15 1529.09L256.4 1529.4L257.65 1529.71L258.91 1530.01L260.16 1530.31L261.41 1530.6L262.66 1530.89L263.91 1531.18L265.16 1531.45L266.41 1531.73L267.66 1532L268.91 1532.26L270.16 1532.52L271.41 1532.77L272.66 1533.02L273.91 1533.26L275.17 1533.5L276.42 1533.73L277.67 1533.96L278.92 1534.18L280.17 1534.39L281.42 1534.61L282.67 1534.81L283.92 1535.01L285.17 1535.21L286.42 1535.4L287.67 1535.58L288.92 1535.76L290.17 1535.93L291.42 1536.1L292.68 1536.26L293.93 1536.41L295.18 1536.56L296.43 1536.71L297.68 1536.85L298.93 1536.98L300.18 1537.11L301.43 1537.23L302.68 1537.34L303.93 1537.45L305.18 1537.56L306.43 1537.66L307.68 1537.75L308.94 1537.84L310.19 1537.92L311.44 1538L312.69 1538.07L313.94 1538.13L315.19 1538.2L316.44 1538.25L317.69 1538.3L318.94 1538.35L320.19 1538.39L321.44 1538.43L322.69 1538.46L323.94 1538.49L325.2 1538.51L326.45 1538.53L327.7 1538.55L328.95 1538.56L330.2 1538.57L331.45 1538.57L332.7 1538.57L333.95 1538.56L335.2 1538.55L336.45 1538.54L337.7 1538.52L338.95 1538.5L340.2 1538.48L341.45 1538.45L342.71 1538.42L343.96 1538.38L345.21 1538.34L346.46 1538.3L347.71 1538.26L348.96 1538.21L350.21 1538.16L351.46 1538.1L352.71 1538.05L353.96 1537.99L355.21 1537.92L356.46 1537.86L357.71 1537.79L358.97 1537.72L360.22 1537.65L361.47 1537.57L362.72 1537.5L363.97 1537.42L365.22 1537.34L366.47 1537.25L367.72 1537.17L368.97 1537.08L370.22 1536.99L371.47 1536.9L372.72 1536.8L373.97 1536.71L375.23 1536.61L376.48 1536.51L377.73 1536.41L378.98 1536.31L380.23 1536.21L381.48 1536.11L382.73 1536L383.98 1535.9L385.23 1535.79L386.48 1535.68L387.73 1535.57L388.98 1535.46L390.23 1535.35L391.48 1535.24L392.74 1535.13L393.99 1535.02L395.24 1534.9L396.49 1534.79L397.74 1534.68L398.99 1534.56L400.24 1534.45L401.49 1534.34L402.74 1534.22L403.99 1534.11L405.24 1534L406.49 1533.88L407.74 1533.77L409 1533.66L410.25 1533.54L411.5 1533.43L412.75 1533.32L414 1533.21L415.25 1533.1L416.5 1532.99L417.75 1532.88L419 1532.77L420.25 1532.67L421.5 1532.56L422.75 1532.46L424 1532.36L425.25 1532.25L426.51 1532.15L427.76 1532.05L429.01 1531.96L430.26 1531.86L431.51 1531.77L432.76 1531.67L434.01 1531.58L435.26 1531.49L436.51 1531.41L437.76 1531.32L439.01 1531.24L440.26 1531.16L441.51 1531.08L442.77 1531L444.02 1530.93L445.27 1530.86L446.52 1530.79L447.77 1530.72L449.02 1530.66L450.27 1530.59L451.52 1530.54L452.77 1530.48L454.02 1530.43L455.27 1530.38L456.52 1530.33L457.77 1530.29L459.03 1530.25L460.28 1530.21L461.53 1530.18L462.78 1530.15L464.03 1530.12L465.28 1530.1L466.53 1530.08L467.78 1530.06L469.03 1530.05L470.28 1530.04L471.53 1530.04L472.78 1530.04L474.03 1530.04L475.29 1530.05L476.54 1530.06L477.79 1530.08L479.04 1530.1L480.29 1530.12L481.54 1530.15L482.79 1530.19L484.04 1530.23L485.29 1530.27L486.54 1530.32L487.79 1530.37L489.04 1530.43L490.29 1530.5L491.54 1530.56L492.8 1530.64L494.05 1530.72L495.3 1530.8L496.55 1530.89L497.8 1530.99L499.05 1531.09L500.3 1531.19" stroke="#00ff00" stroke-dasharray="14.2 14.2"/>
<path d="M0 1987.97L1.25 1983.96L2.5 1980.03L3.75 1976.16L5 1972.36L6.25 1968.61L7.5 1964.9L8.76 1961.24L10.01 1957.62L11.26 1954.03L12.51 1950.47L13.76 1946.93L15.01 1943.4L16.26 1939.88L17.51 1936.37L18.76 1932.85L20.01 1929.33L21.26 1925.79L22.51 1922.23L23.76 1918.65L25.01 1915.04L26.27 1911.39L27.52 1907.7L28.77 1903.96L30.02 1900.17L31.27 1896.32L32.52 1892.4L33.77 1888.42L35.02 1884.36L36.27 1880.22L37.52 1875.99L38.77 1871.66L40.02 1867.24L41.27 1862.72L42.53 1858.09L43.78 1853.38L45.03 1848.57L46.28 1843.68L47.53 1838.7L48.78 1833.65L50.03 1828.53L51.28 1823.33L52.53 1818.07L53.78 1812.74L55.03 1807.36L56.28 1801.93L57.53 1796.44L58.79 1790.92L60.04 1785.35L61.29 1779.74L62.54 1774.1L63.79 1768.43L65.04 1762.74L66.29 1757.02L67.54 1751.29L68.79 1745.55L70.04 1739.79L71.29 1734.04L72.54 1728.28L73.79 1722.53L75.04 1716.78L76.3 1711.05L77.55 1705.33L78.8 1699.64L80.05 1693.96L81.3 1688.32L82.55 1682.71L83.8 1677.13L85.05 1671.6L86.3 1666.11L87.55 1660.67L88.8 1655.28L90.05 1649.95L91.3 1644.68L92.56 1639.47L93.81 1634.33L95.06 1629.27L96.31 1624.28L97.56 1619.37L98.81 1614.54L100.06 1609.8L101.31 1605.14L102.56 1600.58L103.81 1596.12L105.06 1591.75L106.31 1587.49L107.56 1583.33L108.82 1579.28L110.07 1575.35L111.32 1571.52L112.57 1567.8L113.82 1564.18L115.07 1560.67L116.32 1557.26L117.57 1553.95L118.82 1550.74L120.07 1547.62L121.32 1544.6L122.57 1541.66L123.82 1538.82L125.08 1536.07L126.33 1533.4L127.58 1530.81L128.83 1528.31L130.08 1525.88L131.33 1523.54L132.58 1521.27L133.83 1519.08L135.08 1516.97L136.33 1514.94L137.58 1512.98L138.83 1511.1L140.08 1509.3L141.33 1507.57L142.59 1505.91L143.84 1504.33L145.09 1502.82L146.34 1501.39L147.59 1500.02L148.84 1498.73L150.09 1497.52L151.34 1496.37L152.59 1495.29L153.84 1494.29L155.09 1493.35L156.34 1492.48L157.59 1491.68L158.85 1490.95L160.1 1490.29L161.35 1489.7L162.6 1489.17L163.85 1488.71L165.1 1488.31L166.35 1487.98L167.6 1487.71L168.85 1487.51L170.1 1487.37L171.35 1487.29L172.6 1487.28L173.85 1487.32L175.11 1487.42L176.36 1487.57L177.61 1487.78L178.86 1488.02L180.11 1488.32L181.36 1488.66L182.61 1489.03L183.86 1489.45L185.11 1489.9L186.36 1490.38L187.61 1490.89L188.86 1491.42L190.11 1491.98L191.36 1492.56L192.62 1493.17L193.87 1493.78L195.12 1494.41L196.37 1495.06L197.62 1495.71L198.87 1496.37L200.12 1497.03L201.37 1497.71L202.62 1498.39L203.87 1499.08L205.12 1499.77L206.37 1500.47L207.62 1501.17L208.88 1501.87L210.13 1502.58L211.38 1503.29L212.63 1504L213.88 1504.71L215.13 1505.42L216.38 1506.13L217.63 1506.84L218.88 1507.55L220.13 1508.26L221.38 1508.96L222.63 1509.66L223.88 1510.36L225.14 1511.05L226.39 1511.73L227.64 1512.41L228.89 1513.08L230.14 1513.75L231.39 1514.4L232.64 1515.05L233.89 1515.69L235.14 1516.32L236.39 1516.94L237.64 1517.55L238.89 1518.15L240.14 1518.74L241.39 1519.32L242.65 1519.89L243.9 1520.45L245.15 1521L246.4 1521.55L247.65 1522.08L248.9 1522.6L250.15 1523.12L251.4 1523.62L252.65 1524.12L253.9 1524.6L255.15 1525.08L256.4 1525.55L257.65 1526.01L258.91 1526.46L260.16 1526.9L261.41 1527.33L262.66 1527.75L263.91 1528.16L265.16 1528.57L266.41 1528.96L267.66 1529.35L268.91 1529.73L270.16 1530.09L271.41 1530.45L272.66 1530.81L273.91 1531.15L275.17 1531.48L276.42 1531.81L277.67 1532.12L278.92 1532.43L280.17 1532.73L281.42 1533.02L282.67 1533.3L283.92 1533.57L285.17 1533.84L286.42 1534.09L287.67 1534.34L288.92 1534.58L290.17 1534.81L291.42 1535.04L292.68 1535.25L293.93 1535.46L295.18 1535.65L296.43 1535.84L297.68 1536.03L298.93 1536.2L300.18 1536.36L301.43 1536.52L302.68 1536.67L303.93 1536.81L305.18 1536.95L306.43 1537.07L307.68 1537.19L308.94 1537.3L310.19 1537.4L311.44 1537.5L312.69 1537.58L313.94 1537.66L315.19 1537.73L316.44 1537.8L317.69 1537.86L318.94 1537.91L320.19 1537.95L321.44 1537.99L322.69 1538.02L323.94 1538.04L325.2 1538.06L326.45 1538.07L327.7 1538.08L328.95 1538.08L330.2 1538.08L331.45 1538.06L332.7 1538.05L333.95 1538.03L335.2 1538L336.45 1537.97L337.7 1537.93L338.95 1537.89L340.2 1537.84L341.45 1537.79L342.71 1537.74L343.96 1537.68L345.21 1537.61L346.46 1537.54L347.71 1537.47L348.96 1537.4L350.21 1537.32L351.46 1537.23L352.71 1537.15L353.96 1537.06L355.21 1536.97L356.46 1536.87L357.71 1536.77L358.97 1536.67L360.22 1536.57L361.47 1536.46L362.72 1536.35L363.97 1536.24L365.22 1536.13L366.47 1536.02L367.72 1535.9L368.97 1535.78L370.22 1535.66L371.47 1535.54L372.72 1535.42L373.97 1535.29L375.23 1535.17L376.48 1535.04L377.73 1534.92L378.98 1534.79L380.23 1534.66L381.48 1534.53L382.73 1534.41L383.98 1534.28L385.23 1534.15L386.48 1534.02L387.73 1533.89L388.98 1533.77L390.23 1533.64L391.48 1533.51L392.74 1533.39L393.99 1533.26L395.24 1533.14L396.49 1533.02L397.74 1532.9L398.99 1532.78L400.24 1532.66L401.49 1532.54L402.74 1532.43L403.99 1532.32L405.24 1532.21L406.49 1532.1L407.74 1531.99L409 1531.89L410.25 1531.79L411.5 1531.69L412.75 1531.59L414 1531.5L415.25 1531.41L416.5 1531.32L417.75 1531.23L419 1531.14L420.25 1531.06L421.5 1530.98L422.75 1530.9L424 1530.82L425.25 1530.75L426.51 1530.67L427.76 1530.6L429.01 1530.53L430.26 1530.46L431.51 1530.4L432.76 1530.33L434.01 1530.27L435.26 1530.2L436.51 1530.14L437.76 1530.08L439.01 1530.03L440.26 1529.97L441.51 1529.91L442.77 1529.86L444.02 1529.8L445.27 1529.75L446.52 1529.7L447.77 1529.65L449.02 1529.6L450.27 1529.55L451.52 1529.5L452.77 1529.46L454.02 1529.41L455.27 1529.36L456.52 1529.32L457.77 1529.28L459.03 1529.23L460.28 1529.19L461.53 1529.15L462.78 1529.1L464.03 1529.06L465.28 1529.02L466.53 1528.98L467.78 1528.94L469.03 1528.89L470.28 1528.85L471.53 1528.81L472.78 1528.77L474.03 1528.73L475.29 1528.69L476.54 1528.65L477.79 1528.61L479.04 1528.56L480.29 1528.52L481.54 1528.48L482.79 1528.44L484.04 1528.39L485.29 1528.35L486.54 1528.3L487.79 1528.26L489.04 1528.21L490.29 1528.17L491.54 1528.12L492.8 1528.07L494.05 1528.02L495.3 1527.98L496.55 1527.93L497.8 1527.87L499.05 1527.82L500.3 1527.77" stroke="#00ffff"/>
</g>
<g font-family='"Liberation Serif", serif' font-weight="bold" font-style="italic" fill="#222222" font-size="38.2">
<text x="-13" y="2107.21" text-anchor="end">0</text>
<text x="-13.9" y="1994.2" text-anchor="end">0.2</text>
<text x="-13.9" y="1882.08" text-anchor="end">0.4</text>
<text x="-13.9" y="1769.97" text-anchor="end">0.6</text>
<text x="-13.9" y="1657.86" text-anchor="end">0.8</text>
<text x="-11.3" y="1545.74" text-anchor="end">1</text>
<text x="0" y="2143.41" text-anchor="middle">0</text>
<text x="166.77" y="2143.41" text-anchor="middle">2</text>
<text x="333.53" y="2143.41" text-anchor="middle">4</text>
<text x="500.3" y="2143.41" text-anchor="middle">6</text>
<text x="259.6" y="2188.5" text-anchor="middle" font-size="38">η</text>
</g>
<text transform="translate(-84.2,1783.3) rotate(-90)" text-anchor="middle" font-family='"Liberation Serif", serif' font-style="italic" font-weight="bold" font-size="38.5" fill="#222222" y="9.24">Be(η)</text>
<rect x="282.3" y="1892.3" width="195.6" height="171.8" fill="#fff" stroke="#1e1e1e" stroke-width="1.5"/>
<path d="M296.5 1917.2H363.95" stroke="#ff0000" stroke-width="4.59" fill="none" stroke-dasharray="3.55 3.55"/>
<text x="373.9" y="1930.27" font-family='"Liberation Serif", serif' font-weight="bold" font-style="italic" font-size="33.5" fill="#000" xml:space="preserve" textLength="98.19" lengthAdjust="spacingAndGlyphs">n = 0.1</text>
<path d="M296.5 1957.7H369.2" stroke="#0000ff" stroke-width="5.1" fill="none" stroke-dasharray="14.2 3.55 7.1 3.55"/>
<text x="373.9" y="1970.77" font-family='"Liberation Serif", serif' font-weight="bold" font-style="italic" font-size="33.5" fill="#000" xml:space="preserve" textLength="98.19" lengthAdjust="spacingAndGlyphs">n = 0.3</text>
<path d="M296.5 1998.7H369.2" stroke="#00ff00" stroke-width="5.1" fill="none" stroke-dasharray="14.2 14.2"/>
<text x="373.9" y="2011.77" font-family='"Liberation Serif", serif' font-weight="bold" font-style="italic" font-size="33.5" fill="#000" xml:space="preserve" textLength="98.19" lengthAdjust="spacingAndGlyphs">n = 0.5</text>
<path d="M296.5 2039.2H369.2" stroke="#00ffff" stroke-width="5.1" fill="none"/>
<text x="373.9" y="2052.26" font-family='"Liberation Serif", serif' font-weight="bold" font-style="italic" font-size="33.5" fill="#000" xml:space="preserve" textLength="98.19" lengthAdjust="spacingAndGlyphs">n = 0.7</text>
</g>
<line x1="946.4" y1="1498.4" x2="976.51" y2="1579.26" stroke="#000" stroke-width="2.3"/><polygon points="983.9,1599.1 963.94,1575.59 976.51,1579.26 983.62,1568.26" fill="#000"/>
<text x="658" y="1479.3" font-family='"Liberation Sans", sans-serif' font-weight="bold" font-size="42.5" fill="#000">F</text>
</svg>
</body></html>
